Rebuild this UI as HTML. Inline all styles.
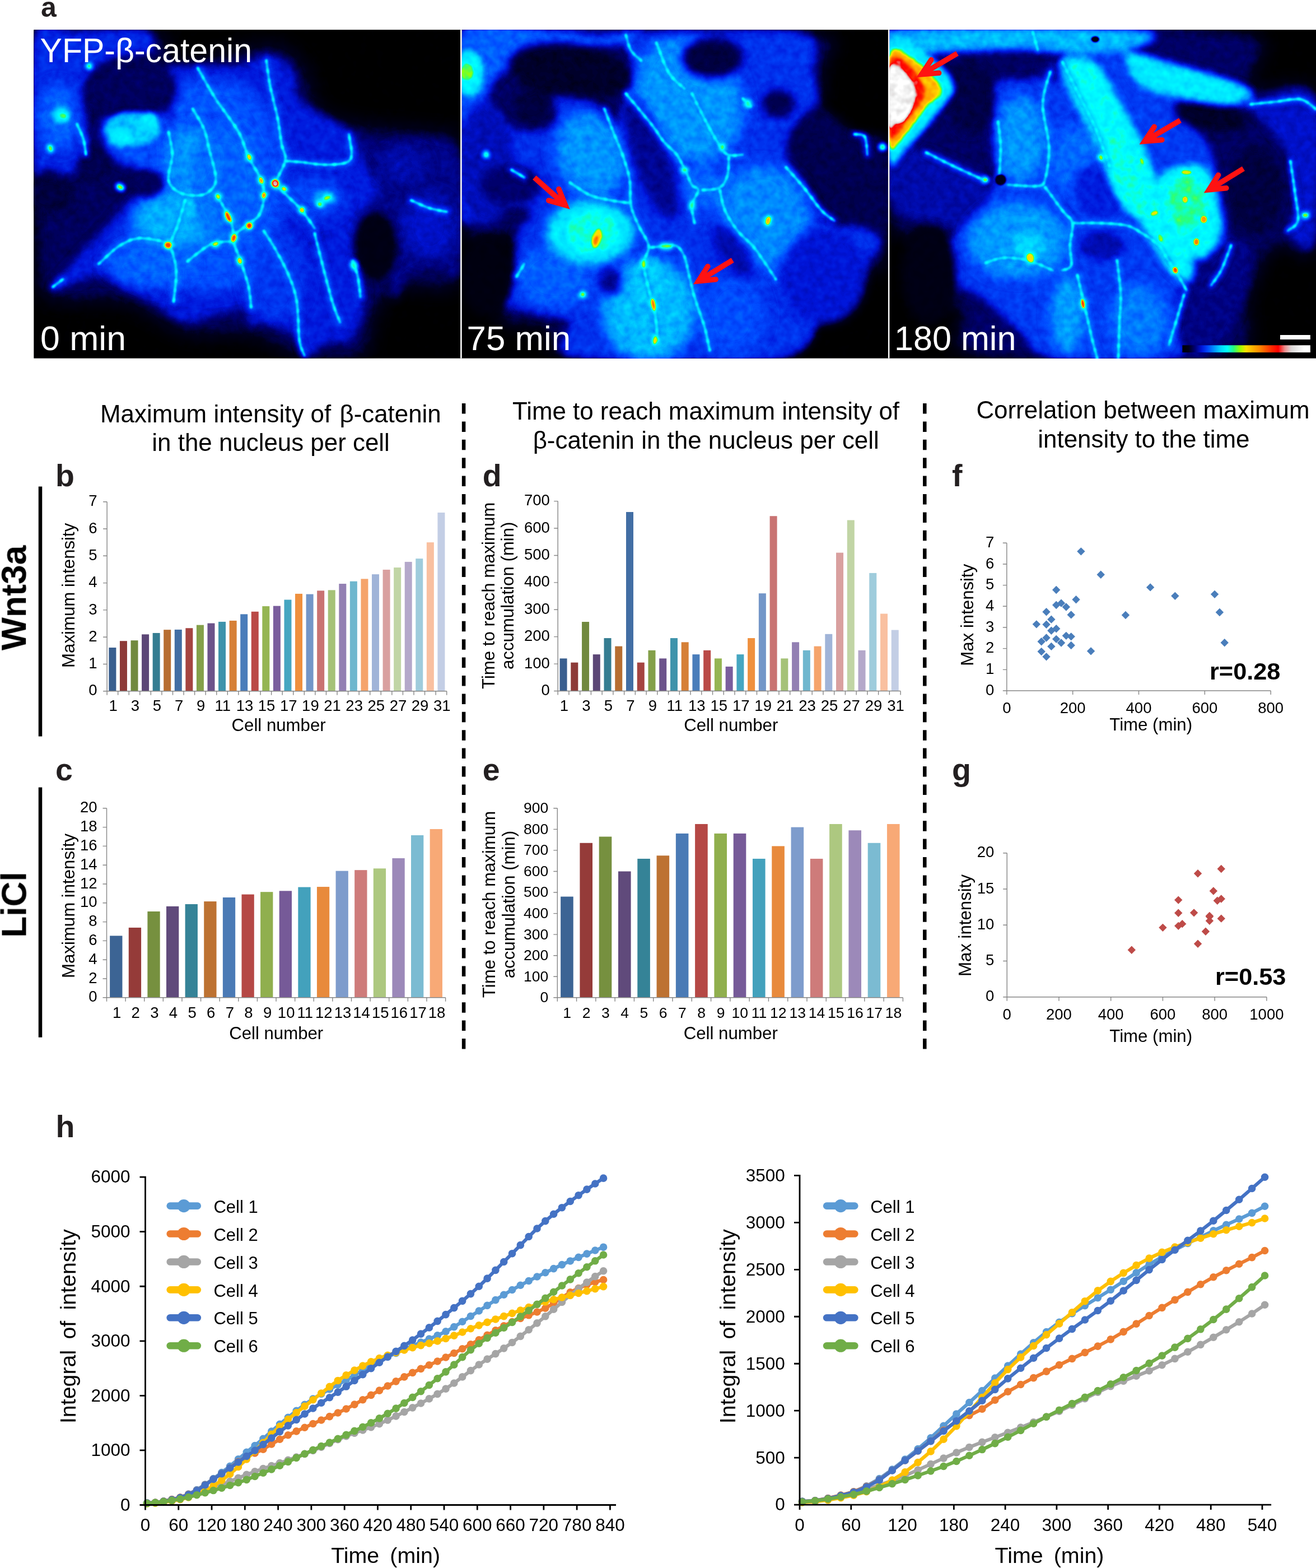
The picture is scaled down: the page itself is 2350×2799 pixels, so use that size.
<!DOCTYPE html>
<html lang="en"><head><meta charset="utf-8"><title>Figure</title>
<style>html,body{margin:0;padding:0;background:#fff}svg{display:block}</style></head><body>
<svg width="2350" height="2799" viewBox="0 0 2350 2799">
<rect width="2350" height="2799" fill="#fff"/>
<defs>
<filter id="lut" color-interpolation-filters="sRGB" filterUnits="userSpaceOnUse" x="60" y="53" width="2290" height="587"><feTurbulence type="fractalNoise" baseFrequency="0.07" numOctaves="2" seed="7" result="n"/><feColorMatrix in="n" type="matrix" values="1 0 0 0 0 1 0 0 0 0 1 0 0 0 0 0 0 0 0 1" result="g"/><feComposite in="SourceGraphic" in2="g" operator="arithmetic" k1="0.2" k2="0.9" k3="0.012" k4="-0.006"/><feComponentTransfer>
<feFuncR type="table" tableValues="0 0 0 0 0 0 0 0 0.15 0.6 1 1 1 1 1 1 0.92 0.86 0.92 1 1"/>
<feFuncG type="table" tableValues="0 0 0 0.08 0.3 0.58 0.85 1 1 1 0.87 0.7 0.55 0.35 0.15 0 0.55 0.84 0.92 1 1"/>
<feFuncB type="table" tableValues="0 0.1 0.47 0.85 1 1 1 1 0.5 0 0 0 0 0 0 0 0.55 0.84 0.92 1 1"/>
</feComponentTransfer></filter>
<filter id="b3" color-interpolation-filters="sRGB" filterUnits="userSpaceOnUse" x="-100" y="-80" width="1970" height="1530"><feGaussianBlur stdDeviation="3"/></filter>
<filter id="b4" color-interpolation-filters="sRGB" filterUnits="userSpaceOnUse" x="-100" y="-80" width="1970" height="1530"><feGaussianBlur stdDeviation="4"/></filter>
<filter id="b5" color-interpolation-filters="sRGB" filterUnits="userSpaceOnUse" x="-100" y="-80" width="1970" height="1530"><feGaussianBlur stdDeviation="5"/></filter>
<filter id="b7" color-interpolation-filters="sRGB" filterUnits="userSpaceOnUse" x="-100" y="-80" width="1970" height="1530"><feGaussianBlur stdDeviation="7"/></filter>
<filter id="b9" color-interpolation-filters="sRGB" filterUnits="userSpaceOnUse" x="-100" y="-80" width="1970" height="1530"><feGaussianBlur stdDeviation="9"/></filter>
<filter id="b11" color-interpolation-filters="sRGB" filterUnits="userSpaceOnUse" x="-100" y="-80" width="1970" height="1530"><feGaussianBlur stdDeviation="11"/></filter>
<filter id="b12" color-interpolation-filters="sRGB" filterUnits="userSpaceOnUse" x="-100" y="-80" width="1970" height="1530"><feGaussianBlur stdDeviation="12"/></filter>
<filter id="b14" color-interpolation-filters="sRGB" filterUnits="userSpaceOnUse" x="-100" y="-80" width="1970" height="1530"><feGaussianBlur stdDeviation="14"/></filter>
<filter id="b15" color-interpolation-filters="sRGB" filterUnits="userSpaceOnUse" x="-100" y="-80" width="1970" height="1530"><feGaussianBlur stdDeviation="15"/></filter>
<filter id="b16" color-interpolation-filters="sRGB" filterUnits="userSpaceOnUse" x="-100" y="-80" width="1970" height="1530"><feGaussianBlur stdDeviation="16"/></filter>
<filter id="b17" color-interpolation-filters="sRGB" filterUnits="userSpaceOnUse" x="-100" y="-80" width="1970" height="1530"><feGaussianBlur stdDeviation="17"/></filter>
<filter id="b20" color-interpolation-filters="sRGB" filterUnits="userSpaceOnUse" x="-100" y="-80" width="1970" height="1530"><feGaussianBlur stdDeviation="20"/></filter>
<filter id="b24" color-interpolation-filters="sRGB" filterUnits="userSpaceOnUse" x="-100" y="-80" width="1970" height="1530"><feGaussianBlur stdDeviation="24"/></filter>
<filter id="b26" color-interpolation-filters="sRGB" filterUnits="userSpaceOnUse" x="-100" y="-80" width="1970" height="1530"><feGaussianBlur stdDeviation="26"/></filter>
<filter id="b30" color-interpolation-filters="sRGB" filterUnits="userSpaceOnUse" x="-100" y="-80" width="1970" height="1530"><feGaussianBlur stdDeviation="30"/></filter>
<filter id="b32" color-interpolation-filters="sRGB" filterUnits="userSpaceOnUse" x="-100" y="-80" width="1970" height="1530"><feGaussianBlur stdDeviation="32"/></filter>
<filter id="b34" color-interpolation-filters="sRGB" filterUnits="userSpaceOnUse" x="-100" y="-80" width="1970" height="1530"><feGaussianBlur stdDeviation="34"/></filter>
<clipPath id="cp0"><rect x="60.4" y="53.2" width="761.7" height="586.4"/></clipPath>
<clipPath id="cp1"><rect x="824.7" y="53.2" width="761.2" height="586.4"/></clipPath>
<clipPath id="cp2"><rect x="1588.4" y="53.2" width="761.6" height="586.4"/></clipPath>
</defs>
<g filter="url(#lut)">
<rect x="60.4" y="53.2" width="2289.6" height="586.4" fill="#000"/>
<g clip-path="url(#cp0)"><g transform="translate(40,40) scale(0.45377)">
<g filter="url(#b34)">
<path d="M45 30C124.2 -115 424.2 10 520 30C615.8 50 543.3 141.7 620 150C696.7 158.3 896.7 75 980 80C1063.3 85 1088.3 138.3 1120 180C1151.7 221.7 1136.7 295 1170 330C1203.3 365 1248.3 375 1320 390C1391.7 405 1532.5 405 1600 420C1667.5 435 1704.2 381.7 1725 480C1745.8 578.3 1762.5 915 1725 1010C1687.5 1105 1554.2 1028.3 1500 1050C1445.8 1071.7 1426.7 1095 1400 1140C1373.3 1185 1391.7 1290 1340 1320C1288.3 1350 1163.3 1333.3 1090 1320C1016.7 1306.7 975 1255 900 1240C825 1225 723.3 1251.7 640 1230C556.7 1208.3 490 1133.3 400 1110C310 1086.7 159.2 1125 100 1090C40.8 1055 54.2 1076.7 45 900C35.8 723.3 -34.2 175 45 30Z" fill="#161616"/>
</g>
<g filter="url(#b16)">
<path d="M45 50C70.8 -38.3 152.5 43.3 200 40C247.5 36.7 281.7 31.7 330 30C378.3 28.3 460 16.7 490 30C520 43.3 535 90 510 110C485 130 380.8 130 340 150C299.2 170 281.7 200 265 230C248.3 260 240.8 293.3 240 330C239.2 366.7 260 415 260 450C260 485 253.3 515 240 540C226.7 565 203.3 595 180 600C156.7 605 122.5 575 100 570C77.5 565 54.2 656.7 45 570C35.8 483.3 19.2 138.3 45 50Z" fill="#2b2b2b"/>
<path d="M560 190C576.7 162.5 651.7 168.3 700 165C748.3 161.7 806.7 176.7 850 170C893.3 163.3 925 123.3 960 125C995 126.7 1038.3 150.8 1060 180C1081.7 209.2 1070 270 1090 300C1110 330 1146.7 338.3 1180 360C1213.3 381.7 1265 403.3 1290 430C1315 456.7 1311.7 485 1330 520C1348.3 555 1381.7 611.7 1400 640C1418.3 668.3 1451.7 670 1440 690C1428.3 710 1353.3 725 1330 760C1306.7 795 1298.3 860 1300 900C1301.7 940 1332.5 961.7 1340 1000C1347.5 1038.3 1353.3 1088.3 1345 1130C1336.7 1171.7 1314.2 1228.3 1290 1250C1265.8 1271.7 1228.3 1248.3 1200 1260C1171.7 1271.7 1140 1323.3 1120 1320C1100 1316.7 1106.7 1263.3 1080 1240C1053.3 1216.7 991.7 1188.3 960 1180C928.3 1171.7 905 1198.3 890 1190C875 1181.7 891.7 1136.7 870 1130C848.3 1123.3 798.3 1141.7 760 1150C721.7 1158.3 680 1186.7 640 1180C600 1173.3 556.7 1130 520 1110C483.3 1090 456.7 1078.3 420 1060C383.3 1041.7 350 1001.7 300 1000C250 998.3 133.3 1063.3 120 1050C106.7 1036.7 185 961.7 220 920C255 878.3 296.7 836.7 330 800C363.3 763.3 388.3 726.7 420 700C451.7 673.3 496.7 663.3 520 640C543.3 616.7 553.3 595 560 560C566.7 525 553.3 468.3 560 430C566.7 391.7 600 370 600 330C600 290 543.3 217.5 560 190Z" fill="#282828"/>
<path d="M1290 430C1290 401.7 1355 466.7 1400 470C1445 473.3 1505.8 440 1560 450C1614.2 460 1697.5 441.7 1725 530C1752.5 618.3 1742.5 908.3 1725 980C1707.5 1051.7 1654.2 956.7 1620 960C1585.8 963.3 1545 976.7 1520 1000C1495 1023.3 1483.3 1100 1470 1100C1456.7 1100 1438.3 1033.3 1440 1000C1441.7 966.7 1478.3 933.3 1480 900C1481.7 866.7 1475 823.3 1450 800C1425 776.7 1338.3 786.7 1330 760C1321.7 733.3 1406.7 695 1400 640C1393.3 585 1290 458.3 1290 430Z" fill="#1c1c1c"/>
<path d="M330 370C365 343.3 497.5 326.7 540 340C582.5 353.3 579.2 406.7 585 450C590.8 493.3 602.5 580.8 575 600C547.5 619.2 460.8 581.7 420 565C379.2 548.3 345 532.5 330 500C315 467.5 295 396.7 330 370Z" fill="#333333"/>
</g>
<g filter="url(#b30)">
<path d="M600 260C645 200 800 226.7 860 240C920 253.3 933.3 301.7 960 340C986.7 378.3 1006.7 416.7 1020 470C1033.3 523.3 1043.3 596.7 1040 660C1036.7 723.3 1013.3 793.3 1000 850C986.7 906.7 983.3 968.3 960 1000C936.7 1031.7 903.3 1030 860 1040C816.7 1050 763.3 1063.3 700 1060C636.7 1056.7 540 1043.3 480 1020C420 996.7 341.7 966.7 340 920C338.3 873.3 428.3 793.3 470 740C511.7 686.7 568.3 680 590 600C611.7 520 555 320 600 260Z" fill="#343434"/>
</g>
<g filter="url(#b26)">
<ellipse cx="140" cy="370" rx="80" ry="130" fill="#373737"/>
<ellipse cx="655" cy="540" rx="100" ry="130" fill="#404040"/>
<ellipse cx="620" cy="770" rx="190" ry="110" fill="#454545"/>
<ellipse cx="800" cy="640" rx="140" ry="230" fill="#383838" opacity="0.85"/>
<ellipse cx="1150" cy="690" rx="120" ry="80" fill="#323232"/>
<ellipse cx="500" cy="960" rx="170" ry="80" fill="#373737"/>
<ellipse cx="1000" cy="1000" rx="120" ry="180" fill="#2f2f2f" opacity="0.8"/>
<ellipse cx="1600" cy="800" rx="110" ry="130" fill="#242424"/>
<ellipse cx="1500" cy="560" rx="90" ry="70" fill="#212121"/>
</g>
<g filter="url(#b15)">
<ellipse cx="425" cy="262" rx="180" ry="115" fill="#161616"/>
<ellipse cx="282" cy="555" rx="58" ry="58" fill="#141414"/>
<ellipse cx="488" cy="635" rx="68" ry="52" fill="#161616"/>
<ellipse cx="110" cy="680" rx="90" ry="70" fill="#121212"/>
<ellipse cx="1160" cy="850" rx="26" ry="26" fill="#1f1f1f"/>
<ellipse cx="1390" cy="880" rx="75" ry="130" fill="#0a0a0a"/>
</g>
<g filter="url(#b11)">
<ellipse cx="433" cy="420" rx="110" ry="68" fill="#494949"/>
<ellipse cx="495" cy="388" rx="36" ry="34" fill="#545454"/>
<ellipse cx="385" cy="452" rx="48" ry="36" fill="#545454"/>
<ellipse cx="152" cy="365" rx="36" ry="36" fill="#4f4f4f"/>
<ellipse cx="650" cy="720" rx="28" ry="60" fill="#4a4a4a"/>
<ellipse cx="1190" cy="690" rx="50" ry="30" fill="#454545"/>
</g>
<g filter="url(#b9)">
<path d="M690 180C701.7 200 733.3 258.3 760 300C786.7 341.7 828.3 391.7 850 430C871.7 468.3 875 498.3 890 530C905 561.7 930 593.3 940 620C950 646.7 951.7 666.7 950 690C948.3 713.3 941.7 741.7 930 760C918.3 778.3 896.7 785 880 800C863.3 815 833.3 826.7 830 850C826.7 873.3 850 908.3 860 940C870 971.7 883.3 1010 890 1040C896.7 1070 898.3 1106.7 900 1120" fill="none" stroke="#404040" stroke-width="26" stroke-linecap="round" opacity="0.6"/>
<path d="M960 150C962.5 166.7 967.5 211.7 975 250C982.5 288.3 997.5 341.7 1005 380C1012.5 418.3 1015 453.3 1020 480C1025 506.7 1038.3 516.7 1035 540C1031.7 563.3 1005.8 606.7 1000 620" fill="none" stroke="#404040" stroke-width="26" stroke-linecap="round" opacity="0.6"/>
<path d="M670 340C677.5 353.3 704.2 393.3 715 420C725.8 446.7 727.5 470 735 500C742.5 530 757.5 575 760 600C762.5 625 760 636.7 750 650C740 663.3 721.7 676.7 700 680C678.3 683.3 640.8 680 620 670C599.2 660 580 645 575 620C570 595 590 551.7 590 520C590 488.3 577.5 445 575 430" fill="none" stroke="#404040" stroke-width="26" stroke-linecap="round" opacity="0.6"/>
<path d="M765 680C770.8 690 790.8 723.3 800 740C809.2 756.7 814.2 761.7 820 780C825.8 798.3 832.5 838.3 835 850" fill="none" stroke="#404040" stroke-width="26" stroke-linecap="round" opacity="0.6"/>
<path d="M300 950C313.3 938.3 355 896.7 380 880C405 863.3 426.7 854.2 450 850C473.3 845.8 499.2 850.8 520 855C540.8 859.2 561.7 860.8 575 875C588.3 889.2 595 919.2 600 940C605 960.8 605.8 973.3 605 1000C604.2 1026.7 596.7 1083.3 595 1100" fill="none" stroke="#404040" stroke-width="26" stroke-linecap="round" opacity="0.6"/>
<path d="M1035 545C1045.8 545.8 1072.5 547.5 1100 550C1127.5 552.5 1168.3 561.7 1200 560C1231.7 558.3 1275.8 560 1290 540C1304.2 520 1285.8 456.7 1285 440" fill="none" stroke="#404040" stroke-width="26" stroke-linecap="round" opacity="0.6"/>
<path d="M1000 640C1006.7 646.7 1023.3 663.3 1040 680C1056.7 696.7 1081.7 718.3 1100 740C1118.3 761.7 1141.7 798.3 1150 810" fill="none" stroke="#404040" stroke-width="26" stroke-linecap="round" opacity="0.6"/>
<path d="M950 820C958.3 833.3 983.3 870 1000 900C1016.7 930 1036.7 966.7 1050 1000C1063.3 1033.3 1073.3 1058.3 1080 1100C1086.7 1141.7 1085 1215 1090 1250C1095 1285 1106.7 1300 1110 1310" fill="none" stroke="#404040" stroke-width="26" stroke-linecap="round" opacity="0.6"/>
<path d="M650 940C658.3 933.3 683.3 911.7 700 900C716.7 888.3 728.3 876.7 750 870C771.7 863.3 816.7 861.7 830 860" fill="none" stroke="#404040" stroke-width="26" stroke-linecap="round" opacity="0.6"/>
<path d="M1300 940C1303.3 950 1315 976.7 1320 1000C1325 1023.3 1328.3 1066.7 1330 1080" fill="none" stroke="#404040" stroke-width="26" stroke-linecap="round" opacity="0.6"/>
<path d="M1530 700C1541.7 705 1576.7 722.5 1600 730C1623.3 737.5 1658.3 742.5 1670 745" fill="none" stroke="#404040" stroke-width="26" stroke-linecap="round" opacity="0.6"/>
<path d="M1150 830C1155 850 1168.3 905 1180 950C1191.7 995 1208.3 1061.7 1220 1100C1231.7 1138.3 1245 1166.7 1250 1180" fill="none" stroke="#404040" stroke-width="26" stroke-linecap="round" opacity="0.6"/>
<path d="M640 700C635 716.7 620 771.7 610 800C600 828.3 585 858.3 580 870" fill="none" stroke="#404040" stroke-width="26" stroke-linecap="round" opacity="0.6"/>
<path d="M120 1040L160 1010" fill="none" stroke="#404040" stroke-width="26" stroke-linecap="round" opacity="0.6"/>
<path d="M215 400C219.2 410 234.2 440 240 460C245.8 480 248.3 510 250 520" fill="none" stroke="#404040" stroke-width="26" stroke-linecap="round" opacity="0.6"/>
</g>
<g filter="url(#b4)">
<path d="M690 180C701.7 200 733.3 258.3 760 300C786.7 341.7 828.3 391.7 850 430C871.7 468.3 875 498.3 890 530C905 561.7 930 593.3 940 620C950 646.7 951.7 666.7 950 690C948.3 713.3 941.7 741.7 930 760C918.3 778.3 896.7 785 880 800C863.3 815 833.3 826.7 830 850C826.7 873.3 850 908.3 860 940C870 971.7 883.3 1010 890 1040C896.7 1070 898.3 1106.7 900 1120" fill="none" stroke="#535353" stroke-width="7.5" stroke-linecap="round"/>
<path d="M690 180C701.7 200 733.3 258.3 760 300C786.7 341.7 828.3 391.7 850 430C871.7 468.3 875 498.3 890 530C905 561.7 930 593.3 940 620C950 646.7 951.7 666.7 950 690C948.3 713.3 941.7 741.7 930 760C918.3 778.3 896.7 785 880 800C863.3 815 833.3 826.7 830 850C826.7 873.3 850 908.3 860 940C870 971.7 883.3 1010 890 1040C896.7 1070 898.3 1106.7 900 1120" fill="none" stroke="#5d5d5d" stroke-width="9.5" stroke-linecap="round" stroke-dasharray="8 30"/>
<path d="M960 150C962.5 166.7 967.5 211.7 975 250C982.5 288.3 997.5 341.7 1005 380C1012.5 418.3 1015 453.3 1020 480C1025 506.7 1038.3 516.7 1035 540C1031.7 563.3 1005.8 606.7 1000 620" fill="none" stroke="#535353" stroke-width="7.5" stroke-linecap="round"/>
<path d="M960 150C962.5 166.7 967.5 211.7 975 250C982.5 288.3 997.5 341.7 1005 380C1012.5 418.3 1015 453.3 1020 480C1025 506.7 1038.3 516.7 1035 540C1031.7 563.3 1005.8 606.7 1000 620" fill="none" stroke="#5d5d5d" stroke-width="9.5" stroke-linecap="round" stroke-dasharray="8 30"/>
<path d="M670 340C677.5 353.3 704.2 393.3 715 420C725.8 446.7 727.5 470 735 500C742.5 530 757.5 575 760 600C762.5 625 760 636.7 750 650C740 663.3 721.7 676.7 700 680C678.3 683.3 640.8 680 620 670C599.2 660 580 645 575 620C570 595 590 551.7 590 520C590 488.3 577.5 445 575 430" fill="none" stroke="#535353" stroke-width="7.5" stroke-linecap="round"/>
<path d="M670 340C677.5 353.3 704.2 393.3 715 420C725.8 446.7 727.5 470 735 500C742.5 530 757.5 575 760 600C762.5 625 760 636.7 750 650C740 663.3 721.7 676.7 700 680C678.3 683.3 640.8 680 620 670C599.2 660 580 645 575 620C570 595 590 551.7 590 520C590 488.3 577.5 445 575 430" fill="none" stroke="#5d5d5d" stroke-width="9.5" stroke-linecap="round" stroke-dasharray="8 30"/>
<path d="M765 680C770.8 690 790.8 723.3 800 740C809.2 756.7 814.2 761.7 820 780C825.8 798.3 832.5 838.3 835 850" fill="none" stroke="#535353" stroke-width="7.5" stroke-linecap="round"/>
<path d="M765 680C770.8 690 790.8 723.3 800 740C809.2 756.7 814.2 761.7 820 780C825.8 798.3 832.5 838.3 835 850" fill="none" stroke="#5d5d5d" stroke-width="9.5" stroke-linecap="round" stroke-dasharray="8 30"/>
<path d="M300 950C313.3 938.3 355 896.7 380 880C405 863.3 426.7 854.2 450 850C473.3 845.8 499.2 850.8 520 855C540.8 859.2 561.7 860.8 575 875C588.3 889.2 595 919.2 600 940C605 960.8 605.8 973.3 605 1000C604.2 1026.7 596.7 1083.3 595 1100" fill="none" stroke="#535353" stroke-width="7.5" stroke-linecap="round"/>
<path d="M300 950C313.3 938.3 355 896.7 380 880C405 863.3 426.7 854.2 450 850C473.3 845.8 499.2 850.8 520 855C540.8 859.2 561.7 860.8 575 875C588.3 889.2 595 919.2 600 940C605 960.8 605.8 973.3 605 1000C604.2 1026.7 596.7 1083.3 595 1100" fill="none" stroke="#5d5d5d" stroke-width="9.5" stroke-linecap="round" stroke-dasharray="8 30"/>
<path d="M1035 545C1045.8 545.8 1072.5 547.5 1100 550C1127.5 552.5 1168.3 561.7 1200 560C1231.7 558.3 1275.8 560 1290 540C1304.2 520 1285.8 456.7 1285 440" fill="none" stroke="#535353" stroke-width="7.5" stroke-linecap="round"/>
<path d="M1035 545C1045.8 545.8 1072.5 547.5 1100 550C1127.5 552.5 1168.3 561.7 1200 560C1231.7 558.3 1275.8 560 1290 540C1304.2 520 1285.8 456.7 1285 440" fill="none" stroke="#5d5d5d" stroke-width="9.5" stroke-linecap="round" stroke-dasharray="8 30"/>
<path d="M1000 640C1006.7 646.7 1023.3 663.3 1040 680C1056.7 696.7 1081.7 718.3 1100 740C1118.3 761.7 1141.7 798.3 1150 810" fill="none" stroke="#535353" stroke-width="7.5" stroke-linecap="round"/>
<path d="M1000 640C1006.7 646.7 1023.3 663.3 1040 680C1056.7 696.7 1081.7 718.3 1100 740C1118.3 761.7 1141.7 798.3 1150 810" fill="none" stroke="#5d5d5d" stroke-width="9.5" stroke-linecap="round" stroke-dasharray="8 30"/>
<path d="M950 820C958.3 833.3 983.3 870 1000 900C1016.7 930 1036.7 966.7 1050 1000C1063.3 1033.3 1073.3 1058.3 1080 1100C1086.7 1141.7 1085 1215 1090 1250C1095 1285 1106.7 1300 1110 1310" fill="none" stroke="#535353" stroke-width="7.5" stroke-linecap="round"/>
<path d="M950 820C958.3 833.3 983.3 870 1000 900C1016.7 930 1036.7 966.7 1050 1000C1063.3 1033.3 1073.3 1058.3 1080 1100C1086.7 1141.7 1085 1215 1090 1250C1095 1285 1106.7 1300 1110 1310" fill="none" stroke="#5d5d5d" stroke-width="9.5" stroke-linecap="round" stroke-dasharray="8 30"/>
<path d="M650 940C658.3 933.3 683.3 911.7 700 900C716.7 888.3 728.3 876.7 750 870C771.7 863.3 816.7 861.7 830 860" fill="none" stroke="#535353" stroke-width="7.5" stroke-linecap="round"/>
<path d="M650 940C658.3 933.3 683.3 911.7 700 900C716.7 888.3 728.3 876.7 750 870C771.7 863.3 816.7 861.7 830 860" fill="none" stroke="#5d5d5d" stroke-width="9.5" stroke-linecap="round" stroke-dasharray="8 30"/>
<path d="M1300 940C1303.3 950 1315 976.7 1320 1000C1325 1023.3 1328.3 1066.7 1330 1080" fill="none" stroke="#535353" stroke-width="7.5" stroke-linecap="round"/>
<path d="M1300 940C1303.3 950 1315 976.7 1320 1000C1325 1023.3 1328.3 1066.7 1330 1080" fill="none" stroke="#5d5d5d" stroke-width="9.5" stroke-linecap="round" stroke-dasharray="8 30"/>
<path d="M1530 700C1541.7 705 1576.7 722.5 1600 730C1623.3 737.5 1658.3 742.5 1670 745" fill="none" stroke="#535353" stroke-width="7.5" stroke-linecap="round"/>
<path d="M1530 700C1541.7 705 1576.7 722.5 1600 730C1623.3 737.5 1658.3 742.5 1670 745" fill="none" stroke="#5d5d5d" stroke-width="9.5" stroke-linecap="round" stroke-dasharray="8 30"/>
<path d="M1150 830C1155 850 1168.3 905 1180 950C1191.7 995 1208.3 1061.7 1220 1100C1231.7 1138.3 1245 1166.7 1250 1180" fill="none" stroke="#535353" stroke-width="7.5" stroke-linecap="round"/>
<path d="M1150 830C1155 850 1168.3 905 1180 950C1191.7 995 1208.3 1061.7 1220 1100C1231.7 1138.3 1245 1166.7 1250 1180" fill="none" stroke="#5d5d5d" stroke-width="9.5" stroke-linecap="round" stroke-dasharray="8 30"/>
<path d="M640 700C635 716.7 620 771.7 610 800C600 828.3 585 858.3 580 870" fill="none" stroke="#535353" stroke-width="7.5" stroke-linecap="round"/>
<path d="M640 700C635 716.7 620 771.7 610 800C600 828.3 585 858.3 580 870" fill="none" stroke="#5d5d5d" stroke-width="9.5" stroke-linecap="round" stroke-dasharray="8 30"/>
<path d="M120 1040L160 1010" fill="none" stroke="#535353" stroke-width="7.5" stroke-linecap="round"/>
<path d="M120 1040L160 1010" fill="none" stroke="#5d5d5d" stroke-width="9.5" stroke-linecap="round" stroke-dasharray="8 30"/>
<path d="M215 400C219.2 410 234.2 440 240 460C245.8 480 248.3 510 250 520" fill="none" stroke="#535353" stroke-width="7.5" stroke-linecap="round"/>
<path d="M215 400C219.2 410 234.2 440 240 460C245.8 480 248.3 510 250 520" fill="none" stroke="#5d5d5d" stroke-width="9.5" stroke-linecap="round" stroke-dasharray="8 30"/>
</g>
<g filter="url(#b7)">
<ellipse cx="995" cy="633" rx="22" ry="23" fill="#5c5c5c" opacity="0.8"/>
<ellipse cx="940" cy="622" rx="16" ry="21" fill="#5c5c5c" transform="rotate(-20 940 622)" opacity="0.8"/>
<ellipse cx="1030" cy="655" rx="18" ry="15" fill="#5c5c5c" transform="rotate(30 1030 655)" opacity="0.8"/>
<ellipse cx="893" cy="530" rx="16" ry="20" fill="#5c5c5c" transform="rotate(-20 893 530)" opacity="0.8"/>
<ellipse cx="950" cy="680" rx="16" ry="20" fill="#5c5c5c" transform="rotate(10 950 680)" opacity="0.8"/>
<ellipse cx="810" cy="765" rx="17" ry="29" fill="#5c5c5c" transform="rotate(-25 810 765)" opacity="0.8"/>
<ellipse cx="893" cy="800" rx="20" ry="20" fill="#5c5c5c" opacity="0.8"/>
<ellipse cx="832" cy="848" rx="18" ry="23" fill="#5c5c5c" transform="rotate(20 832 848)" opacity="0.8"/>
<ellipse cx="573" cy="876" rx="22" ry="21" fill="#5c5c5c" opacity="0.8"/>
<ellipse cx="760" cy="872" rx="20" ry="15" fill="#5c5c5c" transform="rotate(-20 760 872)" opacity="0.8"/>
<ellipse cx="855" cy="938" rx="16" ry="20" fill="#5c5c5c" transform="rotate(-15 855 938)" opacity="0.8"/>
<ellipse cx="1100" cy="738" rx="17" ry="18" fill="#5c5c5c" opacity="0.8"/>
<ellipse cx="1200" cy="690" rx="23" ry="16" fill="#5c5c5c" transform="rotate(-20 1200 690)" opacity="0.8"/>
<ellipse cx="385" cy="648" rx="21" ry="16" fill="#5c5c5c" transform="rotate(30 385 648)" opacity="0.8"/>
<ellipse cx="110" cy="495" rx="16" ry="19" fill="#5c5c5c" transform="rotate(-20 110 495)" opacity="0.8"/>
<ellipse cx="160" cy="368" rx="21" ry="18" fill="#5c5c5c" opacity="0.8"/>
<ellipse cx="770" cy="685" rx="16" ry="18" fill="#5c5c5c" transform="rotate(-30 770 685)" opacity="0.8"/>
<ellipse cx="1305" cy="955" rx="16" ry="21" fill="#5c5c5c" transform="rotate(-15 1305 955)" opacity="0.8"/>
<ellipse cx="1170" cy="715" rx="17" ry="17" fill="#5c5c5c" opacity="0.8"/>
<ellipse cx="262" cy="172" rx="15" ry="15" fill="#5c5c5c" opacity="0.8"/>
</g>
<g filter="url(#b3)">
<ellipse cx="995" cy="633" rx="13" ry="14" fill="#d9d9d9"/>
<ellipse cx="940" cy="622" rx="7" ry="12" fill="#999999" transform="rotate(-20 940 622)"/>
<ellipse cx="1030" cy="655" rx="9" ry="6" fill="#8c8c8c" transform="rotate(30 1030 655)"/>
<ellipse cx="893" cy="530" rx="7" ry="11" fill="#8c8c8c" transform="rotate(-20 893 530)"/>
<ellipse cx="950" cy="680" rx="7" ry="11" fill="#999999" transform="rotate(10 950 680)"/>
<ellipse cx="810" cy="765" rx="8" ry="20" fill="#adadad" transform="rotate(-25 810 765)"/>
<ellipse cx="893" cy="800" rx="11" ry="11" fill="#b2b2b2"/>
<ellipse cx="832" cy="848" rx="9" ry="14" fill="#a8a8a8" transform="rotate(20 832 848)"/>
<ellipse cx="573" cy="876" rx="13" ry="12" fill="#a8a8a8"/>
<ellipse cx="760" cy="872" rx="11" ry="6" fill="#808080" transform="rotate(-20 760 872)"/>
<ellipse cx="855" cy="938" rx="7" ry="11" fill="#8c8c8c" transform="rotate(-15 855 938)"/>
<ellipse cx="1100" cy="738" rx="8" ry="9" fill="#8c8c8c"/>
<ellipse cx="1200" cy="690" rx="14" ry="7" fill="#737373" transform="rotate(-20 1200 690)"/>
<ellipse cx="385" cy="648" rx="12" ry="7" fill="#737373" transform="rotate(30 385 648)"/>
<ellipse cx="110" cy="495" rx="7" ry="10" fill="#737373" transform="rotate(-20 110 495)"/>
<ellipse cx="160" cy="368" rx="12" ry="9" fill="#6b6b6b"/>
<ellipse cx="770" cy="685" rx="7" ry="9" fill="#808080" transform="rotate(-30 770 685)"/>
<ellipse cx="1305" cy="955" rx="7" ry="12" fill="#616161" transform="rotate(-15 1305 955)"/>
<ellipse cx="1170" cy="715" rx="8" ry="8" fill="#6b6b6b"/>
<ellipse cx="262" cy="172" rx="6" ry="6" fill="#666666"/>
</g>
</g></g>
<g clip-path="url(#cp1)"><g transform="translate(800,40) scale(0.45377)">
<g filter="url(#b32)">
<path d="M52 30C276.7 -100 1162 1.7 1400 30C1638 58.3 1468.3 133.3 1480 200C1491.7 266.7 1450 386.7 1470 430C1490 473.3 1556.7 448.3 1600 460C1643.3 471.7 1708.3 423.3 1730 500C1751.7 576.7 1751.7 835 1730 920C1708.3 1005 1655 978.3 1600 1010C1545 1041.7 1448.3 1058.3 1400 1110C1351.7 1161.7 1463.3 1285 1310 1320C1156.7 1355 633.3 1338.3 480 1320C326.7 1301.7 438.3 1236.7 390 1210C341.7 1183.3 213.3 1220 190 1160C166.7 1100 273 908.3 250 850C227 791.7 85 946.7 52 810C19 673.3 -172.7 160 52 30Z" fill="#171717"/>
</g>
<g filter="url(#b16)">
<path d="M52 30C113.3 -36.7 328.7 26.7 420 30C511.3 33.3 543.3 50 600 50C656.7 50 740 25 760 30C780 35 753.3 68.3 720 80C686.7 91.7 630 88.3 560 100C490 111.7 365 125 300 150C235 175 198.3 205 170 250C141.7 295 149.7 390 130 420C110.3 450 65 495 52 430C39 365 -9.3 96.7 52 30Z" fill="#363636"/>
<path d="M52 430C65 350 95.3 301.7 130 300C164.7 298.3 211.7 403.3 260 420C308.3 436.7 393.3 426.7 420 400C446.7 373.3 396.7 276.7 420 260C443.3 243.3 521.7 273.3 560 300C598.3 326.7 623.3 436.7 650 420C676.7 403.3 708.3 260 720 200C731.7 140 690 86.7 720 60C750 33.3 786.7 43.3 900 40C1013.3 36.7 1310 13.3 1400 40C1490 66.7 1431.7 151.7 1440 200C1448.3 248.3 1468.3 283.3 1450 330C1431.7 376.7 1338.3 426.7 1330 480C1321.7 533.3 1377.2 607.2 1400 650C1422.8 692.8 1440.5 715.3 1467 737C1493.5 758.7 1520 761.5 1559 780C1598 798.5 1685.8 819.7 1701 848C1716.2 876.3 1683.8 906.8 1650 950C1616.2 993.2 1554.2 1045 1498 1107C1441.8 1169 1479.3 1286.5 1313 1322C1146.7 1357.5 638.8 1343.7 500 1320C361.2 1296.3 508.3 1210 480 1180C451.7 1150 376.7 1153.3 330 1140C283.3 1126.7 210 1126.7 200 1100C190 1073.3 258.3 1023.3 270 980C281.7 936.7 260 880 270 840C280 800 341.7 760 330 740C318.3 720 246.3 713.3 200 720C153.7 726.7 76.7 828.3 52 780C27.3 731.7 39 510 52 430Z" fill="#2d2d2d"/>
<path d="M1450 330C1495 320 1553.3 395 1600 420C1646.7 445 1708.3 416.7 1730 480C1751.7 543.3 1751.7 746.7 1730 800C1708.3 853.3 1638.3 801.7 1600 800C1561.7 798.3 1533.3 815 1500 790C1466.7 765 1428.3 701.7 1400 650C1371.7 598.3 1321.7 533.3 1330 480C1338.3 426.7 1405 340 1450 330Z" fill="#141414"/>
</g>
<g filter="url(#b26)">
<ellipse cx="560" cy="520" rx="135" ry="175" fill="#404040" transform="rotate(-20 560 520)"/>
<ellipse cx="950" cy="300" rx="205" ry="255" fill="#404040" transform="rotate(-25 950 300)"/>
<ellipse cx="1250" cy="760" rx="175" ry="205" fill="#3e3e3e" transform="rotate(-20 1250 760)"/>
<ellipse cx="790" cy="1130" rx="185" ry="205" fill="#474747"/>
<ellipse cx="420" cy="1000" rx="160" ry="130" fill="#363636"/>
<ellipse cx="1120" cy="1150" rx="130" ry="160" fill="#333333"/>
<ellipse cx="1000" cy="650" rx="90" ry="90" fill="#383838"/>
</g>
<g filter="url(#b17)">
<ellipse cx="480" cy="190" rx="240" ry="105" fill="#0f0f0f" transform="rotate(8 480 190)"/>
<ellipse cx="330" cy="330" rx="70" ry="70" fill="#121212"/>
<ellipse cx="1040" cy="140" rx="120" ry="80" fill="#121212"/>
<ellipse cx="1300" cy="320" rx="65" ry="55" fill="#141414"/>
<ellipse cx="800" cy="540" rx="72" ry="250" fill="#1d1d1d" transform="rotate(-20 800 540)"/>
<ellipse cx="150" cy="560" rx="110" ry="240" fill="#222222"/>
<ellipse cx="1120" cy="900" rx="55" ry="120" fill="#212121" transform="rotate(-35 1120 900)"/>
<ellipse cx="640" cy="1020" rx="45" ry="55" fill="#1c1c1c"/>
<ellipse cx="250" cy="640" rx="120" ry="80" fill="#181818"/>
<ellipse cx="1480" cy="1000" rx="170" ry="190" fill="#262626"/>
<ellipse cx="150" cy="1000" rx="100" ry="160" fill="#080808"/>
</g>
<g filter="url(#b20)">
<ellipse cx="560" cy="825" rx="175" ry="125" fill="#525252"/>
</g>
<g filter="url(#b11)">
<ellipse cx="570" cy="825" rx="105" ry="85" fill="#5c5c5c"/>
<ellipse cx="85" cy="200" rx="55" ry="90" fill="#545454"/>
<ellipse cx="790" cy="1020" rx="60" ry="100" fill="#4a4a4a"/>
<ellipse cx="800" cy="1240" rx="90" ry="60" fill="#474747"/>
</g>
<g filter="url(#b9)">
<path d="M700 280C716.7 300 775 368.3 800 400C825 431.7 833.3 450 850 470C866.7 490 885.8 500.8 900 520C914.2 539.2 925 565 935 585C945 605 951.7 627.5 960 640C968.3 652.5 985 646.7 985 660C985 673.3 962.5 698.3 960 720C957.5 741.7 968.3 778.3 970 790" fill="none" stroke="#404040" stroke-width="26" stroke-linecap="round" opacity="0.6"/>
<path d="M615 340C620.8 355 637.5 398.3 650 430C662.5 461.7 679.2 498.3 690 530C700.8 561.7 710 588.3 715 620C720 651.7 714.2 690 720 720C725.8 750 738.3 773.3 750 800C761.7 826.7 786.7 855 790 880C793.3 905 770 921.7 770 950C770 978.3 782.5 1016.7 790 1050C797.5 1083.3 809.2 1116.7 815 1150C820.8 1183.3 823.3 1233.3 825 1250" fill="none" stroke="#404040" stroke-width="26" stroke-linecap="round" opacity="0.6"/>
<path d="M960 280C968.3 296.7 993.3 348.3 1010 380C1026.7 411.7 1045 446.7 1060 470C1075 493.3 1083.3 511.7 1100 520C1116.7 528.3 1150 520 1160 520" fill="none" stroke="#404040" stroke-width="26" stroke-linecap="round" opacity="0.6"/>
<path d="M1105 530C1104.2 541.7 1105.8 580 1100 600C1094.2 620 1086.7 640 1070 650C1053.3 660 1011.7 658.3 1000 660" fill="none" stroke="#404040" stroke-width="26" stroke-linecap="round" opacity="0.6"/>
<path d="M1070 660C1073.3 673.3 1078.3 713.3 1090 740C1101.7 766.7 1121.7 796.7 1140 820C1158.3 843.3 1181.7 858.3 1200 880C1218.3 901.7 1235 928.3 1250 950C1265 971.7 1283.3 1000 1290 1010" fill="none" stroke="#404040" stroke-width="26" stroke-linecap="round" opacity="0.6"/>
<path d="M800 885C810 884.2 843.3 880.8 860 880C876.7 879.2 888.3 873.3 900 880C911.7 886.7 921.7 900 930 920C938.3 940 943.3 973.3 950 1000C956.7 1026.7 960 1046.7 970 1080C980 1113.3 1000 1165 1010 1200C1020 1235 1026.7 1275 1030 1290" fill="none" stroke="#404040" stroke-width="26" stroke-linecap="round" opacity="0.6"/>
<path d="M480 630C493.3 638.3 533.3 668.3 560 680C586.7 691.7 615 695 640 700C665 705 698.3 708.3 710 710" fill="none" stroke="#404040" stroke-width="26" stroke-linecap="round" opacity="0.6"/>
<path d="M1330 570C1341.7 583.3 1376.7 621.7 1400 650C1423.3 678.3 1450 718.3 1470 740C1490 761.7 1511.7 773.3 1520 780" fill="none" stroke="#404040" stroke-width="26" stroke-linecap="round" opacity="0.6"/>
<path d="M250 580L300 610" fill="none" stroke="#404040" stroke-width="26" stroke-linecap="round" opacity="0.6"/>
<path d="M700 50C703.3 60 710 93.3 720 110C730 126.7 753.3 143.3 760 150" fill="none" stroke="#404040" stroke-width="26" stroke-linecap="round" opacity="0.6"/>
<path d="M820 80C828.3 100 851.7 170 870 200C888.3 230 920 250 930 260" fill="none" stroke="#404040" stroke-width="26" stroke-linecap="round" opacity="0.6"/>
<path d="M1160 300L1190 330" fill="none" stroke="#404040" stroke-width="26" stroke-linecap="round" opacity="0.6"/>
<path d="M270 1000L300 950" fill="none" stroke="#404040" stroke-width="26" stroke-linecap="round" opacity="0.6"/>
<path d="M1600 440C1606.7 441.7 1631.7 436.7 1640 450C1648.3 463.3 1648.3 508.3 1650 520" fill="none" stroke="#404040" stroke-width="26" stroke-linecap="round" opacity="0.6"/>
</g>
<g filter="url(#b4)">
<path d="M700 280C716.7 300 775 368.3 800 400C825 431.7 833.3 450 850 470C866.7 490 885.8 500.8 900 520C914.2 539.2 925 565 935 585C945 605 951.7 627.5 960 640C968.3 652.5 985 646.7 985 660C985 673.3 962.5 698.3 960 720C957.5 741.7 968.3 778.3 970 790" fill="none" stroke="#535353" stroke-width="7.5" stroke-linecap="round"/>
<path d="M700 280C716.7 300 775 368.3 800 400C825 431.7 833.3 450 850 470C866.7 490 885.8 500.8 900 520C914.2 539.2 925 565 935 585C945 605 951.7 627.5 960 640C968.3 652.5 985 646.7 985 660C985 673.3 962.5 698.3 960 720C957.5 741.7 968.3 778.3 970 790" fill="none" stroke="#5d5d5d" stroke-width="9.5" stroke-linecap="round" stroke-dasharray="8 30"/>
<path d="M615 340C620.8 355 637.5 398.3 650 430C662.5 461.7 679.2 498.3 690 530C700.8 561.7 710 588.3 715 620C720 651.7 714.2 690 720 720C725.8 750 738.3 773.3 750 800C761.7 826.7 786.7 855 790 880C793.3 905 770 921.7 770 950C770 978.3 782.5 1016.7 790 1050C797.5 1083.3 809.2 1116.7 815 1150C820.8 1183.3 823.3 1233.3 825 1250" fill="none" stroke="#535353" stroke-width="7.5" stroke-linecap="round"/>
<path d="M615 340C620.8 355 637.5 398.3 650 430C662.5 461.7 679.2 498.3 690 530C700.8 561.7 710 588.3 715 620C720 651.7 714.2 690 720 720C725.8 750 738.3 773.3 750 800C761.7 826.7 786.7 855 790 880C793.3 905 770 921.7 770 950C770 978.3 782.5 1016.7 790 1050C797.5 1083.3 809.2 1116.7 815 1150C820.8 1183.3 823.3 1233.3 825 1250" fill="none" stroke="#5d5d5d" stroke-width="9.5" stroke-linecap="round" stroke-dasharray="8 30"/>
<path d="M960 280C968.3 296.7 993.3 348.3 1010 380C1026.7 411.7 1045 446.7 1060 470C1075 493.3 1083.3 511.7 1100 520C1116.7 528.3 1150 520 1160 520" fill="none" stroke="#535353" stroke-width="7.5" stroke-linecap="round"/>
<path d="M960 280C968.3 296.7 993.3 348.3 1010 380C1026.7 411.7 1045 446.7 1060 470C1075 493.3 1083.3 511.7 1100 520C1116.7 528.3 1150 520 1160 520" fill="none" stroke="#5d5d5d" stroke-width="9.5" stroke-linecap="round" stroke-dasharray="8 30"/>
<path d="M1105 530C1104.2 541.7 1105.8 580 1100 600C1094.2 620 1086.7 640 1070 650C1053.3 660 1011.7 658.3 1000 660" fill="none" stroke="#535353" stroke-width="7.5" stroke-linecap="round"/>
<path d="M1105 530C1104.2 541.7 1105.8 580 1100 600C1094.2 620 1086.7 640 1070 650C1053.3 660 1011.7 658.3 1000 660" fill="none" stroke="#5d5d5d" stroke-width="9.5" stroke-linecap="round" stroke-dasharray="8 30"/>
<path d="M1070 660C1073.3 673.3 1078.3 713.3 1090 740C1101.7 766.7 1121.7 796.7 1140 820C1158.3 843.3 1181.7 858.3 1200 880C1218.3 901.7 1235 928.3 1250 950C1265 971.7 1283.3 1000 1290 1010" fill="none" stroke="#535353" stroke-width="7.5" stroke-linecap="round"/>
<path d="M1070 660C1073.3 673.3 1078.3 713.3 1090 740C1101.7 766.7 1121.7 796.7 1140 820C1158.3 843.3 1181.7 858.3 1200 880C1218.3 901.7 1235 928.3 1250 950C1265 971.7 1283.3 1000 1290 1010" fill="none" stroke="#5d5d5d" stroke-width="9.5" stroke-linecap="round" stroke-dasharray="8 30"/>
<path d="M800 885C810 884.2 843.3 880.8 860 880C876.7 879.2 888.3 873.3 900 880C911.7 886.7 921.7 900 930 920C938.3 940 943.3 973.3 950 1000C956.7 1026.7 960 1046.7 970 1080C980 1113.3 1000 1165 1010 1200C1020 1235 1026.7 1275 1030 1290" fill="none" stroke="#535353" stroke-width="7.5" stroke-linecap="round"/>
<path d="M800 885C810 884.2 843.3 880.8 860 880C876.7 879.2 888.3 873.3 900 880C911.7 886.7 921.7 900 930 920C938.3 940 943.3 973.3 950 1000C956.7 1026.7 960 1046.7 970 1080C980 1113.3 1000 1165 1010 1200C1020 1235 1026.7 1275 1030 1290" fill="none" stroke="#5d5d5d" stroke-width="9.5" stroke-linecap="round" stroke-dasharray="8 30"/>
<path d="M480 630C493.3 638.3 533.3 668.3 560 680C586.7 691.7 615 695 640 700C665 705 698.3 708.3 710 710" fill="none" stroke="#535353" stroke-width="7.5" stroke-linecap="round"/>
<path d="M480 630C493.3 638.3 533.3 668.3 560 680C586.7 691.7 615 695 640 700C665 705 698.3 708.3 710 710" fill="none" stroke="#5d5d5d" stroke-width="9.5" stroke-linecap="round" stroke-dasharray="8 30"/>
<path d="M1330 570C1341.7 583.3 1376.7 621.7 1400 650C1423.3 678.3 1450 718.3 1470 740C1490 761.7 1511.7 773.3 1520 780" fill="none" stroke="#535353" stroke-width="7.5" stroke-linecap="round"/>
<path d="M1330 570C1341.7 583.3 1376.7 621.7 1400 650C1423.3 678.3 1450 718.3 1470 740C1490 761.7 1511.7 773.3 1520 780" fill="none" stroke="#5d5d5d" stroke-width="9.5" stroke-linecap="round" stroke-dasharray="8 30"/>
<path d="M250 580L300 610" fill="none" stroke="#535353" stroke-width="7.5" stroke-linecap="round"/>
<path d="M250 580L300 610" fill="none" stroke="#5d5d5d" stroke-width="9.5" stroke-linecap="round" stroke-dasharray="8 30"/>
<path d="M700 50C703.3 60 710 93.3 720 110C730 126.7 753.3 143.3 760 150" fill="none" stroke="#535353" stroke-width="7.5" stroke-linecap="round"/>
<path d="M700 50C703.3 60 710 93.3 720 110C730 126.7 753.3 143.3 760 150" fill="none" stroke="#5d5d5d" stroke-width="9.5" stroke-linecap="round" stroke-dasharray="8 30"/>
<path d="M820 80C828.3 100 851.7 170 870 200C888.3 230 920 250 930 260" fill="none" stroke="#535353" stroke-width="7.5" stroke-linecap="round"/>
<path d="M820 80C828.3 100 851.7 170 870 200C888.3 230 920 250 930 260" fill="none" stroke="#5d5d5d" stroke-width="9.5" stroke-linecap="round" stroke-dasharray="8 30"/>
<path d="M1160 300L1190 330" fill="none" stroke="#535353" stroke-width="7.5" stroke-linecap="round"/>
<path d="M1160 300L1190 330" fill="none" stroke="#5d5d5d" stroke-width="9.5" stroke-linecap="round" stroke-dasharray="8 30"/>
<path d="M270 1000L300 950" fill="none" stroke="#535353" stroke-width="7.5" stroke-linecap="round"/>
<path d="M270 1000L300 950" fill="none" stroke="#5d5d5d" stroke-width="9.5" stroke-linecap="round" stroke-dasharray="8 30"/>
<path d="M1600 440C1606.7 441.7 1631.7 436.7 1640 450C1648.3 463.3 1648.3 508.3 1650 520" fill="none" stroke="#535353" stroke-width="7.5" stroke-linecap="round"/>
<path d="M1600 440C1606.7 441.7 1631.7 436.7 1640 450C1648.3 463.3 1648.3 508.3 1650 520" fill="none" stroke="#5d5d5d" stroke-width="9.5" stroke-linecap="round" stroke-dasharray="8 30"/>
</g>
<g filter="url(#b7)">
<ellipse cx="585" cy="850" rx="27" ry="47" fill="#5c5c5c" transform="rotate(15 585 850)" opacity="0.8"/>
<ellipse cx="582" cy="858" rx="17" ry="27" fill="#5c5c5c" transform="rotate(15 582 858)" opacity="0.8"/>
<ellipse cx="75" cy="195" rx="33" ry="41" fill="#5c5c5c" opacity="0.8"/>
<ellipse cx="808" cy="1110" rx="16" ry="33" fill="#5c5c5c" transform="rotate(-10 808 1110)" opacity="0.8"/>
<ellipse cx="815" cy="1250" rx="16" ry="25" fill="#5c5c5c" transform="rotate(10 815 1250)" opacity="0.8"/>
<ellipse cx="1260" cy="780" rx="18" ry="25" fill="#5c5c5c" transform="rotate(15 1260 780)" opacity="0.8"/>
<ellipse cx="530" cy="1070" rx="17" ry="17" fill="#5c5c5c" opacity="0.8"/>
<ellipse cx="770" cy="950" rx="15" ry="23" fill="#5c5c5c" opacity="0.8"/>
<ellipse cx="860" cy="880" rx="29" ry="15" fill="#5c5c5c" opacity="0.8"/>
<ellipse cx="1080" cy="490" rx="15" ry="17" fill="#5c5c5c" opacity="0.8"/>
<ellipse cx="930" cy="580" rx="17" ry="15" fill="#5c5c5c" opacity="0.8"/>
<ellipse cx="1710" cy="490" rx="17" ry="17" fill="#5c5c5c" opacity="0.8"/>
<ellipse cx="960" cy="720" rx="15" ry="19" fill="#5c5c5c" opacity="0.8"/>
<ellipse cx="150" cy="520" rx="16" ry="16" fill="#5c5c5c" opacity="0.8"/>
<ellipse cx="1180" cy="320" rx="17" ry="19" fill="#5c5c5c" opacity="0.8"/>
</g>
<g filter="url(#b3)">
<ellipse cx="585" cy="850" rx="18" ry="38" fill="#808080" transform="rotate(15 585 850)"/>
<ellipse cx="582" cy="858" rx="8" ry="18" fill="#a8a8a8" transform="rotate(15 582 858)"/>
<ellipse cx="75" cy="195" rx="24" ry="32" fill="#707070"/>
<ellipse cx="808" cy="1110" rx="7" ry="24" fill="#999999" transform="rotate(-10 808 1110)"/>
<ellipse cx="815" cy="1250" rx="7" ry="16" fill="#808080" transform="rotate(10 815 1250)"/>
<ellipse cx="1260" cy="780" rx="9" ry="16" fill="#8c8c8c" transform="rotate(15 1260 780)"/>
<ellipse cx="530" cy="1070" rx="8" ry="8" fill="#737373"/>
<ellipse cx="770" cy="950" rx="6" ry="14" fill="#737373"/>
<ellipse cx="860" cy="880" rx="20" ry="6" fill="#737373"/>
<ellipse cx="1080" cy="490" rx="6" ry="8" fill="#6b6b6b"/>
<ellipse cx="930" cy="580" rx="8" ry="6" fill="#6b6b6b"/>
<ellipse cx="1710" cy="490" rx="8" ry="8" fill="#666666"/>
<ellipse cx="960" cy="720" rx="6" ry="10" fill="#666666"/>
<ellipse cx="150" cy="520" rx="7" ry="7" fill="#616161"/>
<ellipse cx="1180" cy="320" rx="8" ry="10" fill="#616161"/>
</g>
</g></g>
<g clip-path="url(#cp2)"><g transform="translate(1570,40) scale(0.44243)">
<g filter="url(#b32)">
<path d="M40 30C275 -100 1205 -6.7 1450 30C1695 66.7 1457.8 206.7 1510 250C1562.2 293.3 1720.8 180 1763 290C1805.2 400 1790.2 806.7 1763 910C1735.8 1013.3 1643.8 876.7 1600 910C1556.2 943.3 1533.3 1035.8 1500 1110C1466.7 1184.2 1585 1314.2 1400 1355C1215 1395.8 570 1387.5 390 1355C210 1322.5 361.7 1200.8 320 1160C278.3 1119.2 153.3 1161.7 140 1110C126.7 1058.3 256.7 900 240 850C223.3 800 73.3 946.7 40 810C6.7 673.3 -195 160 40 30Z" fill="#171717"/>
</g>
<g filter="url(#b16)">
<path d="M40 30C206.7 13.3 876.7 16.7 1040 30C1203.3 43.3 1060 93.3 1020 110C980 126.7 870 130 800 130C730 130 683.3 111.7 600 110C516.7 108.3 393.3 116.7 300 120C206.7 123.3 83.3 145 40 130C-3.3 115 -126.7 46.7 40 30Z" fill="#474747"/>
<path d="M460 260C480 211.7 560 240 600 230C640 220 673.3 215 700 200C726.7 185 710 153.3 760 140C810 126.7 926.7 110 1000 120C1073.3 130 1120 176.7 1200 200C1280 223.3 1430 236.7 1480 260C1530 283.3 1525 328.3 1500 340C1475 351.7 1380 331.7 1330 330C1280 328.3 1200 301.7 1200 330C1200 358.3 1300 438.3 1330 500C1360 561.7 1368.3 636.7 1380 700C1391.7 763.3 1413.3 821.7 1400 880C1386.7 938.3 1325 996.7 1300 1050C1275 1103.3 1266.7 1149.2 1250 1200C1233.3 1250.8 1291.7 1329.2 1200 1355C1108.3 1380.8 806.7 1374.2 700 1355C593.3 1335.8 610 1282.5 560 1240C510 1197.5 446.7 1131.7 400 1100C353.3 1068.3 305 1075 280 1050C255 1025 241.7 988.3 250 950C258.3 911.7 296.7 865 330 820C363.3 775 425 730 450 680C475 630 478.3 590 480 520C481.7 450 440 308.3 460 260Z" fill="#2f2f2f"/>
<path d="M40 520C66.7 490 131.7 498.3 200 520C268.3 541.7 428.3 600 450 650C471.7 700 388.3 798.3 330 820C271.7 841.7 148.3 800 100 780C51.7 760 50 743.3 40 700C30 656.7 13.3 550 40 520Z" fill="#202020"/>
<path d="M1500 330C1535.5 313.3 1719.2 208.3 1763 300C1806.8 391.7 1781.8 788.3 1763 880C1744.2 971.7 1662.2 880 1650 850C1637.8 820 1690 751.7 1690 700C1690 648.3 1673.3 590 1650 540C1626.7 490 1575 435 1550 400C1525 365 1464.5 346.7 1500 330Z" fill="#242424"/>
<path d="M1250 1000C1286.7 946.7 1378.3 896.7 1420 880C1461.7 863.3 1490 863.3 1500 900C1510 936.7 1500 1033.3 1480 1100C1460 1166.7 1418.3 1257.5 1380 1300C1341.7 1342.5 1280 1371.7 1250 1355C1220 1338.3 1200 1259.2 1200 1200C1200 1140.8 1213.3 1053.3 1250 1000Z" fill="#1b1b1b"/>
</g>
<g filter="url(#b24)">
<ellipse cx="570" cy="470" rx="105" ry="175" fill="#404040"/>
<ellipse cx="560" cy="880" rx="205" ry="155" fill="#414141"/>
<ellipse cx="800" cy="560" rx="110" ry="150" fill="#383838"/>
<ellipse cx="1050" cy="1200" rx="120" ry="150" fill="#3b3b3b"/>
<ellipse cx="760" cy="1180" rx="70" ry="160" fill="#424242"/>
</g>
<g filter="url(#b17)">
<ellipse cx="370" cy="300" rx="90" ry="150" fill="#131313"/>
<ellipse cx="1340" cy="380" rx="150" ry="55" fill="#0f0f0f" transform="rotate(10 1340 380)"/>
<ellipse cx="1520" cy="680" rx="110" ry="180" fill="#121212"/>
<ellipse cx="880" cy="680" rx="90" ry="110" fill="#282828" transform="rotate(-30 880 680)"/>
<ellipse cx="700" cy="200" rx="40" ry="50" fill="#1f1f1f"/>
<ellipse cx="900" cy="900" rx="90" ry="60" fill="#212121"/>
<ellipse cx="200" cy="1020" rx="110" ry="200" fill="#0a0a0a"/>
</g>
<g filter="url(#b16)">
<path d="M740 150C759.2 135.8 830.8 135 870 165C909.2 195 940.8 270.8 975 330C1009.2 389.2 1046.7 458.3 1075 520C1103.3 581.7 1117.5 636.7 1145 700C1172.5 763.3 1220 844.2 1240 900C1260 955.8 1275.8 1017.5 1265 1035C1254.2 1052.5 1210.8 1044.2 1175 1005C1139.2 965.8 1089.2 867.5 1050 800C1010.8 732.5 976.7 666.7 940 600C903.3 533.3 860.8 458.3 830 400C799.2 341.7 770 291.7 755 250C740 208.3 720.8 164.2 740 150Z" fill="#585858"/>
<path d="M1145 610C1174.2 580 1269.2 565 1305 580C1340.8 595 1348.3 654.2 1360 700C1371.7 745.8 1384.2 813.3 1375 855C1365.8 896.7 1335 941.7 1305 950C1275 958.3 1224.2 936.7 1195 905C1165.8 873.3 1138.3 809.2 1130 760C1121.7 710.8 1115.8 640 1145 610Z" fill="#575757"/>
<path d="M1000 125C1025 111.7 1133.3 152.5 1200 170C1266.7 187.5 1350 210 1400 230C1450 250 1500 273.3 1500 290C1500 306.7 1450 328.3 1400 330C1350 331.7 1258.3 313.3 1200 300C1141.7 286.7 1083.3 279.2 1050 250C1016.7 220.8 975 138.3 1000 125Z" fill="#535353"/>
<ellipse cx="600" cy="900" rx="70" ry="60" fill="#4c4c4c"/>
</g>
<g filter="url(#b14)">
<ellipse cx="950" cy="540" rx="45" ry="65" fill="#666666"/>
<ellipse cx="1240" cy="730" rx="75" ry="110" fill="#636363"/>
<ellipse cx="1000" cy="640" rx="65" ry="160" fill="#5b5b5b" transform="rotate(-25 1000 640)"/>
</g>
<g filter="url(#b12)">
<path d="M40 105C61.7 32 126.7 87.8 170 112C213.3 136.2 289.2 207.8 300 250C310.8 292.2 267.5 320.8 235 365C202.5 409.2 137.5 484.2 105 515C72.5 545.8 50.8 618.3 40 550C29.2 481.7 18.3 178 40 105Z" fill="#545454"/>
</g>
<g filter="url(#b7)">
<path d="M40 138C55 80.5 95 121.3 130 143C165 164.7 239.2 236.3 250 268C260.8 299.7 221.7 299.7 195 333C168.3 366.3 115.8 442.2 90 468C64.2 493.8 48.3 543 40 488C31.7 433 25 195.5 40 138Z" fill="#8c8c8c"/>
<path d="M40 160C53 113.3 93.8 150 118 170C142.2 190 179.7 250.8 185 280C190.3 309.2 167.5 318.3 150 345C132.5 371.7 98.3 422.5 80 440C61.7 457.5 46.7 496.7 40 450C33.3 403.3 27 206.7 40 160Z" fill="#bdbdbd"/>
</g>
<g filter="url(#b5)">
<path d="M40 185C50 150 82.5 182.5 100 200C117.5 217.5 144.2 258.3 145 290C145.8 321.7 119.2 370 105 390C90.8 410 70.8 406.7 60 410C49.2 413.3 43.3 447.5 40 410C36.7 372.5 30 220 40 185Z" fill="#ededed"/>
</g>
<g filter="url(#b9)">
<path d="M690 200C685 221.7 660.8 280 660 330C659.2 380 683.3 450 685 500C686.7 550 677.5 603.3 670 630C662.5 656.7 665 655.8 640 660C615 664.2 540 655.8 520 655" fill="none" stroke="#404040" stroke-width="26" stroke-linecap="round" opacity="0.6"/>
<path d="M670 665C681.7 680.8 721.7 735.8 740 760C758.3 784.2 775 786.7 780 810C785 833.3 770.8 871.7 770 900C769.2 928.3 780 963.3 775 980C770 996.7 745.8 996.7 740 1000" fill="none" stroke="#404040" stroke-width="26" stroke-linecap="round" opacity="0.6"/>
<path d="M780 810C800 810 863.3 808.3 900 810C936.7 811.7 973.3 813.3 1000 820C1026.7 826.7 1038.3 836.7 1060 850C1081.7 863.3 1113.3 883.3 1130 900C1146.7 916.7 1148.3 931.7 1160 950C1171.7 968.3 1186.7 988.3 1200 1010C1213.3 1031.7 1233.3 1068.3 1240 1080" fill="none" stroke="#404040" stroke-width="26" stroke-linecap="round" opacity="0.6"/>
<path d="M190 525C208.3 534.2 261.7 561.7 300 580C338.3 598.3 400 625.8 420 635" fill="none" stroke="#404040" stroke-width="26" stroke-linecap="round" opacity="0.6"/>
<path d="M480 400C481.7 416.7 489.2 463.3 490 500C490.8 536.7 485.8 600 485 620" fill="none" stroke="#404040" stroke-width="26" stroke-linecap="round" opacity="0.6"/>
<path d="M1420 900C1413.3 916.7 1393.3 973.3 1380 1000C1366.7 1026.7 1346.7 1050 1340 1060" fill="none" stroke="#404040" stroke-width="26" stroke-linecap="round" opacity="0.6"/>
<path d="M800 1020C805 1041.7 820 1106.7 830 1150C840 1193.3 851.7 1245.8 860 1280C868.3 1314.2 876.7 1342.5 880 1355" fill="none" stroke="#404040" stroke-width="26" stroke-linecap="round" opacity="0.6"/>
<path d="M960 960C962.5 983.3 973.3 1060 975 1100C976.7 1140 971.7 1157.5 970 1200C968.3 1242.5 965.8 1329.2 965 1355" fill="none" stroke="#404040" stroke-width="26" stroke-linecap="round" opacity="0.6"/>
<path d="M1660 560C1663.3 583.3 1675 660 1680 700C1685 740 1695 776.7 1690 800C1685 823.3 1656.7 833.3 1650 840" fill="none" stroke="#404040" stroke-width="26" stroke-linecap="round" opacity="0.6"/>
<path d="M1230 1100C1225 1116.7 1210 1166.7 1200 1200C1190 1233.3 1175 1283.3 1170 1300" fill="none" stroke="#404040" stroke-width="26" stroke-linecap="round" opacity="0.6"/>
<path d="M430 970C441.7 966.7 471.7 951.7 500 950C528.3 948.3 566.7 951.7 600 960C633.3 968.3 683.3 993.3 700 1000" fill="none" stroke="#404040" stroke-width="26" stroke-linecap="round" opacity="0.6"/>
<path d="M1500 330C1516.7 328.3 1566.7 323.3 1600 320C1633.3 316.7 1672.8 305 1700 310C1727.2 315 1752.5 343.3 1763 350" fill="none" stroke="#404040" stroke-width="26" stroke-linecap="round" opacity="0.6"/>
<path d="M620 40L640 110" fill="none" stroke="#404040" stroke-width="26" stroke-linecap="round" opacity="0.6"/>
<path d="M740 160C750 180 778.3 236.7 800 280C821.7 323.3 848.3 370 870 420C891.7 470 920 553.3 930 580" fill="none" stroke="#404040" stroke-width="26" stroke-linecap="round" opacity="0.6"/>
</g>
<g filter="url(#b4)">
<path d="M690 200C685 221.7 660.8 280 660 330C659.2 380 683.3 450 685 500C686.7 550 677.5 603.3 670 630C662.5 656.7 665 655.8 640 660C615 664.2 540 655.8 520 655" fill="none" stroke="#535353" stroke-width="7.5" stroke-linecap="round"/>
<path d="M690 200C685 221.7 660.8 280 660 330C659.2 380 683.3 450 685 500C686.7 550 677.5 603.3 670 630C662.5 656.7 665 655.8 640 660C615 664.2 540 655.8 520 655" fill="none" stroke="#5d5d5d" stroke-width="9.5" stroke-linecap="round" stroke-dasharray="8 30"/>
<path d="M670 665C681.7 680.8 721.7 735.8 740 760C758.3 784.2 775 786.7 780 810C785 833.3 770.8 871.7 770 900C769.2 928.3 780 963.3 775 980C770 996.7 745.8 996.7 740 1000" fill="none" stroke="#535353" stroke-width="7.5" stroke-linecap="round"/>
<path d="M670 665C681.7 680.8 721.7 735.8 740 760C758.3 784.2 775 786.7 780 810C785 833.3 770.8 871.7 770 900C769.2 928.3 780 963.3 775 980C770 996.7 745.8 996.7 740 1000" fill="none" stroke="#5d5d5d" stroke-width="9.5" stroke-linecap="round" stroke-dasharray="8 30"/>
<path d="M780 810C800 810 863.3 808.3 900 810C936.7 811.7 973.3 813.3 1000 820C1026.7 826.7 1038.3 836.7 1060 850C1081.7 863.3 1113.3 883.3 1130 900C1146.7 916.7 1148.3 931.7 1160 950C1171.7 968.3 1186.7 988.3 1200 1010C1213.3 1031.7 1233.3 1068.3 1240 1080" fill="none" stroke="#535353" stroke-width="7.5" stroke-linecap="round"/>
<path d="M780 810C800 810 863.3 808.3 900 810C936.7 811.7 973.3 813.3 1000 820C1026.7 826.7 1038.3 836.7 1060 850C1081.7 863.3 1113.3 883.3 1130 900C1146.7 916.7 1148.3 931.7 1160 950C1171.7 968.3 1186.7 988.3 1200 1010C1213.3 1031.7 1233.3 1068.3 1240 1080" fill="none" stroke="#5d5d5d" stroke-width="9.5" stroke-linecap="round" stroke-dasharray="8 30"/>
<path d="M190 525C208.3 534.2 261.7 561.7 300 580C338.3 598.3 400 625.8 420 635" fill="none" stroke="#535353" stroke-width="7.5" stroke-linecap="round"/>
<path d="M190 525C208.3 534.2 261.7 561.7 300 580C338.3 598.3 400 625.8 420 635" fill="none" stroke="#5d5d5d" stroke-width="9.5" stroke-linecap="round" stroke-dasharray="8 30"/>
<path d="M480 400C481.7 416.7 489.2 463.3 490 500C490.8 536.7 485.8 600 485 620" fill="none" stroke="#535353" stroke-width="7.5" stroke-linecap="round"/>
<path d="M480 400C481.7 416.7 489.2 463.3 490 500C490.8 536.7 485.8 600 485 620" fill="none" stroke="#5d5d5d" stroke-width="9.5" stroke-linecap="round" stroke-dasharray="8 30"/>
<path d="M1420 900C1413.3 916.7 1393.3 973.3 1380 1000C1366.7 1026.7 1346.7 1050 1340 1060" fill="none" stroke="#535353" stroke-width="7.5" stroke-linecap="round"/>
<path d="M1420 900C1413.3 916.7 1393.3 973.3 1380 1000C1366.7 1026.7 1346.7 1050 1340 1060" fill="none" stroke="#5d5d5d" stroke-width="9.5" stroke-linecap="round" stroke-dasharray="8 30"/>
<path d="M800 1020C805 1041.7 820 1106.7 830 1150C840 1193.3 851.7 1245.8 860 1280C868.3 1314.2 876.7 1342.5 880 1355" fill="none" stroke="#535353" stroke-width="7.5" stroke-linecap="round"/>
<path d="M800 1020C805 1041.7 820 1106.7 830 1150C840 1193.3 851.7 1245.8 860 1280C868.3 1314.2 876.7 1342.5 880 1355" fill="none" stroke="#5d5d5d" stroke-width="9.5" stroke-linecap="round" stroke-dasharray="8 30"/>
<path d="M960 960C962.5 983.3 973.3 1060 975 1100C976.7 1140 971.7 1157.5 970 1200C968.3 1242.5 965.8 1329.2 965 1355" fill="none" stroke="#535353" stroke-width="7.5" stroke-linecap="round"/>
<path d="M960 960C962.5 983.3 973.3 1060 975 1100C976.7 1140 971.7 1157.5 970 1200C968.3 1242.5 965.8 1329.2 965 1355" fill="none" stroke="#5d5d5d" stroke-width="9.5" stroke-linecap="round" stroke-dasharray="8 30"/>
<path d="M1660 560C1663.3 583.3 1675 660 1680 700C1685 740 1695 776.7 1690 800C1685 823.3 1656.7 833.3 1650 840" fill="none" stroke="#535353" stroke-width="7.5" stroke-linecap="round"/>
<path d="M1660 560C1663.3 583.3 1675 660 1680 700C1685 740 1695 776.7 1690 800C1685 823.3 1656.7 833.3 1650 840" fill="none" stroke="#5d5d5d" stroke-width="9.5" stroke-linecap="round" stroke-dasharray="8 30"/>
<path d="M1230 1100C1225 1116.7 1210 1166.7 1200 1200C1190 1233.3 1175 1283.3 1170 1300" fill="none" stroke="#535353" stroke-width="7.5" stroke-linecap="round"/>
<path d="M1230 1100C1225 1116.7 1210 1166.7 1200 1200C1190 1233.3 1175 1283.3 1170 1300" fill="none" stroke="#5d5d5d" stroke-width="9.5" stroke-linecap="round" stroke-dasharray="8 30"/>
<path d="M430 970C441.7 966.7 471.7 951.7 500 950C528.3 948.3 566.7 951.7 600 960C633.3 968.3 683.3 993.3 700 1000" fill="none" stroke="#535353" stroke-width="7.5" stroke-linecap="round"/>
<path d="M430 970C441.7 966.7 471.7 951.7 500 950C528.3 948.3 566.7 951.7 600 960C633.3 968.3 683.3 993.3 700 1000" fill="none" stroke="#5d5d5d" stroke-width="9.5" stroke-linecap="round" stroke-dasharray="8 30"/>
<path d="M1500 330C1516.7 328.3 1566.7 323.3 1600 320C1633.3 316.7 1672.8 305 1700 310C1727.2 315 1752.5 343.3 1763 350" fill="none" stroke="#535353" stroke-width="7.5" stroke-linecap="round"/>
<path d="M1500 330C1516.7 328.3 1566.7 323.3 1600 320C1633.3 316.7 1672.8 305 1700 310C1727.2 315 1752.5 343.3 1763 350" fill="none" stroke="#5d5d5d" stroke-width="9.5" stroke-linecap="round" stroke-dasharray="8 30"/>
<path d="M620 40L640 110" fill="none" stroke="#535353" stroke-width="7.5" stroke-linecap="round"/>
<path d="M620 40L640 110" fill="none" stroke="#5d5d5d" stroke-width="9.5" stroke-linecap="round" stroke-dasharray="8 30"/>
<path d="M740 160C750 180 778.3 236.7 800 280C821.7 323.3 848.3 370 870 420C891.7 470 920 553.3 930 580" fill="none" stroke="#535353" stroke-width="7.5" stroke-linecap="round"/>
<path d="M740 160C750 180 778.3 236.7 800 280C821.7 323.3 848.3 370 870 420C891.7 470 920 553.3 930 580" fill="none" stroke="#5d5d5d" stroke-width="9.5" stroke-linecap="round" stroke-dasharray="8 30"/>
</g>
<g filter="url(#b7)">
<ellipse cx="1310" cy="795" rx="21" ry="22" fill="#5c5c5c" opacity="0.8"/>
<ellipse cx="1280" cy="885" rx="19" ry="22" fill="#5c5c5c" opacity="0.8"/>
<ellipse cx="1235" cy="715" rx="19" ry="21" fill="#5c5c5c" opacity="0.8"/>
<ellipse cx="1110" cy="770" rx="23" ry="17" fill="#5c5c5c" transform="rotate(-20 1110 770)" opacity="0.8"/>
<ellipse cx="1195" cy="1000" rx="18" ry="21" fill="#5c5c5c" transform="rotate(-20 1195 1000)" opacity="0.8"/>
<ellipse cx="610" cy="950" rx="23" ry="27" fill="#5c5c5c" transform="rotate(-20 610 950)" opacity="0.8"/>
<ellipse cx="822" cy="1135" rx="15" ry="27" fill="#5c5c5c" transform="rotate(-10 822 1135)" opacity="0.8"/>
<ellipse cx="1240" cy="605" rx="29" ry="17" fill="#5c5c5c" opacity="0.8"/>
<ellipse cx="1720" cy="778" rx="19" ry="17" fill="#5c5c5c" opacity="0.8"/>
<ellipse cx="428" cy="635" rx="17" ry="16" fill="#5c5c5c" opacity="0.8"/>
<ellipse cx="1060" cy="560" rx="15" ry="21" fill="#5c5c5c" transform="rotate(-20 1060 560)" opacity="0.8"/>
<ellipse cx="895" cy="545" rx="15" ry="19" fill="#5c5c5c" transform="rotate(-20 895 545)" opacity="0.8"/>
<ellipse cx="1135" cy="870" rx="17" ry="23" fill="#5c5c5c" transform="rotate(-20 1135 870)" opacity="0.8"/>
</g>
<g filter="url(#b3)">
<ellipse cx="1310" cy="795" rx="12" ry="13" fill="#999999"/>
<ellipse cx="1280" cy="885" rx="10" ry="13" fill="#999999"/>
<ellipse cx="1235" cy="715" rx="10" ry="12" fill="#858585"/>
<ellipse cx="1110" cy="770" rx="14" ry="8" fill="#808080" transform="rotate(-20 1110 770)"/>
<ellipse cx="1195" cy="1000" rx="9" ry="12" fill="#a6a6a6" transform="rotate(-20 1195 1000)"/>
<ellipse cx="610" cy="950" rx="14" ry="18" fill="#808080" transform="rotate(-20 610 950)"/>
<ellipse cx="822" cy="1135" rx="6" ry="18" fill="#b2b2b2" transform="rotate(-10 822 1135)"/>
<ellipse cx="1240" cy="605" rx="20" ry="8" fill="#808080"/>
<ellipse cx="1720" cy="778" rx="10" ry="8" fill="#737373"/>
<ellipse cx="428" cy="635" rx="8" ry="7" fill="#737373"/>
<ellipse cx="1060" cy="560" rx="6" ry="12" fill="#737373" transform="rotate(-20 1060 560)"/>
<ellipse cx="895" cy="545" rx="6" ry="10" fill="#737373" transform="rotate(-20 895 545)"/>
<ellipse cx="872" cy="68" rx="16" ry="12" fill="#080808"/>
<ellipse cx="490" cy="635" rx="22" ry="22" fill="#0d0d0d"/>
<ellipse cx="1135" cy="870" rx="8" ry="14" fill="#737373" transform="rotate(-20 1135 870)"/>
</g>
</g></g>
</g>
<rect x="822.1" y="53.2" width="2.6" height="586.4" fill="#fff"/>
<rect x="1585.9" y="53.2" width="2.5" height="586.4" fill="#fff"/>
<defs><linearGradient id="cb" x1="0" x2="1" y1="0" y2="0">
<stop offset="0" stop-color="rgb(0,0,0)"/>
<stop offset="0.05" stop-color="rgb(0,0,26)"/>
<stop offset="0.1" stop-color="rgb(0,0,120)"/>
<stop offset="0.15" stop-color="rgb(0,20,217)"/>
<stop offset="0.2" stop-color="rgb(0,76,255)"/>
<stop offset="0.25" stop-color="rgb(0,148,255)"/>
<stop offset="0.3" stop-color="rgb(0,217,255)"/>
<stop offset="0.35" stop-color="rgb(0,255,255)"/>
<stop offset="0.4" stop-color="rgb(38,255,128)"/>
<stop offset="0.45" stop-color="rgb(153,255,0)"/>
<stop offset="0.5" stop-color="rgb(255,222,0)"/>
<stop offset="0.55" stop-color="rgb(255,178,0)"/>
<stop offset="0.6" stop-color="rgb(255,140,0)"/>
<stop offset="0.65" stop-color="rgb(255,89,0)"/>
<stop offset="0.7" stop-color="rgb(255,38,0)"/>
<stop offset="0.75" stop-color="rgb(255,0,0)"/>
<stop offset="0.8" stop-color="rgb(235,140,140)"/>
<stop offset="0.85" stop-color="rgb(219,214,214)"/>
<stop offset="0.9" stop-color="rgb(235,235,235)"/>
<stop offset="0.95" stop-color="rgb(255,255,255)"/>
<stop offset="1" stop-color="rgb(255,255,255)"/>
</linearGradient></defs>
<rect x="2111.4" y="616.3" width="228.5" height="12.8" fill="url(#cb)"/>
<rect x="2286" y="598" width="53.9" height="8" fill="#fff"/>
<g stroke="#FF1212" stroke-width="9.6" fill="none"><path d="M954.3 316.8L1007.4 364.2"/><path d="M979.8 357.8L1009.6 366.2L997.9 337.5" stroke-linecap="round" stroke-linejoin="miter" stroke-miterlimit="10"/></g>
<g stroke="#FF1212" stroke-width="9.6" fill="none"><path d="M1308.2 464.3L1249.8 500.1"/><path d="M1263.9 475.5L1247.2 501.7L1278.1 498.7" stroke-linecap="round" stroke-linejoin="miter" stroke-miterlimit="10"/></g>
<g stroke="#FF1212" stroke-width="9.6" fill="none"><path d="M1709.4 95.3L1648.4 131.1"/><path d="M1662.9 106.8L1645.8 132.7L1676.7 130.3" stroke-linecap="round" stroke-linejoin="miter" stroke-miterlimit="10"/></g>
<g stroke="#FF1212" stroke-width="9.6" fill="none"><path d="M2107.5 214.8L2046.6 250.6"/><path d="M2061.1 226.3L2044 252.1L2074.9 249.7" stroke-linecap="round" stroke-linejoin="miter" stroke-miterlimit="10"/></g>
<g stroke="#FF1212" stroke-width="9.6" fill="none"><path d="M2220.4 301L2161.5 337.1"/><path d="M2175.6 312.5L2158.9 338.7L2189.8 335.7" stroke-linecap="round" stroke-linejoin="miter" stroke-miterlimit="10"/></g>
<g font-family="'Liberation Sans', sans-serif" fill="#fff" font-size="61">
<text x="71.5" y="110.6" textLength="378.5" lengthAdjust="spacingAndGlyphs">YFP-β-catenin</text>
<text x="72" y="624.7" textLength="153" lengthAdjust="spacingAndGlyphs">0 min</text>
<text x="833.6" y="624.7" textLength="185.6" lengthAdjust="spacingAndGlyphs">75 min</text>
<text x="1596.9" y="624.7" textLength="217.5" lengthAdjust="spacingAndGlyphs">180 min</text>
</g>
<g font-family="'Liberation Sans', sans-serif">
<text x="73" y="29.8" font-size="50" font-weight="bold" fill="#231F20">a</text>
<text x="99" y="867.6" font-size="55.5" font-weight="bold" fill="#231F20">b</text>
<text x="99" y="1392.7" font-size="55.5" font-weight="bold" fill="#231F20">c</text>
<text x="861.8" y="867.6" font-size="55.5" font-weight="bold" fill="#231F20">d</text>
<text x="861.8" y="1392.7" font-size="55.5" font-weight="bold" fill="#231F20">e</text>
<text x="1700" y="867.6" font-size="55.5" font-weight="bold" fill="#231F20">f</text>
<text x="1700" y="1392.8" font-size="55.5" font-weight="bold" fill="#231F20">g</text>
<text x="99.5" y="2030" font-size="55.5" font-weight="bold" fill="#231F20">h</text>
<text x="483.4" y="753.8" font-size="43.9" text-anchor="middle">Maximum intensity of <tspan dx="3">β-catenin</tspan></text>
<text x="483.6" y="805.4" font-size="43.9" text-anchor="middle">in the nucleus per cell</text>
<text x="1260.5" y="749.3" font-size="43.9" text-anchor="middle">Time to reach maximum intensity of</text>
<text x="1260.7" y="800.5" font-size="43.9" text-anchor="middle">β-catenin in the nucleus per cell</text>
<text x="2041" y="747.2" font-size="43.9" text-anchor="middle">Correlation between maximum</text>
<text x="2042.4" y="799.1" font-size="43.9" text-anchor="middle">intensity to the time</text>
<path d="M828.1 720V1875M1651.3 720V1875" stroke="#000" stroke-width="6.5" stroke-dasharray="18.5 13.9" fill="none"/>
<path d="M72 868.6V1314.4M72 1405.4V1851.7" stroke="#000" stroke-width="6.5" fill="none"/>
<text x="46.5" y="1067.3" font-size="63.5" text-anchor="middle" font-weight="bold" transform="rotate(-90 46.5 1067.3)" textLength="187.5" lengthAdjust="spacingAndGlyphs">Wnt3a</text>
<text x="46.5" y="1615" font-size="62.8" text-anchor="middle" font-weight="bold" transform="rotate(-90 46.5 1615)" textLength="117.5" lengthAdjust="spacingAndGlyphs">LiCl</text>
<rect x="194.38" y="1156.04" width="13" height="77.76" fill="#3A5F8F"/>
<rect x="213.95" y="1144.2" width="13" height="89.6" fill="#8D3A38"/>
<rect x="233.52" y="1143.19" width="13" height="90.61" fill="#71893F"/>
<rect x="253.09" y="1132.37" width="13" height="101.43" fill="#5C4776"/>
<rect x="272.65" y="1129.95" width="13" height="103.84" fill="#357D91"/>
<rect x="292.22" y="1124.16" width="13" height="109.64" fill="#B76E31"/>
<rect x="311.79" y="1123.92" width="13" height="109.88" fill="#426EA4"/>
<rect x="331.36" y="1121.26" width="13" height="112.54" fill="#A54441"/>
<rect x="350.93" y="1115.66" width="13" height="118.14" fill="#84A04A"/>
<rect x="370.49" y="1112.57" width="13" height="121.23" fill="#6C538B"/>
<rect x="390.06" y="1109.91" width="13" height="123.89" fill="#3E93AB"/>
<rect x="409.63" y="1107.93" width="13" height="125.87" fill="#D68037"/>
<rect x="429.2" y="1096.39" width="13" height="137.41" fill="#4A7DBA"/>
<rect x="448.76" y="1091.8" width="13" height="142" fill="#BA4A47"/>
<rect x="468.33" y="1082.14" width="13" height="151.66" fill="#95B553"/>
<rect x="487.9" y="1081.65" width="13" height="152.14" fill="#7A5E9D"/>
<rect x="507.47" y="1070.55" width="13" height="163.25" fill="#46A6C1"/>
<rect x="527.04" y="1059.92" width="13" height="173.88" fill="#EF903E"/>
<rect x="546.6" y="1060.64" width="13" height="173.16" fill="#7396C8"/>
<rect x="566.17" y="1054.37" width="13" height="179.43" fill="#C97372"/>
<rect x="585.74" y="1053.4" width="13" height="180.4" fill="#A5C278"/>
<rect x="605.31" y="1042.05" width="13" height="191.75" fill="#9380B3"/>
<rect x="624.87" y="1037.7" width="13" height="196.1" fill="#6FB7CE"/>
<rect x="644.44" y="1033.36" width="13" height="200.44" fill="#F5A46B"/>
<rect x="664.01" y="1025.14" width="13" height="208.66" fill="#A0B4D8"/>
<rect x="683.58" y="1016.93" width="13" height="216.87" fill="#D9A09F"/>
<rect x="703.15" y="1013.07" width="13" height="220.73" fill="#C1D5A5"/>
<rect x="722.71" y="1002.93" width="13" height="230.87" fill="#B4A8CA"/>
<rect x="742.28" y="997.13" width="13" height="236.67" fill="#9FCCDC"/>
<rect x="761.85" y="968.15" width="13" height="265.65" fill="#F9C0A0"/>
<rect x="781.42" y="915.02" width="13" height="318.78" fill="#C3CEE5"/>
<text x="173.6" y="1241.44" font-size="27.5" text-anchor="end">0</text>
<text x="173.6" y="1193.14" font-size="27.5" text-anchor="end">1</text>
<text x="173.6" y="1144.85" font-size="27.5" text-anchor="end">2</text>
<text x="173.6" y="1096.55" font-size="27.5" text-anchor="end">3</text>
<text x="173.6" y="1048.24" font-size="27.5" text-anchor="end">4</text>
<text x="173.6" y="999.94" font-size="27.5" text-anchor="end">5</text>
<text x="173.6" y="951.64" font-size="27.5" text-anchor="end">6</text>
<text x="173.6" y="903.35" font-size="27.5" text-anchor="end">7</text>
<path d="M191.1 895.7V1233.8M184.1 1233.8H797.7M184.1 1185.5H191.1M184.1 1137.2H191.1M184.1 1088.9H191.1M184.1 1040.6H191.1M184.1 992.3H191.1M184.1 944H191.1M184.1 895.7H191.1M191.1 1233.8V1240.8M210.67 1233.8V1240.8M230.24 1233.8V1240.8M249.8 1233.8V1240.8M269.37 1233.8V1240.8M288.94 1233.8V1240.8M308.51 1233.8V1240.8M328.07 1233.8V1240.8M347.64 1233.8V1240.8M367.21 1233.8V1240.8M386.78 1233.8V1240.8M406.35 1233.8V1240.8M425.91 1233.8V1240.8M445.48 1233.8V1240.8M465.05 1233.8V1240.8M484.62 1233.8V1240.8M504.18 1233.8V1240.8M523.75 1233.8V1240.8M543.32 1233.8V1240.8M562.89 1233.8V1240.8M582.45 1233.8V1240.8M602.02 1233.8V1240.8M621.59 1233.8V1240.8M641.16 1233.8V1240.8M660.73 1233.8V1240.8M680.29 1233.8V1240.8M699.86 1233.8V1240.8M719.43 1233.8V1240.8M739 1233.8V1240.8M758.56 1233.8V1240.8M778.13 1233.8V1240.8M797.7 1233.8V1240.8" stroke="#868686" stroke-width="1.4" fill="none"/>
<text x="202.18" y="1268.8" font-size="27.5" text-anchor="middle">1</text>
<text x="241.32" y="1268.8" font-size="27.5" text-anchor="middle">3</text>
<text x="280.45" y="1268.8" font-size="27.5" text-anchor="middle">5</text>
<text x="319.59" y="1268.8" font-size="27.5" text-anchor="middle">7</text>
<text x="358.73" y="1268.8" font-size="27.5" text-anchor="middle">9</text>
<text x="397.86" y="1268.8" font-size="27.5" text-anchor="middle">11</text>
<text x="437" y="1268.8" font-size="27.5" text-anchor="middle">13</text>
<text x="476.13" y="1268.8" font-size="27.5" text-anchor="middle">15</text>
<text x="515.27" y="1268.8" font-size="27.5" text-anchor="middle">17</text>
<text x="554.4" y="1268.8" font-size="27.5" text-anchor="middle">19</text>
<text x="593.54" y="1268.8" font-size="27.5" text-anchor="middle">21</text>
<text x="632.67" y="1268.8" font-size="27.5" text-anchor="middle">23</text>
<text x="671.81" y="1268.8" font-size="27.5" text-anchor="middle">25</text>
<text x="710.95" y="1268.8" font-size="27.5" text-anchor="middle">27</text>
<text x="750.08" y="1268.8" font-size="27.5" text-anchor="middle">29</text>
<text x="789.22" y="1268.8" font-size="27.5" text-anchor="middle">31</text>
<text x="497.6" y="1304.7" font-size="31.2" text-anchor="middle">Cell number</text>
<text x="133.5" y="1062.8" font-size="31.2" text-anchor="middle" transform="rotate(-90 133.5 1062.8)">Maximum intensity</text>
<rect x="999.57" y="1175.4" width="13" height="58.1" fill="#3A5F8F"/>
<rect x="1019.31" y="1182.66" width="13" height="50.83" fill="#8D3A38"/>
<rect x="1039.05" y="1110.04" width="13" height="123.46" fill="#71893F"/>
<rect x="1058.79" y="1168.14" width="13" height="65.36" fill="#5C4776"/>
<rect x="1078.52" y="1139.09" width="13" height="94.41" fill="#357D91"/>
<rect x="1098.26" y="1153.62" width="13" height="79.88" fill="#B76E31"/>
<rect x="1118" y="913.97" width="13" height="319.53" fill="#426EA4"/>
<rect x="1137.74" y="1182.66" width="13" height="50.83" fill="#A54441"/>
<rect x="1157.48" y="1160.88" width="13" height="72.62" fill="#84A04A"/>
<rect x="1177.22" y="1175.4" width="13" height="58.1" fill="#6C538B"/>
<rect x="1196.96" y="1139.09" width="13" height="94.41" fill="#3E93AB"/>
<rect x="1216.7" y="1146.35" width="13" height="87.15" fill="#D68037"/>
<rect x="1236.43" y="1168.14" width="13" height="65.36" fill="#4A7DBA"/>
<rect x="1256.17" y="1160.88" width="13" height="72.62" fill="#BA4A47"/>
<rect x="1275.91" y="1175.4" width="13" height="58.1" fill="#95B553"/>
<rect x="1295.65" y="1189.93" width="13" height="43.57" fill="#7A5E9D"/>
<rect x="1315.39" y="1168.14" width="13" height="65.36" fill="#46A6C1"/>
<rect x="1335.13" y="1139.09" width="13" height="94.41" fill="#EF903E"/>
<rect x="1354.87" y="1059.21" width="13" height="174.29" fill="#7396C8"/>
<rect x="1374.6" y="921.23" width="13" height="312.27" fill="#C97372"/>
<rect x="1394.34" y="1175.4" width="13" height="58.1" fill="#A5C278"/>
<rect x="1414.08" y="1146.35" width="13" height="87.15" fill="#9380B3"/>
<rect x="1433.82" y="1160.88" width="13" height="72.62" fill="#6FB7CE"/>
<rect x="1453.56" y="1153.62" width="13" height="79.88" fill="#F5A46B"/>
<rect x="1473.3" y="1131.83" width="13" height="101.67" fill="#A0B4D8"/>
<rect x="1493.04" y="986.59" width="13" height="246.91" fill="#D9A09F"/>
<rect x="1512.78" y="928.49" width="13" height="305.01" fill="#C1D5A5"/>
<rect x="1532.51" y="1160.88" width="13" height="72.62" fill="#B4A8CA"/>
<rect x="1552.25" y="1022.9" width="13" height="210.6" fill="#9FCCDC"/>
<rect x="1571.99" y="1095.52" width="13" height="137.98" fill="#F9C0A0"/>
<rect x="1591.73" y="1124.57" width="13" height="108.93" fill="#C3CEE5"/>
<text x="981.8" y="1241.14" font-size="27.5" text-anchor="end">0</text>
<text x="981.8" y="1192.73" font-size="27.5" text-anchor="end">100</text>
<text x="981.8" y="1144.32" font-size="27.5" text-anchor="end">200</text>
<text x="981.8" y="1095.9" font-size="27.5" text-anchor="end">300</text>
<text x="981.8" y="1047.49" font-size="27.5" text-anchor="end">400</text>
<text x="981.8" y="999.07" font-size="27.5" text-anchor="end">500</text>
<text x="981.8" y="950.66" font-size="27.5" text-anchor="end">600</text>
<text x="981.8" y="902.25" font-size="27.5" text-anchor="end">700</text>
<path d="M996.2 894.6V1233.5M989.2 1233.5H1608.1M989.2 1185.09H996.2M989.2 1136.67H996.2M989.2 1088.26H996.2M989.2 1039.84H996.2M989.2 991.43H996.2M989.2 943.01H996.2M989.2 894.6H996.2M996.2 1233.5V1240.5M1015.94 1233.5V1240.5M1035.68 1233.5V1240.5M1055.42 1233.5V1240.5M1075.15 1233.5V1240.5M1094.89 1233.5V1240.5M1114.63 1233.5V1240.5M1134.37 1233.5V1240.5M1154.11 1233.5V1240.5M1173.85 1233.5V1240.5M1193.59 1233.5V1240.5M1213.33 1233.5V1240.5M1233.06 1233.5V1240.5M1252.8 1233.5V1240.5M1272.54 1233.5V1240.5M1292.28 1233.5V1240.5M1312.02 1233.5V1240.5M1331.76 1233.5V1240.5M1351.5 1233.5V1240.5M1371.24 1233.5V1240.5M1390.97 1233.5V1240.5M1410.71 1233.5V1240.5M1430.45 1233.5V1240.5M1450.19 1233.5V1240.5M1469.93 1233.5V1240.5M1489.67 1233.5V1240.5M1509.41 1233.5V1240.5M1529.15 1233.5V1240.5M1548.88 1233.5V1240.5M1568.62 1233.5V1240.5M1588.36 1233.5V1240.5M1608.1 1233.5V1240.5" stroke="#868686" stroke-width="1.4" fill="none"/>
<text x="1007.37" y="1269.2" font-size="27.5" text-anchor="middle">1</text>
<text x="1046.85" y="1269.2" font-size="27.5" text-anchor="middle">3</text>
<text x="1086.32" y="1269.2" font-size="27.5" text-anchor="middle">5</text>
<text x="1125.8" y="1269.2" font-size="27.5" text-anchor="middle">7</text>
<text x="1165.28" y="1269.2" font-size="27.5" text-anchor="middle">9</text>
<text x="1204.76" y="1269.2" font-size="27.5" text-anchor="middle">11</text>
<text x="1244.23" y="1269.2" font-size="27.5" text-anchor="middle">13</text>
<text x="1283.71" y="1269.2" font-size="27.5" text-anchor="middle">15</text>
<text x="1323.19" y="1269.2" font-size="27.5" text-anchor="middle">17</text>
<text x="1362.67" y="1269.2" font-size="27.5" text-anchor="middle">19</text>
<text x="1402.14" y="1269.2" font-size="27.5" text-anchor="middle">21</text>
<text x="1441.62" y="1269.2" font-size="27.5" text-anchor="middle">23</text>
<text x="1481.1" y="1269.2" font-size="27.5" text-anchor="middle">25</text>
<text x="1520.58" y="1269.2" font-size="27.5" text-anchor="middle">27</text>
<text x="1560.05" y="1269.2" font-size="27.5" text-anchor="middle">29</text>
<text x="1599.53" y="1269.2" font-size="27.5" text-anchor="middle">31</text>
<text x="1305.3" y="1305.4" font-size="31.2" text-anchor="middle">Cell number</text>
<text x="883.4" y="1063.3" font-size="31.2" text-anchor="middle" transform="rotate(-90 883.4 1063.3)">Time to reach maximum</text>
<text x="917.4" y="1063.3" font-size="31.2" text-anchor="middle" transform="rotate(-90 917.4 1063.3)">accumulation (min)</text>
<rect x="196.16" y="1670.44" width="22.3" height="110.36" fill="#3C6494"/>
<rect x="229.78" y="1655.91" width="22.3" height="124.89" fill="#953B39"/>
<rect x="263.39" y="1627.01" width="22.3" height="153.79" fill="#76903F"/>
<rect x="297.01" y="1617.88" width="22.3" height="162.92" fill="#604A7B"/>
<rect x="330.62" y="1614" width="22.3" height="166.8" fill="#358397"/>
<rect x="364.24" y="1609.1" width="22.3" height="171.7" fill="#BD7232"/>
<rect x="397.86" y="1602" width="22.3" height="178.8" fill="#4A7AB5"/>
<rect x="431.48" y="1596.59" width="22.3" height="184.21" fill="#B54845"/>
<rect x="465.09" y="1592.2" width="22.3" height="188.6" fill="#90AF4E"/>
<rect x="498.71" y="1590.34" width="22.3" height="190.46" fill="#765A98"/>
<rect x="532.33" y="1583.58" width="22.3" height="197.22" fill="#43A1BC"/>
<rect x="565.94" y="1583.07" width="22.3" height="197.73" fill="#E88A3C"/>
<rect x="599.56" y="1554.68" width="22.3" height="226.12" fill="#7E9CCC"/>
<rect x="633.18" y="1553.16" width="22.3" height="227.64" fill="#CE7B7A"/>
<rect x="666.79" y="1550.28" width="22.3" height="230.52" fill="#ADC880"/>
<rect x="700.41" y="1532.03" width="22.3" height="248.77" fill="#9C89B9"/>
<rect x="734.02" y="1490.96" width="22.3" height="289.83" fill="#7BBBD2"/>
<rect x="767.64" y="1479.98" width="22.3" height="300.82" fill="#F8A976"/>
<text x="173.6" y="1788.44" font-size="27.5" text-anchor="end">0</text>
<text x="173.6" y="1754.64" font-size="27.5" text-anchor="end">2</text>
<text x="173.6" y="1720.85" font-size="27.5" text-anchor="end">4</text>
<text x="173.6" y="1687.04" font-size="27.5" text-anchor="end">6</text>
<text x="173.6" y="1653.24" font-size="27.5" text-anchor="end">8</text>
<text x="173.6" y="1619.44" font-size="27.5" text-anchor="end">10</text>
<text x="173.6" y="1585.64" font-size="27.5" text-anchor="end">12</text>
<text x="173.6" y="1551.85" font-size="27.5" text-anchor="end">14</text>
<text x="173.6" y="1518.05" font-size="27.5" text-anchor="end">16</text>
<text x="173.6" y="1484.24" font-size="27.5" text-anchor="end">18</text>
<text x="173.6" y="1450.44" font-size="27.5" text-anchor="end">20</text>
<path d="M190.5 1442.8V1780.8M183.5 1780.8H795.6M183.5 1747H190.5M183.5 1713.2H190.5M183.5 1679.4H190.5M183.5 1645.6H190.5M183.5 1611.8H190.5M183.5 1578H190.5M183.5 1544.2H190.5M183.5 1510.4H190.5M183.5 1476.6H190.5M183.5 1442.8H190.5M190.5 1780.8V1787.8M224.12 1780.8V1787.8M257.73 1780.8V1787.8M291.35 1780.8V1787.8M324.97 1780.8V1787.8M358.58 1780.8V1787.8M392.2 1780.8V1787.8M425.82 1780.8V1787.8M459.43 1780.8V1787.8M493.05 1780.8V1787.8M526.67 1780.8V1787.8M560.28 1780.8V1787.8M593.9 1780.8V1787.8M627.52 1780.8V1787.8M661.13 1780.8V1787.8M694.75 1780.8V1787.8M728.37 1780.8V1787.8M761.98 1780.8V1787.8M795.6 1780.8V1787.8" stroke="#868686" stroke-width="1.4" fill="none"/>
<text x="208.61" y="1817" font-size="27.5" text-anchor="middle">1</text>
<text x="242.23" y="1817" font-size="27.5" text-anchor="middle">2</text>
<text x="275.84" y="1817" font-size="27.5" text-anchor="middle">3</text>
<text x="309.46" y="1817" font-size="27.5" text-anchor="middle">4</text>
<text x="343.07" y="1817" font-size="27.5" text-anchor="middle">5</text>
<text x="376.69" y="1817" font-size="27.5" text-anchor="middle">6</text>
<text x="410.31" y="1817" font-size="27.5" text-anchor="middle">7</text>
<text x="443.93" y="1817" font-size="27.5" text-anchor="middle">8</text>
<text x="477.54" y="1817" font-size="27.5" text-anchor="middle">9</text>
<text x="511.16" y="1817" font-size="27.5" text-anchor="middle">10</text>
<text x="544.77" y="1817" font-size="27.5" text-anchor="middle">11</text>
<text x="578.39" y="1817" font-size="27.5" text-anchor="middle">12</text>
<text x="612.01" y="1817" font-size="27.5" text-anchor="middle">13</text>
<text x="645.62" y="1817" font-size="27.5" text-anchor="middle">14</text>
<text x="679.24" y="1817" font-size="27.5" text-anchor="middle">15</text>
<text x="712.86" y="1817" font-size="27.5" text-anchor="middle">16</text>
<text x="746.47" y="1817" font-size="27.5" text-anchor="middle">17</text>
<text x="780.09" y="1817" font-size="27.5" text-anchor="middle">18</text>
<text x="493.2" y="1854.6" font-size="31.2" text-anchor="middle">Cell number</text>
<text x="133.5" y="1616.9" font-size="31.2" text-anchor="middle" transform="rotate(-90 133.5 1616.9)">Maximum intensity</text>
<rect x="1001.14" y="1600.53" width="22.6" height="180.27" fill="#3C6494"/>
<rect x="1035.42" y="1504.77" width="22.6" height="276.03" fill="#953B39"/>
<rect x="1069.71" y="1493.5" width="22.6" height="287.3" fill="#76903F"/>
<rect x="1103.99" y="1555.47" width="22.6" height="225.33" fill="#604A7B"/>
<rect x="1138.28" y="1532.93" width="22.6" height="247.87" fill="#358397"/>
<rect x="1172.56" y="1527.3" width="22.6" height="253.5" fill="#BD7232"/>
<rect x="1206.84" y="1487.87" width="22.6" height="292.93" fill="#4A7AB5"/>
<rect x="1241.12" y="1470.97" width="22.6" height="309.83" fill="#B54845"/>
<rect x="1275.41" y="1487.87" width="22.6" height="292.93" fill="#90AF4E"/>
<rect x="1309.69" y="1487.87" width="22.6" height="292.93" fill="#765A98"/>
<rect x="1343.98" y="1532.93" width="22.6" height="247.87" fill="#43A1BC"/>
<rect x="1378.26" y="1510.4" width="22.6" height="270.4" fill="#E88A3C"/>
<rect x="1412.54" y="1476.6" width="22.6" height="304.2" fill="#7E9CCC"/>
<rect x="1446.83" y="1532.93" width="22.6" height="247.87" fill="#CE7B7A"/>
<rect x="1481.11" y="1470.97" width="22.6" height="309.83" fill="#ADC880"/>
<rect x="1515.39" y="1482.23" width="22.6" height="298.57" fill="#9C89B9"/>
<rect x="1549.67" y="1504.77" width="22.6" height="276.03" fill="#7BBBD2"/>
<rect x="1583.96" y="1470.97" width="22.6" height="309.83" fill="#F8A976"/>
<text x="979.3" y="1789.19" font-size="26.5" text-anchor="end">0</text>
<text x="979.3" y="1751.63" font-size="26.5" text-anchor="end">100</text>
<text x="979.3" y="1714.08" font-size="26.5" text-anchor="end">200</text>
<text x="979.3" y="1676.52" font-size="26.5" text-anchor="end">300</text>
<text x="979.3" y="1638.96" font-size="26.5" text-anchor="end">400</text>
<text x="979.3" y="1601.41" font-size="26.5" text-anchor="end">500</text>
<text x="979.3" y="1563.85" font-size="26.5" text-anchor="end">600</text>
<text x="979.3" y="1526.3" font-size="26.5" text-anchor="end">700</text>
<text x="979.3" y="1488.74" font-size="26.5" text-anchor="end">800</text>
<text x="979.3" y="1451.19" font-size="26.5" text-anchor="end">900</text>
<path d="M995.3 1442.8V1780.8M988.3 1780.8H1612.4M988.3 1743.24H995.3M988.3 1705.69H995.3M988.3 1668.13H995.3M988.3 1630.58H995.3M988.3 1593.02H995.3M988.3 1555.47H995.3M988.3 1517.91H995.3M988.3 1480.36H995.3M988.3 1442.8H995.3M995.3 1780.8V1787.8M1029.58 1780.8V1787.8M1063.87 1780.8V1787.8M1098.15 1780.8V1787.8M1132.43 1780.8V1787.8M1166.72 1780.8V1787.8M1201 1780.8V1787.8M1235.28 1780.8V1787.8M1269.57 1780.8V1787.8M1303.85 1780.8V1787.8M1338.13 1780.8V1787.8M1372.42 1780.8V1787.8M1406.7 1780.8V1787.8M1440.98 1780.8V1787.8M1475.27 1780.8V1787.8M1509.55 1780.8V1787.8M1543.83 1780.8V1787.8M1578.12 1780.8V1787.8M1612.4 1780.8V1787.8" stroke="#868686" stroke-width="1.4" fill="none"/>
<text x="1012.74" y="1817" font-size="26.5" text-anchor="middle">1</text>
<text x="1047.02" y="1817" font-size="26.5" text-anchor="middle">2</text>
<text x="1081.31" y="1817" font-size="26.5" text-anchor="middle">3</text>
<text x="1115.59" y="1817" font-size="26.5" text-anchor="middle">4</text>
<text x="1149.88" y="1817" font-size="26.5" text-anchor="middle">5</text>
<text x="1184.16" y="1817" font-size="26.5" text-anchor="middle">6</text>
<text x="1218.44" y="1817" font-size="26.5" text-anchor="middle">7</text>
<text x="1252.72" y="1817" font-size="26.5" text-anchor="middle">8</text>
<text x="1287.01" y="1817" font-size="26.5" text-anchor="middle">9</text>
<text x="1321.29" y="1817" font-size="26.5" text-anchor="middle">10</text>
<text x="1355.58" y="1817" font-size="26.5" text-anchor="middle">11</text>
<text x="1389.86" y="1817" font-size="26.5" text-anchor="middle">12</text>
<text x="1424.14" y="1817" font-size="26.5" text-anchor="middle">13</text>
<text x="1458.42" y="1817" font-size="26.5" text-anchor="middle">14</text>
<text x="1492.71" y="1817" font-size="26.5" text-anchor="middle">15</text>
<text x="1526.99" y="1817" font-size="26.5" text-anchor="middle">16</text>
<text x="1561.27" y="1817" font-size="26.5" text-anchor="middle">17</text>
<text x="1595.56" y="1817" font-size="26.5" text-anchor="middle">18</text>
<text x="1304.8" y="1854.6" font-size="31.2" text-anchor="middle">Cell number</text>
<text x="884" y="1614.5" font-size="31.2" text-anchor="middle" transform="rotate(-90 884 1614.5)">Time to reach maximum</text>
<text x="918.6" y="1614.5" font-size="31.2" text-anchor="middle" transform="rotate(-90 918.6 1614.5)">accumulation (min)</text>
<text x="1775.3" y="1240.64" font-size="27.5" text-anchor="end">0</text>
<text x="1775.3" y="1202.97" font-size="27.5" text-anchor="end">1</text>
<text x="1775.3" y="1165.3" font-size="27.5" text-anchor="end">2</text>
<text x="1775.3" y="1127.63" font-size="27.5" text-anchor="end">3</text>
<text x="1775.3" y="1089.96" font-size="27.5" text-anchor="end">4</text>
<text x="1775.3" y="1052.29" font-size="27.5" text-anchor="end">5</text>
<text x="1775.3" y="1014.62" font-size="27.5" text-anchor="end">6</text>
<text x="1775.3" y="976.94" font-size="27.5" text-anchor="end">7</text>
<text x="1797.8" y="1273.2" font-size="27.5" text-anchor="middle">0</text>
<text x="1915.65" y="1273.2" font-size="27.5" text-anchor="middle">200</text>
<text x="2033.5" y="1273.2" font-size="27.5" text-anchor="middle">400</text>
<text x="2151.35" y="1273.2" font-size="27.5" text-anchor="middle">600</text>
<text x="2269.2" y="1273.2" font-size="27.5" text-anchor="middle">800</text>
<path d="M1797.8 969.3V1233M1790.8 1233H2269.2M1790.8 1195.33H1797.8M1790.8 1157.66H1797.8M1790.8 1119.99H1797.8M1790.8 1082.31H1797.8M1790.8 1044.64H1797.8M1790.8 1006.97H1797.8M1790.8 969.3H1797.8M1797.8 1233V1240M1915.65 1233V1240M2033.5 1233V1240M2151.35 1233V1240M2269.2 1233V1240" stroke="#868686" stroke-width="1.4" fill="none"/>
<path d="M1861.31 1172.35l7.2 -7.2l7.2 7.2l-7.2 7.2zM1852.47 1163.12l7.2 -7.2l7.2 7.2l-7.2 7.2zM1940.86 1162.33l7.2 -7.2l7.2 7.2l-7.2 7.2zM1870.15 1153.89l7.2 -7.2l7.2 7.2l-7.2 7.2zM1905.5 1152.01l7.2 -7.2l7.2 7.2l-7.2 7.2zM1887.83 1147.49l7.2 -7.2l7.2 7.2l-7.2 7.2zM2179.51 1147.3l7.2 -7.2l7.2 7.2l-7.2 7.2zM1852.47 1145.23l7.2 -7.2l7.2 7.2l-7.2 7.2zM1878.99 1140.86l7.2 -7.2l7.2 7.2l-7.2 7.2zM1861.31 1138.44l7.2 -7.2l7.2 7.2l-7.2 7.2zM1905.5 1136.37l7.2 -7.2l7.2 7.2l-7.2 7.2zM1896.66 1134.83l7.2 -7.2l7.2 7.2l-7.2 7.2zM1870.15 1125.82l7.2 -7.2l7.2 7.2l-7.2 7.2zM1878.99 1122.25l7.2 -7.2l7.2 7.2l-7.2 7.2zM1861.31 1114.71l7.2 -7.2l7.2 7.2l-7.2 7.2zM1843.63 1114.34l7.2 -7.2l7.2 7.2l-7.2 7.2zM1870.15 1105.67l7.2 -7.2l7.2 7.2l-7.2 7.2zM1905.5 1097.38l7.2 -7.2l7.2 7.2l-7.2 7.2zM2002.73 1097.95l7.2 -7.2l7.2 7.2l-7.2 7.2zM2170.67 1093.05l7.2 -7.2l7.2 7.2l-7.2 7.2zM1861.31 1092.3l7.2 -7.2l7.2 7.2l-7.2 7.2zM1896.66 1083.44l7.2 -7.2l7.2 7.2l-7.2 7.2zM1878.99 1080.05l7.2 -7.2l7.2 7.2l-7.2 7.2zM1887.83 1076.66l7.2 -7.2l7.2 7.2l-7.2 7.2zM1914.34 1070.26l7.2 -7.2l7.2 7.2l-7.2 7.2zM2091.12 1063.86l7.2 -7.2l7.2 7.2l-7.2 7.2zM2161.83 1060.84l7.2 -7.2l7.2 7.2l-7.2 7.2zM1878.99 1052.93l7.2 -7.2l7.2 7.2l-7.2 7.2zM2046.92 1048.41l7.2 -7.2l7.2 7.2l-7.2 7.2zM1958.54 1025.81l7.2 -7.2l7.2 7.2l-7.2 7.2zM1923.18 984.37l7.2 -7.2l7.2 7.2l-7.2 7.2z" fill="#4A7EBB"/>
<text x="2055.2" y="1303.7" font-size="31.2" text-anchor="middle">Time (min)</text>
<text x="1738" y="1097.7" font-size="31.2" text-anchor="middle" transform="rotate(-90 1738 1097.7)">Max intensity</text>
<text x="2160" y="1212.5" font-size="43.3" font-weight="bold">r=0.28</text>
<text x="1775.3" y="1787.35" font-size="27.5" text-anchor="end">0</text>
<text x="1775.3" y="1723.1" font-size="27.5" text-anchor="end">5</text>
<text x="1775.3" y="1658.85" font-size="27.5" text-anchor="end">10</text>
<text x="1775.3" y="1594.6" font-size="27.5" text-anchor="end">15</text>
<text x="1775.3" y="1530.35" font-size="27.5" text-anchor="end">20</text>
<text x="1798.2" y="1819.6" font-size="27.5" text-anchor="middle">0</text>
<text x="1890.94" y="1819.6" font-size="27.5" text-anchor="middle">200</text>
<text x="1983.68" y="1819.6" font-size="27.5" text-anchor="middle">400</text>
<text x="2076.42" y="1819.6" font-size="27.5" text-anchor="middle">600</text>
<text x="2169.16" y="1819.6" font-size="27.5" text-anchor="middle">800</text>
<text x="2261.9" y="1819.6" font-size="27.5" text-anchor="middle">1000</text>
<path d="M1798.2 1522.7V1779.7M1791.2 1779.7H2261.9M1791.2 1715.45H1798.2M1791.2 1651.2H1798.2M1791.2 1586.95H1798.2M1791.2 1522.7H1798.2M1798.2 1779.7V1786.7M1890.94 1779.7V1786.7M1983.68 1779.7V1786.7M2076.42 1779.7V1786.7M2169.16 1779.7V1786.7M2261.9 1779.7V1786.7" stroke="#868686" stroke-width="1.4" fill="none"/>
<path d="M2013.58 1695.79l7.2 -7.2l7.2 7.2l-7.2 7.2zM2131.82 1684.74l7.2 -7.2l7.2 7.2l-7.2 7.2zM2145.73 1662.77l7.2 -7.2l7.2 7.2l-7.2 7.2zM2069.22 1655.83l7.2 -7.2l7.2 7.2l-7.2 7.2zM2097.04 1652.87l7.2 -7.2l7.2 7.2l-7.2 7.2zM2104 1649.14l7.2 -7.2l7.2 7.2l-7.2 7.2zM2152.69 1643.75l7.2 -7.2l7.2 7.2l-7.2 7.2zM2173.55 1639.63l7.2 -7.2l7.2 7.2l-7.2 7.2zM2152.69 1636.29l7.2 -7.2l7.2 7.2l-7.2 7.2zM2152.69 1634.88l7.2 -7.2l7.2 7.2l-7.2 7.2zM2097.04 1629.74l7.2 -7.2l7.2 7.2l-7.2 7.2zM2124.86 1629.36l7.2 -7.2l7.2 7.2l-7.2 7.2zM2166.6 1607.77l7.2 -7.2l7.2 7.2l-7.2 7.2zM2097.04 1606.61l7.2 -7.2l7.2 7.2l-7.2 7.2zM2173.55 1604.43l7.2 -7.2l7.2 7.2l-7.2 7.2zM2159.64 1590.55l7.2 -7.2l7.2 7.2l-7.2 7.2zM2131.82 1559.32l7.2 -7.2l7.2 7.2l-7.2 7.2zM2173.55 1550.97l7.2 -7.2l7.2 7.2l-7.2 7.2z" fill="#BE4B48"/>
<text x="2055.2" y="1860.1" font-size="31.2" text-anchor="middle">Time (min)</text>
<text x="1734" y="1652" font-size="31.2" text-anchor="middle" transform="rotate(-90 1734 1652)">Max intensity</text>
<text x="2170" y="1758" font-size="43.3" font-weight="bold">r=0.53</text>
<g fill="#5B9BD5" stroke="#5B9BD5">
<polyline fill="none" stroke-width="6.2" stroke-linejoin="round" stroke-linecap="round" points="262.46,2683.09 277.28,2682.21 292.1,2679.93 306.92,2676.72 321.74,2673 336.56,2667.11 351.38,2659.52 366.2,2649.93 381.02,2639.44 395.84,2628.67 410.66,2617.2 425.48,2604.72 440.3,2592.27 455.12,2580.44 469.94,2568.26 484.76,2555.11 499.58,2542.38 514.4,2530.2 529.22,2518.38 544.04,2507.25 558.86,2497.15 573.68,2488.19 588.5,2479.92 603.32,2471.86 618.14,2463.5 632.96,2454.71 647.78,2445.82 662.6,2437.25 677.42,2429.37 692.24,2422.16 707.06,2415.37 721.88,2408.79 736.7,2402.26 751.52,2396.09 766.34,2390.14 781.16,2383.91 795.98,2376.92 810.8,2368.64 825.62,2359.29 840.44,2349.55 855.26,2340.02 870.08,2330.4 884.9,2320.67 899.72,2311.22 914.54,2302.45 929.36,2294.29 944.18,2286.54 959,2279.06 973.82,2271.76 988.64,2264.61 1003.46,2257.66 1018.28,2250.93 1033.1,2244.41 1047.92,2238.11 1062.74,2232.04 1077.56,2226.18"/>
<path stroke="none" d="M255.66 2683.09a6.8 6.8 0 1 0 13.6 0a6.8 6.8 0 1 0 -13.6 0zM270.48 2682.21a6.8 6.8 0 1 0 13.6 0a6.8 6.8 0 1 0 -13.6 0zM285.3 2679.93a6.8 6.8 0 1 0 13.6 0a6.8 6.8 0 1 0 -13.6 0zM300.12 2676.72a6.8 6.8 0 1 0 13.6 0a6.8 6.8 0 1 0 -13.6 0zM314.94 2673a6.8 6.8 0 1 0 13.6 0a6.8 6.8 0 1 0 -13.6 0zM329.76 2667.11a6.8 6.8 0 1 0 13.6 0a6.8 6.8 0 1 0 -13.6 0zM344.58 2659.52a6.8 6.8 0 1 0 13.6 0a6.8 6.8 0 1 0 -13.6 0zM359.4 2649.93a6.8 6.8 0 1 0 13.6 0a6.8 6.8 0 1 0 -13.6 0zM374.22 2639.44a6.8 6.8 0 1 0 13.6 0a6.8 6.8 0 1 0 -13.6 0zM389.04 2628.67a6.8 6.8 0 1 0 13.6 0a6.8 6.8 0 1 0 -13.6 0zM403.86 2617.2a6.8 6.8 0 1 0 13.6 0a6.8 6.8 0 1 0 -13.6 0zM418.68 2604.72a6.8 6.8 0 1 0 13.6 0a6.8 6.8 0 1 0 -13.6 0zM433.5 2592.27a6.8 6.8 0 1 0 13.6 0a6.8 6.8 0 1 0 -13.6 0zM448.32 2580.44a6.8 6.8 0 1 0 13.6 0a6.8 6.8 0 1 0 -13.6 0zM463.14 2568.26a6.8 6.8 0 1 0 13.6 0a6.8 6.8 0 1 0 -13.6 0zM477.96 2555.11a6.8 6.8 0 1 0 13.6 0a6.8 6.8 0 1 0 -13.6 0zM492.78 2542.38a6.8 6.8 0 1 0 13.6 0a6.8 6.8 0 1 0 -13.6 0zM507.6 2530.2a6.8 6.8 0 1 0 13.6 0a6.8 6.8 0 1 0 -13.6 0zM522.42 2518.38a6.8 6.8 0 1 0 13.6 0a6.8 6.8 0 1 0 -13.6 0zM537.24 2507.25a6.8 6.8 0 1 0 13.6 0a6.8 6.8 0 1 0 -13.6 0zM552.06 2497.15a6.8 6.8 0 1 0 13.6 0a6.8 6.8 0 1 0 -13.6 0zM566.88 2488.19a6.8 6.8 0 1 0 13.6 0a6.8 6.8 0 1 0 -13.6 0zM581.7 2479.92a6.8 6.8 0 1 0 13.6 0a6.8 6.8 0 1 0 -13.6 0zM596.52 2471.86a6.8 6.8 0 1 0 13.6 0a6.8 6.8 0 1 0 -13.6 0zM611.34 2463.5a6.8 6.8 0 1 0 13.6 0a6.8 6.8 0 1 0 -13.6 0zM626.16 2454.71a6.8 6.8 0 1 0 13.6 0a6.8 6.8 0 1 0 -13.6 0zM640.98 2445.82a6.8 6.8 0 1 0 13.6 0a6.8 6.8 0 1 0 -13.6 0zM655.8 2437.25a6.8 6.8 0 1 0 13.6 0a6.8 6.8 0 1 0 -13.6 0zM670.62 2429.37a6.8 6.8 0 1 0 13.6 0a6.8 6.8 0 1 0 -13.6 0zM685.44 2422.16a6.8 6.8 0 1 0 13.6 0a6.8 6.8 0 1 0 -13.6 0zM700.26 2415.37a6.8 6.8 0 1 0 13.6 0a6.8 6.8 0 1 0 -13.6 0zM715.08 2408.79a6.8 6.8 0 1 0 13.6 0a6.8 6.8 0 1 0 -13.6 0zM729.9 2402.26a6.8 6.8 0 1 0 13.6 0a6.8 6.8 0 1 0 -13.6 0zM744.72 2396.09a6.8 6.8 0 1 0 13.6 0a6.8 6.8 0 1 0 -13.6 0zM759.54 2390.14a6.8 6.8 0 1 0 13.6 0a6.8 6.8 0 1 0 -13.6 0zM774.36 2383.91a6.8 6.8 0 1 0 13.6 0a6.8 6.8 0 1 0 -13.6 0zM789.18 2376.92a6.8 6.8 0 1 0 13.6 0a6.8 6.8 0 1 0 -13.6 0zM804 2368.64a6.8 6.8 0 1 0 13.6 0a6.8 6.8 0 1 0 -13.6 0zM818.82 2359.29a6.8 6.8 0 1 0 13.6 0a6.8 6.8 0 1 0 -13.6 0zM833.64 2349.55a6.8 6.8 0 1 0 13.6 0a6.8 6.8 0 1 0 -13.6 0zM848.46 2340.02a6.8 6.8 0 1 0 13.6 0a6.8 6.8 0 1 0 -13.6 0zM863.28 2330.4a6.8 6.8 0 1 0 13.6 0a6.8 6.8 0 1 0 -13.6 0zM878.1 2320.67a6.8 6.8 0 1 0 13.6 0a6.8 6.8 0 1 0 -13.6 0zM892.92 2311.22a6.8 6.8 0 1 0 13.6 0a6.8 6.8 0 1 0 -13.6 0zM907.74 2302.45a6.8 6.8 0 1 0 13.6 0a6.8 6.8 0 1 0 -13.6 0zM922.56 2294.29a6.8 6.8 0 1 0 13.6 0a6.8 6.8 0 1 0 -13.6 0zM937.38 2286.54a6.8 6.8 0 1 0 13.6 0a6.8 6.8 0 1 0 -13.6 0zM952.2 2279.06a6.8 6.8 0 1 0 13.6 0a6.8 6.8 0 1 0 -13.6 0zM967.02 2271.76a6.8 6.8 0 1 0 13.6 0a6.8 6.8 0 1 0 -13.6 0zM981.84 2264.61a6.8 6.8 0 1 0 13.6 0a6.8 6.8 0 1 0 -13.6 0zM996.66 2257.66a6.8 6.8 0 1 0 13.6 0a6.8 6.8 0 1 0 -13.6 0zM1011.48 2250.93a6.8 6.8 0 1 0 13.6 0a6.8 6.8 0 1 0 -13.6 0zM1026.3 2244.41a6.8 6.8 0 1 0 13.6 0a6.8 6.8 0 1 0 -13.6 0zM1041.12 2238.11a6.8 6.8 0 1 0 13.6 0a6.8 6.8 0 1 0 -13.6 0zM1055.94 2232.04a6.8 6.8 0 1 0 13.6 0a6.8 6.8 0 1 0 -13.6 0zM1070.76 2226.18a6.8 6.8 0 1 0 13.6 0a6.8 6.8 0 1 0 -13.6 0z"/>
</g>
<g fill="#ED7D31" stroke="#ED7D31">
<polyline fill="none" stroke-width="6.2" stroke-linejoin="round" stroke-linecap="round" points="262.46,2683.09 277.28,2682.09 292.1,2679.79 306.92,2676.64 321.74,2673.04 336.56,2667.65 351.38,2660.55 366.2,2650.84 381.02,2640.52 395.84,2630.64 410.66,2620.5 425.48,2609.34 440.3,2600.1 455.12,2593.9 469.94,2587.16 484.76,2577.96 499.58,2569.21 514.4,2561.79 529.22,2554.9 544.04,2548.24 558.86,2541.53 573.68,2535.02 588.5,2528.64 603.32,2522.06 618.14,2514.96 632.96,2507.12 647.78,2498.8 662.6,2490.35 677.42,2482.14 692.24,2473.98 707.06,2465.85 721.88,2457.92 736.7,2450.39 751.52,2443.39 766.34,2436.71 781.16,2430.01 795.98,2422.97 810.8,2415.48 825.62,2407.71 840.44,2399.78 855.26,2391.8 870.08,2383.44 884.9,2374.91 899.72,2366.74 914.54,2359.47 929.36,2353.36 944.18,2347.82 959,2342.04 973.82,2335.22 988.64,2326.32 1003.46,2316.31 1018.28,2306.82 1033.1,2299.45 1047.92,2293.52 1062.74,2288.47 1077.56,2284.53"/>
<path stroke="none" d="M255.66 2683.09a6.8 6.8 0 1 0 13.6 0a6.8 6.8 0 1 0 -13.6 0zM270.48 2682.09a6.8 6.8 0 1 0 13.6 0a6.8 6.8 0 1 0 -13.6 0zM285.3 2679.79a6.8 6.8 0 1 0 13.6 0a6.8 6.8 0 1 0 -13.6 0zM300.12 2676.64a6.8 6.8 0 1 0 13.6 0a6.8 6.8 0 1 0 -13.6 0zM314.94 2673.04a6.8 6.8 0 1 0 13.6 0a6.8 6.8 0 1 0 -13.6 0zM329.76 2667.65a6.8 6.8 0 1 0 13.6 0a6.8 6.8 0 1 0 -13.6 0zM344.58 2660.55a6.8 6.8 0 1 0 13.6 0a6.8 6.8 0 1 0 -13.6 0zM359.4 2650.84a6.8 6.8 0 1 0 13.6 0a6.8 6.8 0 1 0 -13.6 0zM374.22 2640.52a6.8 6.8 0 1 0 13.6 0a6.8 6.8 0 1 0 -13.6 0zM389.04 2630.64a6.8 6.8 0 1 0 13.6 0a6.8 6.8 0 1 0 -13.6 0zM403.86 2620.5a6.8 6.8 0 1 0 13.6 0a6.8 6.8 0 1 0 -13.6 0zM418.68 2609.34a6.8 6.8 0 1 0 13.6 0a6.8 6.8 0 1 0 -13.6 0zM433.5 2600.1a6.8 6.8 0 1 0 13.6 0a6.8 6.8 0 1 0 -13.6 0zM448.32 2593.9a6.8 6.8 0 1 0 13.6 0a6.8 6.8 0 1 0 -13.6 0zM463.14 2587.16a6.8 6.8 0 1 0 13.6 0a6.8 6.8 0 1 0 -13.6 0zM477.96 2577.96a6.8 6.8 0 1 0 13.6 0a6.8 6.8 0 1 0 -13.6 0zM492.78 2569.21a6.8 6.8 0 1 0 13.6 0a6.8 6.8 0 1 0 -13.6 0zM507.6 2561.79a6.8 6.8 0 1 0 13.6 0a6.8 6.8 0 1 0 -13.6 0zM522.42 2554.9a6.8 6.8 0 1 0 13.6 0a6.8 6.8 0 1 0 -13.6 0zM537.24 2548.24a6.8 6.8 0 1 0 13.6 0a6.8 6.8 0 1 0 -13.6 0zM552.06 2541.53a6.8 6.8 0 1 0 13.6 0a6.8 6.8 0 1 0 -13.6 0zM566.88 2535.02a6.8 6.8 0 1 0 13.6 0a6.8 6.8 0 1 0 -13.6 0zM581.7 2528.64a6.8 6.8 0 1 0 13.6 0a6.8 6.8 0 1 0 -13.6 0zM596.52 2522.06a6.8 6.8 0 1 0 13.6 0a6.8 6.8 0 1 0 -13.6 0zM611.34 2514.96a6.8 6.8 0 1 0 13.6 0a6.8 6.8 0 1 0 -13.6 0zM626.16 2507.12a6.8 6.8 0 1 0 13.6 0a6.8 6.8 0 1 0 -13.6 0zM640.98 2498.8a6.8 6.8 0 1 0 13.6 0a6.8 6.8 0 1 0 -13.6 0zM655.8 2490.35a6.8 6.8 0 1 0 13.6 0a6.8 6.8 0 1 0 -13.6 0zM670.62 2482.14a6.8 6.8 0 1 0 13.6 0a6.8 6.8 0 1 0 -13.6 0zM685.44 2473.98a6.8 6.8 0 1 0 13.6 0a6.8 6.8 0 1 0 -13.6 0zM700.26 2465.85a6.8 6.8 0 1 0 13.6 0a6.8 6.8 0 1 0 -13.6 0zM715.08 2457.92a6.8 6.8 0 1 0 13.6 0a6.8 6.8 0 1 0 -13.6 0zM729.9 2450.39a6.8 6.8 0 1 0 13.6 0a6.8 6.8 0 1 0 -13.6 0zM744.72 2443.39a6.8 6.8 0 1 0 13.6 0a6.8 6.8 0 1 0 -13.6 0zM759.54 2436.71a6.8 6.8 0 1 0 13.6 0a6.8 6.8 0 1 0 -13.6 0zM774.36 2430.01a6.8 6.8 0 1 0 13.6 0a6.8 6.8 0 1 0 -13.6 0zM789.18 2422.97a6.8 6.8 0 1 0 13.6 0a6.8 6.8 0 1 0 -13.6 0zM804 2415.48a6.8 6.8 0 1 0 13.6 0a6.8 6.8 0 1 0 -13.6 0zM818.82 2407.71a6.8 6.8 0 1 0 13.6 0a6.8 6.8 0 1 0 -13.6 0zM833.64 2399.78a6.8 6.8 0 1 0 13.6 0a6.8 6.8 0 1 0 -13.6 0zM848.46 2391.8a6.8 6.8 0 1 0 13.6 0a6.8 6.8 0 1 0 -13.6 0zM863.28 2383.44a6.8 6.8 0 1 0 13.6 0a6.8 6.8 0 1 0 -13.6 0zM878.1 2374.91a6.8 6.8 0 1 0 13.6 0a6.8 6.8 0 1 0 -13.6 0zM892.92 2366.74a6.8 6.8 0 1 0 13.6 0a6.8 6.8 0 1 0 -13.6 0zM907.74 2359.47a6.8 6.8 0 1 0 13.6 0a6.8 6.8 0 1 0 -13.6 0zM922.56 2353.36a6.8 6.8 0 1 0 13.6 0a6.8 6.8 0 1 0 -13.6 0zM937.38 2347.82a6.8 6.8 0 1 0 13.6 0a6.8 6.8 0 1 0 -13.6 0zM952.2 2342.04a6.8 6.8 0 1 0 13.6 0a6.8 6.8 0 1 0 -13.6 0zM967.02 2335.22a6.8 6.8 0 1 0 13.6 0a6.8 6.8 0 1 0 -13.6 0zM981.84 2326.32a6.8 6.8 0 1 0 13.6 0a6.8 6.8 0 1 0 -13.6 0zM996.66 2316.31a6.8 6.8 0 1 0 13.6 0a6.8 6.8 0 1 0 -13.6 0zM1011.48 2306.82a6.8 6.8 0 1 0 13.6 0a6.8 6.8 0 1 0 -13.6 0zM1026.3 2299.45a6.8 6.8 0 1 0 13.6 0a6.8 6.8 0 1 0 -13.6 0zM1041.12 2293.52a6.8 6.8 0 1 0 13.6 0a6.8 6.8 0 1 0 -13.6 0zM1055.94 2288.47a6.8 6.8 0 1 0 13.6 0a6.8 6.8 0 1 0 -13.6 0zM1070.76 2284.53a6.8 6.8 0 1 0 13.6 0a6.8 6.8 0 1 0 -13.6 0z"/>
</g>
<g fill="#A5A5A5" stroke="#A5A5A5">
<polyline fill="none" stroke-width="6.2" stroke-linejoin="round" stroke-linecap="round" points="262.46,2683.09 277.28,2682.2 292.1,2680.39 306.92,2677.95 321.74,2675.15 336.56,2670.86 351.38,2666.07 366.2,2661.44 381.02,2656.34 395.84,2650.41 410.66,2644.32 425.48,2638.25 440.3,2632.38 455.12,2626.84 469.94,2621.56 484.76,2616.64 499.58,2611.6 514.4,2606.34 529.22,2600.94 544.04,2595.35 558.86,2589.49 573.68,2583.11 588.5,2576.42 603.32,2569.8 618.14,2563.66 632.96,2558.16 647.78,2552.95 662.6,2547.58 677.42,2541.63 692.24,2535.02 707.06,2527.94 721.88,2520.5 736.7,2512.85 751.52,2505.01 766.34,2496.88 781.16,2488.31 795.98,2479.17 810.8,2469 825.62,2457.92 840.44,2446.68 855.26,2436.05 870.08,2426.18 884.9,2416.59 899.72,2406.83 914.54,2396.43 929.36,2385.33 944.18,2373.73 959,2361.84 973.82,2349.82 988.64,2337.27 1003.46,2324.42 1018.28,2311.85 1033.1,2300.12 1047.92,2289.11 1062.74,2278.65 1077.56,2268.72"/>
<path stroke="none" d="M255.66 2683.09a6.8 6.8 0 1 0 13.6 0a6.8 6.8 0 1 0 -13.6 0zM270.48 2682.2a6.8 6.8 0 1 0 13.6 0a6.8 6.8 0 1 0 -13.6 0zM285.3 2680.39a6.8 6.8 0 1 0 13.6 0a6.8 6.8 0 1 0 -13.6 0zM300.12 2677.95a6.8 6.8 0 1 0 13.6 0a6.8 6.8 0 1 0 -13.6 0zM314.94 2675.15a6.8 6.8 0 1 0 13.6 0a6.8 6.8 0 1 0 -13.6 0zM329.76 2670.86a6.8 6.8 0 1 0 13.6 0a6.8 6.8 0 1 0 -13.6 0zM344.58 2666.07a6.8 6.8 0 1 0 13.6 0a6.8 6.8 0 1 0 -13.6 0zM359.4 2661.44a6.8 6.8 0 1 0 13.6 0a6.8 6.8 0 1 0 -13.6 0zM374.22 2656.34a6.8 6.8 0 1 0 13.6 0a6.8 6.8 0 1 0 -13.6 0zM389.04 2650.41a6.8 6.8 0 1 0 13.6 0a6.8 6.8 0 1 0 -13.6 0zM403.86 2644.32a6.8 6.8 0 1 0 13.6 0a6.8 6.8 0 1 0 -13.6 0zM418.68 2638.25a6.8 6.8 0 1 0 13.6 0a6.8 6.8 0 1 0 -13.6 0zM433.5 2632.38a6.8 6.8 0 1 0 13.6 0a6.8 6.8 0 1 0 -13.6 0zM448.32 2626.84a6.8 6.8 0 1 0 13.6 0a6.8 6.8 0 1 0 -13.6 0zM463.14 2621.56a6.8 6.8 0 1 0 13.6 0a6.8 6.8 0 1 0 -13.6 0zM477.96 2616.64a6.8 6.8 0 1 0 13.6 0a6.8 6.8 0 1 0 -13.6 0zM492.78 2611.6a6.8 6.8 0 1 0 13.6 0a6.8 6.8 0 1 0 -13.6 0zM507.6 2606.34a6.8 6.8 0 1 0 13.6 0a6.8 6.8 0 1 0 -13.6 0zM522.42 2600.94a6.8 6.8 0 1 0 13.6 0a6.8 6.8 0 1 0 -13.6 0zM537.24 2595.35a6.8 6.8 0 1 0 13.6 0a6.8 6.8 0 1 0 -13.6 0zM552.06 2589.49a6.8 6.8 0 1 0 13.6 0a6.8 6.8 0 1 0 -13.6 0zM566.88 2583.11a6.8 6.8 0 1 0 13.6 0a6.8 6.8 0 1 0 -13.6 0zM581.7 2576.42a6.8 6.8 0 1 0 13.6 0a6.8 6.8 0 1 0 -13.6 0zM596.52 2569.8a6.8 6.8 0 1 0 13.6 0a6.8 6.8 0 1 0 -13.6 0zM611.34 2563.66a6.8 6.8 0 1 0 13.6 0a6.8 6.8 0 1 0 -13.6 0zM626.16 2558.16a6.8 6.8 0 1 0 13.6 0a6.8 6.8 0 1 0 -13.6 0zM640.98 2552.95a6.8 6.8 0 1 0 13.6 0a6.8 6.8 0 1 0 -13.6 0zM655.8 2547.58a6.8 6.8 0 1 0 13.6 0a6.8 6.8 0 1 0 -13.6 0zM670.62 2541.63a6.8 6.8 0 1 0 13.6 0a6.8 6.8 0 1 0 -13.6 0zM685.44 2535.02a6.8 6.8 0 1 0 13.6 0a6.8 6.8 0 1 0 -13.6 0zM700.26 2527.94a6.8 6.8 0 1 0 13.6 0a6.8 6.8 0 1 0 -13.6 0zM715.08 2520.5a6.8 6.8 0 1 0 13.6 0a6.8 6.8 0 1 0 -13.6 0zM729.9 2512.85a6.8 6.8 0 1 0 13.6 0a6.8 6.8 0 1 0 -13.6 0zM744.72 2505.01a6.8 6.8 0 1 0 13.6 0a6.8 6.8 0 1 0 -13.6 0zM759.54 2496.88a6.8 6.8 0 1 0 13.6 0a6.8 6.8 0 1 0 -13.6 0zM774.36 2488.31a6.8 6.8 0 1 0 13.6 0a6.8 6.8 0 1 0 -13.6 0zM789.18 2479.17a6.8 6.8 0 1 0 13.6 0a6.8 6.8 0 1 0 -13.6 0zM804 2469a6.8 6.8 0 1 0 13.6 0a6.8 6.8 0 1 0 -13.6 0zM818.82 2457.92a6.8 6.8 0 1 0 13.6 0a6.8 6.8 0 1 0 -13.6 0zM833.64 2446.68a6.8 6.8 0 1 0 13.6 0a6.8 6.8 0 1 0 -13.6 0zM848.46 2436.05a6.8 6.8 0 1 0 13.6 0a6.8 6.8 0 1 0 -13.6 0zM863.28 2426.18a6.8 6.8 0 1 0 13.6 0a6.8 6.8 0 1 0 -13.6 0zM878.1 2416.59a6.8 6.8 0 1 0 13.6 0a6.8 6.8 0 1 0 -13.6 0zM892.92 2406.83a6.8 6.8 0 1 0 13.6 0a6.8 6.8 0 1 0 -13.6 0zM907.74 2396.43a6.8 6.8 0 1 0 13.6 0a6.8 6.8 0 1 0 -13.6 0zM922.56 2385.33a6.8 6.8 0 1 0 13.6 0a6.8 6.8 0 1 0 -13.6 0zM937.38 2373.73a6.8 6.8 0 1 0 13.6 0a6.8 6.8 0 1 0 -13.6 0zM952.2 2361.84a6.8 6.8 0 1 0 13.6 0a6.8 6.8 0 1 0 -13.6 0zM967.02 2349.82a6.8 6.8 0 1 0 13.6 0a6.8 6.8 0 1 0 -13.6 0zM981.84 2337.27a6.8 6.8 0 1 0 13.6 0a6.8 6.8 0 1 0 -13.6 0zM996.66 2324.42a6.8 6.8 0 1 0 13.6 0a6.8 6.8 0 1 0 -13.6 0zM1011.48 2311.85a6.8 6.8 0 1 0 13.6 0a6.8 6.8 0 1 0 -13.6 0zM1026.3 2300.12a6.8 6.8 0 1 0 13.6 0a6.8 6.8 0 1 0 -13.6 0zM1041.12 2289.11a6.8 6.8 0 1 0 13.6 0a6.8 6.8 0 1 0 -13.6 0zM1055.94 2278.65a6.8 6.8 0 1 0 13.6 0a6.8 6.8 0 1 0 -13.6 0zM1070.76 2268.72a6.8 6.8 0 1 0 13.6 0a6.8 6.8 0 1 0 -13.6 0z"/>
</g>
<g fill="#FFC000" stroke="#FFC000">
<polyline fill="none" stroke-width="6.2" stroke-linejoin="round" stroke-linecap="round" points="262.46,2684.06 277.28,2683.26 292.1,2681.56 306.92,2679.28 321.74,2676.67 336.56,2672.88 351.38,2667.83 366.2,2660.97 381.02,2652.64 395.84,2642.55 410.66,2631.17 425.48,2618.52 440.3,2604.87 455.12,2590.16 469.94,2575.24 484.76,2560.19 499.58,2546.19 514.4,2533.57 529.22,2521.68 544.04,2510.18 558.86,2498.71 573.68,2486.96 588.5,2475.34 603.32,2464.43 618.14,2454.82 632.96,2446.12 647.78,2438.09 662.6,2430.88 677.42,2424.63 692.24,2419.25 707.06,2414.45 721.88,2409.99 736.7,2405.62 751.52,2401.6 766.34,2397.84 781.16,2393.94 795.98,2389.51 810.8,2384.12 825.62,2378 840.44,2371.72 855.26,2365.84 870.08,2360.32 884.9,2354.93 899.72,2349.63 914.54,2344.35 929.36,2338.95 944.18,2333.57 959,2328.46 973.82,2323.85 988.64,2319.78 1003.46,2316.02 1018.28,2312.35 1033.1,2308.52 1047.92,2304.59 1062.74,2300.62 1077.56,2296.62"/>
<path stroke="none" d="M255.66 2684.06a6.8 6.8 0 1 0 13.6 0a6.8 6.8 0 1 0 -13.6 0zM270.48 2683.26a6.8 6.8 0 1 0 13.6 0a6.8 6.8 0 1 0 -13.6 0zM285.3 2681.56a6.8 6.8 0 1 0 13.6 0a6.8 6.8 0 1 0 -13.6 0zM300.12 2679.28a6.8 6.8 0 1 0 13.6 0a6.8 6.8 0 1 0 -13.6 0zM314.94 2676.67a6.8 6.8 0 1 0 13.6 0a6.8 6.8 0 1 0 -13.6 0zM329.76 2672.88a6.8 6.8 0 1 0 13.6 0a6.8 6.8 0 1 0 -13.6 0zM344.58 2667.83a6.8 6.8 0 1 0 13.6 0a6.8 6.8 0 1 0 -13.6 0zM359.4 2660.97a6.8 6.8 0 1 0 13.6 0a6.8 6.8 0 1 0 -13.6 0zM374.22 2652.64a6.8 6.8 0 1 0 13.6 0a6.8 6.8 0 1 0 -13.6 0zM389.04 2642.55a6.8 6.8 0 1 0 13.6 0a6.8 6.8 0 1 0 -13.6 0zM403.86 2631.17a6.8 6.8 0 1 0 13.6 0a6.8 6.8 0 1 0 -13.6 0zM418.68 2618.52a6.8 6.8 0 1 0 13.6 0a6.8 6.8 0 1 0 -13.6 0zM433.5 2604.87a6.8 6.8 0 1 0 13.6 0a6.8 6.8 0 1 0 -13.6 0zM448.32 2590.16a6.8 6.8 0 1 0 13.6 0a6.8 6.8 0 1 0 -13.6 0zM463.14 2575.24a6.8 6.8 0 1 0 13.6 0a6.8 6.8 0 1 0 -13.6 0zM477.96 2560.19a6.8 6.8 0 1 0 13.6 0a6.8 6.8 0 1 0 -13.6 0zM492.78 2546.19a6.8 6.8 0 1 0 13.6 0a6.8 6.8 0 1 0 -13.6 0zM507.6 2533.57a6.8 6.8 0 1 0 13.6 0a6.8 6.8 0 1 0 -13.6 0zM522.42 2521.68a6.8 6.8 0 1 0 13.6 0a6.8 6.8 0 1 0 -13.6 0zM537.24 2510.18a6.8 6.8 0 1 0 13.6 0a6.8 6.8 0 1 0 -13.6 0zM552.06 2498.71a6.8 6.8 0 1 0 13.6 0a6.8 6.8 0 1 0 -13.6 0zM566.88 2486.96a6.8 6.8 0 1 0 13.6 0a6.8 6.8 0 1 0 -13.6 0zM581.7 2475.34a6.8 6.8 0 1 0 13.6 0a6.8 6.8 0 1 0 -13.6 0zM596.52 2464.43a6.8 6.8 0 1 0 13.6 0a6.8 6.8 0 1 0 -13.6 0zM611.34 2454.82a6.8 6.8 0 1 0 13.6 0a6.8 6.8 0 1 0 -13.6 0zM626.16 2446.12a6.8 6.8 0 1 0 13.6 0a6.8 6.8 0 1 0 -13.6 0zM640.98 2438.09a6.8 6.8 0 1 0 13.6 0a6.8 6.8 0 1 0 -13.6 0zM655.8 2430.88a6.8 6.8 0 1 0 13.6 0a6.8 6.8 0 1 0 -13.6 0zM670.62 2424.63a6.8 6.8 0 1 0 13.6 0a6.8 6.8 0 1 0 -13.6 0zM685.44 2419.25a6.8 6.8 0 1 0 13.6 0a6.8 6.8 0 1 0 -13.6 0zM700.26 2414.45a6.8 6.8 0 1 0 13.6 0a6.8 6.8 0 1 0 -13.6 0zM715.08 2409.99a6.8 6.8 0 1 0 13.6 0a6.8 6.8 0 1 0 -13.6 0zM729.9 2405.62a6.8 6.8 0 1 0 13.6 0a6.8 6.8 0 1 0 -13.6 0zM744.72 2401.6a6.8 6.8 0 1 0 13.6 0a6.8 6.8 0 1 0 -13.6 0zM759.54 2397.84a6.8 6.8 0 1 0 13.6 0a6.8 6.8 0 1 0 -13.6 0zM774.36 2393.94a6.8 6.8 0 1 0 13.6 0a6.8 6.8 0 1 0 -13.6 0zM789.18 2389.51a6.8 6.8 0 1 0 13.6 0a6.8 6.8 0 1 0 -13.6 0zM804 2384.12a6.8 6.8 0 1 0 13.6 0a6.8 6.8 0 1 0 -13.6 0zM818.82 2378a6.8 6.8 0 1 0 13.6 0a6.8 6.8 0 1 0 -13.6 0zM833.64 2371.72a6.8 6.8 0 1 0 13.6 0a6.8 6.8 0 1 0 -13.6 0zM848.46 2365.84a6.8 6.8 0 1 0 13.6 0a6.8 6.8 0 1 0 -13.6 0zM863.28 2360.32a6.8 6.8 0 1 0 13.6 0a6.8 6.8 0 1 0 -13.6 0zM878.1 2354.93a6.8 6.8 0 1 0 13.6 0a6.8 6.8 0 1 0 -13.6 0zM892.92 2349.63a6.8 6.8 0 1 0 13.6 0a6.8 6.8 0 1 0 -13.6 0zM907.74 2344.35a6.8 6.8 0 1 0 13.6 0a6.8 6.8 0 1 0 -13.6 0zM922.56 2338.95a6.8 6.8 0 1 0 13.6 0a6.8 6.8 0 1 0 -13.6 0zM937.38 2333.57a6.8 6.8 0 1 0 13.6 0a6.8 6.8 0 1 0 -13.6 0zM952.2 2328.46a6.8 6.8 0 1 0 13.6 0a6.8 6.8 0 1 0 -13.6 0zM967.02 2323.85a6.8 6.8 0 1 0 13.6 0a6.8 6.8 0 1 0 -13.6 0zM981.84 2319.78a6.8 6.8 0 1 0 13.6 0a6.8 6.8 0 1 0 -13.6 0zM996.66 2316.02a6.8 6.8 0 1 0 13.6 0a6.8 6.8 0 1 0 -13.6 0zM1011.48 2312.35a6.8 6.8 0 1 0 13.6 0a6.8 6.8 0 1 0 -13.6 0zM1026.3 2308.52a6.8 6.8 0 1 0 13.6 0a6.8 6.8 0 1 0 -13.6 0zM1041.12 2304.59a6.8 6.8 0 1 0 13.6 0a6.8 6.8 0 1 0 -13.6 0zM1055.94 2300.62a6.8 6.8 0 1 0 13.6 0a6.8 6.8 0 1 0 -13.6 0zM1070.76 2296.62a6.8 6.8 0 1 0 13.6 0a6.8 6.8 0 1 0 -13.6 0z"/>
</g>
<g fill="#4472C4" stroke="#4472C4">
<polyline fill="none" stroke-width="6.2" stroke-linejoin="round" stroke-linecap="round" points="262.46,2683.09 277.28,2682.26 292.1,2680.09 306.92,2677.05 321.74,2673.54 336.56,2668.07 351.38,2660.82 366.2,2650.94 381.02,2640.51 395.84,2630.63 410.66,2620.54 425.48,2610.05 440.3,2599.53 455.12,2589.23 469.94,2578.52 484.76,2566.95 499.58,2555.62 514.4,2544.84 529.22,2534.34 544.04,2524.06 558.86,2513.95 573.68,2504.21 588.5,2494.69 603.32,2485.09 618.14,2475.07 632.96,2464.5 647.78,2453.61 662.6,2442.75 677.42,2432.23 692.24,2422.19 707.06,2412.35 721.88,2402.39 736.7,2391.96 751.52,2381.1 766.34,2369.92 781.16,2358.44 795.98,2346.68 810.8,2334.66 825.62,2322.32 840.44,2309.56 855.26,2296.25 870.08,2282.11 884.9,2267.37 899.72,2252.44 914.54,2237.68 929.36,2222.67 944.18,2207.56 959,2193 973.82,2179.61 988.64,2167.3 1003.46,2155.68 1018.28,2144.55 1033.1,2133.68 1047.92,2123.12 1062.74,2112.94 1077.56,2103.15"/>
<path stroke="none" d="M255.66 2683.09a6.8 6.8 0 1 0 13.6 0a6.8 6.8 0 1 0 -13.6 0zM270.48 2682.26a6.8 6.8 0 1 0 13.6 0a6.8 6.8 0 1 0 -13.6 0zM285.3 2680.09a6.8 6.8 0 1 0 13.6 0a6.8 6.8 0 1 0 -13.6 0zM300.12 2677.05a6.8 6.8 0 1 0 13.6 0a6.8 6.8 0 1 0 -13.6 0zM314.94 2673.54a6.8 6.8 0 1 0 13.6 0a6.8 6.8 0 1 0 -13.6 0zM329.76 2668.07a6.8 6.8 0 1 0 13.6 0a6.8 6.8 0 1 0 -13.6 0zM344.58 2660.82a6.8 6.8 0 1 0 13.6 0a6.8 6.8 0 1 0 -13.6 0zM359.4 2650.94a6.8 6.8 0 1 0 13.6 0a6.8 6.8 0 1 0 -13.6 0zM374.22 2640.51a6.8 6.8 0 1 0 13.6 0a6.8 6.8 0 1 0 -13.6 0zM389.04 2630.63a6.8 6.8 0 1 0 13.6 0a6.8 6.8 0 1 0 -13.6 0zM403.86 2620.54a6.8 6.8 0 1 0 13.6 0a6.8 6.8 0 1 0 -13.6 0zM418.68 2610.05a6.8 6.8 0 1 0 13.6 0a6.8 6.8 0 1 0 -13.6 0zM433.5 2599.53a6.8 6.8 0 1 0 13.6 0a6.8 6.8 0 1 0 -13.6 0zM448.32 2589.23a6.8 6.8 0 1 0 13.6 0a6.8 6.8 0 1 0 -13.6 0zM463.14 2578.52a6.8 6.8 0 1 0 13.6 0a6.8 6.8 0 1 0 -13.6 0zM477.96 2566.95a6.8 6.8 0 1 0 13.6 0a6.8 6.8 0 1 0 -13.6 0zM492.78 2555.62a6.8 6.8 0 1 0 13.6 0a6.8 6.8 0 1 0 -13.6 0zM507.6 2544.84a6.8 6.8 0 1 0 13.6 0a6.8 6.8 0 1 0 -13.6 0zM522.42 2534.34a6.8 6.8 0 1 0 13.6 0a6.8 6.8 0 1 0 -13.6 0zM537.24 2524.06a6.8 6.8 0 1 0 13.6 0a6.8 6.8 0 1 0 -13.6 0zM552.06 2513.95a6.8 6.8 0 1 0 13.6 0a6.8 6.8 0 1 0 -13.6 0zM566.88 2504.21a6.8 6.8 0 1 0 13.6 0a6.8 6.8 0 1 0 -13.6 0zM581.7 2494.69a6.8 6.8 0 1 0 13.6 0a6.8 6.8 0 1 0 -13.6 0zM596.52 2485.09a6.8 6.8 0 1 0 13.6 0a6.8 6.8 0 1 0 -13.6 0zM611.34 2475.07a6.8 6.8 0 1 0 13.6 0a6.8 6.8 0 1 0 -13.6 0zM626.16 2464.5a6.8 6.8 0 1 0 13.6 0a6.8 6.8 0 1 0 -13.6 0zM640.98 2453.61a6.8 6.8 0 1 0 13.6 0a6.8 6.8 0 1 0 -13.6 0zM655.8 2442.75a6.8 6.8 0 1 0 13.6 0a6.8 6.8 0 1 0 -13.6 0zM670.62 2432.23a6.8 6.8 0 1 0 13.6 0a6.8 6.8 0 1 0 -13.6 0zM685.44 2422.19a6.8 6.8 0 1 0 13.6 0a6.8 6.8 0 1 0 -13.6 0zM700.26 2412.35a6.8 6.8 0 1 0 13.6 0a6.8 6.8 0 1 0 -13.6 0zM715.08 2402.39a6.8 6.8 0 1 0 13.6 0a6.8 6.8 0 1 0 -13.6 0zM729.9 2391.96a6.8 6.8 0 1 0 13.6 0a6.8 6.8 0 1 0 -13.6 0zM744.72 2381.1a6.8 6.8 0 1 0 13.6 0a6.8 6.8 0 1 0 -13.6 0zM759.54 2369.92a6.8 6.8 0 1 0 13.6 0a6.8 6.8 0 1 0 -13.6 0zM774.36 2358.44a6.8 6.8 0 1 0 13.6 0a6.8 6.8 0 1 0 -13.6 0zM789.18 2346.68a6.8 6.8 0 1 0 13.6 0a6.8 6.8 0 1 0 -13.6 0zM804 2334.66a6.8 6.8 0 1 0 13.6 0a6.8 6.8 0 1 0 -13.6 0zM818.82 2322.32a6.8 6.8 0 1 0 13.6 0a6.8 6.8 0 1 0 -13.6 0zM833.64 2309.56a6.8 6.8 0 1 0 13.6 0a6.8 6.8 0 1 0 -13.6 0zM848.46 2296.25a6.8 6.8 0 1 0 13.6 0a6.8 6.8 0 1 0 -13.6 0zM863.28 2282.11a6.8 6.8 0 1 0 13.6 0a6.8 6.8 0 1 0 -13.6 0zM878.1 2267.37a6.8 6.8 0 1 0 13.6 0a6.8 6.8 0 1 0 -13.6 0zM892.92 2252.44a6.8 6.8 0 1 0 13.6 0a6.8 6.8 0 1 0 -13.6 0zM907.74 2237.68a6.8 6.8 0 1 0 13.6 0a6.8 6.8 0 1 0 -13.6 0zM922.56 2222.67a6.8 6.8 0 1 0 13.6 0a6.8 6.8 0 1 0 -13.6 0zM937.38 2207.56a6.8 6.8 0 1 0 13.6 0a6.8 6.8 0 1 0 -13.6 0zM952.2 2193a6.8 6.8 0 1 0 13.6 0a6.8 6.8 0 1 0 -13.6 0zM967.02 2179.61a6.8 6.8 0 1 0 13.6 0a6.8 6.8 0 1 0 -13.6 0zM981.84 2167.3a6.8 6.8 0 1 0 13.6 0a6.8 6.8 0 1 0 -13.6 0zM996.66 2155.68a6.8 6.8 0 1 0 13.6 0a6.8 6.8 0 1 0 -13.6 0zM1011.48 2144.55a6.8 6.8 0 1 0 13.6 0a6.8 6.8 0 1 0 -13.6 0zM1026.3 2133.68a6.8 6.8 0 1 0 13.6 0a6.8 6.8 0 1 0 -13.6 0zM1041.12 2123.12a6.8 6.8 0 1 0 13.6 0a6.8 6.8 0 1 0 -13.6 0zM1055.94 2112.94a6.8 6.8 0 1 0 13.6 0a6.8 6.8 0 1 0 -13.6 0zM1070.76 2103.15a6.8 6.8 0 1 0 13.6 0a6.8 6.8 0 1 0 -13.6 0z"/>
</g>
<g fill="#70AD47" stroke="#70AD47">
<polyline fill="none" stroke-width="6.2" stroke-linejoin="round" stroke-linecap="round" points="262.46,2683.57 277.28,2682.35 292.1,2680.55 306.92,2678.32 321.74,2675.82 336.56,2672.45 351.38,2668.68 366.2,2664.75 381.02,2660.57 395.84,2656.16 410.66,2651.5 425.48,2646.66 440.3,2641.39 455.12,2635.47 469.94,2629.25 484.76,2622.88 499.58,2616.28 514.4,2609.4 529.22,2602.34 544.04,2595.27 558.86,2588.35 573.68,2581.64 588.5,2575 603.32,2568.3 618.14,2561.39 632.96,2554.4 647.78,2547.29 662.6,2539.85 677.42,2531.87 692.24,2523.27 707.06,2514.11 721.88,2504.47 736.7,2494.39 751.52,2483.71 766.34,2472.45 781.16,2460.77 795.98,2448.83 810.8,2436.1 825.62,2422.69 840.44,2409.7 855.26,2398.2 870.08,2388.33 884.9,2379.27 899.72,2370.26 914.54,2360.56 929.36,2350.13 944.18,2339.33 959,2328.35 973.82,2317.36 988.64,2306.27 1003.46,2295.06 1018.28,2283.85 1033.1,2272.76 1047.92,2261.76 1062.74,2250.82 1077.56,2239.94"/>
<path stroke="none" d="M255.66 2683.57a6.8 6.8 0 1 0 13.6 0a6.8 6.8 0 1 0 -13.6 0zM270.48 2682.35a6.8 6.8 0 1 0 13.6 0a6.8 6.8 0 1 0 -13.6 0zM285.3 2680.55a6.8 6.8 0 1 0 13.6 0a6.8 6.8 0 1 0 -13.6 0zM300.12 2678.32a6.8 6.8 0 1 0 13.6 0a6.8 6.8 0 1 0 -13.6 0zM314.94 2675.82a6.8 6.8 0 1 0 13.6 0a6.8 6.8 0 1 0 -13.6 0zM329.76 2672.45a6.8 6.8 0 1 0 13.6 0a6.8 6.8 0 1 0 -13.6 0zM344.58 2668.68a6.8 6.8 0 1 0 13.6 0a6.8 6.8 0 1 0 -13.6 0zM359.4 2664.75a6.8 6.8 0 1 0 13.6 0a6.8 6.8 0 1 0 -13.6 0zM374.22 2660.57a6.8 6.8 0 1 0 13.6 0a6.8 6.8 0 1 0 -13.6 0zM389.04 2656.16a6.8 6.8 0 1 0 13.6 0a6.8 6.8 0 1 0 -13.6 0zM403.86 2651.5a6.8 6.8 0 1 0 13.6 0a6.8 6.8 0 1 0 -13.6 0zM418.68 2646.66a6.8 6.8 0 1 0 13.6 0a6.8 6.8 0 1 0 -13.6 0zM433.5 2641.39a6.8 6.8 0 1 0 13.6 0a6.8 6.8 0 1 0 -13.6 0zM448.32 2635.47a6.8 6.8 0 1 0 13.6 0a6.8 6.8 0 1 0 -13.6 0zM463.14 2629.25a6.8 6.8 0 1 0 13.6 0a6.8 6.8 0 1 0 -13.6 0zM477.96 2622.88a6.8 6.8 0 1 0 13.6 0a6.8 6.8 0 1 0 -13.6 0zM492.78 2616.28a6.8 6.8 0 1 0 13.6 0a6.8 6.8 0 1 0 -13.6 0zM507.6 2609.4a6.8 6.8 0 1 0 13.6 0a6.8 6.8 0 1 0 -13.6 0zM522.42 2602.34a6.8 6.8 0 1 0 13.6 0a6.8 6.8 0 1 0 -13.6 0zM537.24 2595.27a6.8 6.8 0 1 0 13.6 0a6.8 6.8 0 1 0 -13.6 0zM552.06 2588.35a6.8 6.8 0 1 0 13.6 0a6.8 6.8 0 1 0 -13.6 0zM566.88 2581.64a6.8 6.8 0 1 0 13.6 0a6.8 6.8 0 1 0 -13.6 0zM581.7 2575a6.8 6.8 0 1 0 13.6 0a6.8 6.8 0 1 0 -13.6 0zM596.52 2568.3a6.8 6.8 0 1 0 13.6 0a6.8 6.8 0 1 0 -13.6 0zM611.34 2561.39a6.8 6.8 0 1 0 13.6 0a6.8 6.8 0 1 0 -13.6 0zM626.16 2554.4a6.8 6.8 0 1 0 13.6 0a6.8 6.8 0 1 0 -13.6 0zM640.98 2547.29a6.8 6.8 0 1 0 13.6 0a6.8 6.8 0 1 0 -13.6 0zM655.8 2539.85a6.8 6.8 0 1 0 13.6 0a6.8 6.8 0 1 0 -13.6 0zM670.62 2531.87a6.8 6.8 0 1 0 13.6 0a6.8 6.8 0 1 0 -13.6 0zM685.44 2523.27a6.8 6.8 0 1 0 13.6 0a6.8 6.8 0 1 0 -13.6 0zM700.26 2514.11a6.8 6.8 0 1 0 13.6 0a6.8 6.8 0 1 0 -13.6 0zM715.08 2504.47a6.8 6.8 0 1 0 13.6 0a6.8 6.8 0 1 0 -13.6 0zM729.9 2494.39a6.8 6.8 0 1 0 13.6 0a6.8 6.8 0 1 0 -13.6 0zM744.72 2483.71a6.8 6.8 0 1 0 13.6 0a6.8 6.8 0 1 0 -13.6 0zM759.54 2472.45a6.8 6.8 0 1 0 13.6 0a6.8 6.8 0 1 0 -13.6 0zM774.36 2460.77a6.8 6.8 0 1 0 13.6 0a6.8 6.8 0 1 0 -13.6 0zM789.18 2448.83a6.8 6.8 0 1 0 13.6 0a6.8 6.8 0 1 0 -13.6 0zM804 2436.1a6.8 6.8 0 1 0 13.6 0a6.8 6.8 0 1 0 -13.6 0zM818.82 2422.69a6.8 6.8 0 1 0 13.6 0a6.8 6.8 0 1 0 -13.6 0zM833.64 2409.7a6.8 6.8 0 1 0 13.6 0a6.8 6.8 0 1 0 -13.6 0zM848.46 2398.2a6.8 6.8 0 1 0 13.6 0a6.8 6.8 0 1 0 -13.6 0zM863.28 2388.33a6.8 6.8 0 1 0 13.6 0a6.8 6.8 0 1 0 -13.6 0zM878.1 2379.27a6.8 6.8 0 1 0 13.6 0a6.8 6.8 0 1 0 -13.6 0zM892.92 2370.26a6.8 6.8 0 1 0 13.6 0a6.8 6.8 0 1 0 -13.6 0zM907.74 2360.56a6.8 6.8 0 1 0 13.6 0a6.8 6.8 0 1 0 -13.6 0zM922.56 2350.13a6.8 6.8 0 1 0 13.6 0a6.8 6.8 0 1 0 -13.6 0zM937.38 2339.33a6.8 6.8 0 1 0 13.6 0a6.8 6.8 0 1 0 -13.6 0zM952.2 2328.35a6.8 6.8 0 1 0 13.6 0a6.8 6.8 0 1 0 -13.6 0zM967.02 2317.36a6.8 6.8 0 1 0 13.6 0a6.8 6.8 0 1 0 -13.6 0zM981.84 2306.27a6.8 6.8 0 1 0 13.6 0a6.8 6.8 0 1 0 -13.6 0zM996.66 2295.06a6.8 6.8 0 1 0 13.6 0a6.8 6.8 0 1 0 -13.6 0zM1011.48 2283.85a6.8 6.8 0 1 0 13.6 0a6.8 6.8 0 1 0 -13.6 0zM1026.3 2272.76a6.8 6.8 0 1 0 13.6 0a6.8 6.8 0 1 0 -13.6 0zM1041.12 2261.76a6.8 6.8 0 1 0 13.6 0a6.8 6.8 0 1 0 -13.6 0zM1055.94 2250.82a6.8 6.8 0 1 0 13.6 0a6.8 6.8 0 1 0 -13.6 0zM1070.76 2239.94a6.8 6.8 0 1 0 13.6 0a6.8 6.8 0 1 0 -13.6 0z"/>
</g>
<text x="232.5" y="2696.88" font-size="31.5" text-anchor="end">0</text>
<text x="232.5" y="2599.31" font-size="31.5" text-anchor="end">1000</text>
<text x="232.5" y="2501.74" font-size="31.5" text-anchor="end">2000</text>
<text x="232.5" y="2404.18" font-size="31.5" text-anchor="end">3000</text>
<text x="232.5" y="2306.61" font-size="31.5" text-anchor="end">4000</text>
<text x="232.5" y="2209.04" font-size="31.5" text-anchor="end">5000</text>
<text x="232.5" y="2111.48" font-size="31.5" text-anchor="end">6000</text>
<text x="259.5" y="2732.6" font-size="31.5" text-anchor="middle">0</text>
<text x="318.78" y="2732.6" font-size="31.5" text-anchor="middle">60</text>
<text x="378.06" y="2732.6" font-size="31.5" text-anchor="middle">120</text>
<text x="437.34" y="2732.6" font-size="31.5" text-anchor="middle">180</text>
<text x="496.62" y="2732.6" font-size="31.5" text-anchor="middle">240</text>
<text x="555.9" y="2732.6" font-size="31.5" text-anchor="middle">300</text>
<text x="615.18" y="2732.6" font-size="31.5" text-anchor="middle">360</text>
<text x="674.46" y="2732.6" font-size="31.5" text-anchor="middle">420</text>
<text x="733.74" y="2732.6" font-size="31.5" text-anchor="middle">480</text>
<text x="793.02" y="2732.6" font-size="31.5" text-anchor="middle">540</text>
<text x="852.3" y="2732.6" font-size="31.5" text-anchor="middle">600</text>
<text x="911.58" y="2732.6" font-size="31.5" text-anchor="middle">660</text>
<text x="970.86" y="2732.6" font-size="31.5" text-anchor="middle">720</text>
<text x="1030.14" y="2732.6" font-size="31.5" text-anchor="middle">780</text>
<text x="1089.42" y="2732.6" font-size="31.5" text-anchor="middle">840</text>
<path d="M259.5 2099.7V2687.9M249.5 2686.5H1100M249.5 2588.93H259.5M249.5 2491.37H259.5M249.5 2393.8H259.5M249.5 2296.23H259.5M249.5 2198.67H259.5M249.5 2101.1H259.5M259.5 2686.5V2695.5M318.78 2686.5V2695.5M378.06 2686.5V2695.5M437.34 2686.5V2695.5M496.62 2686.5V2695.5M555.9 2686.5V2695.5M615.18 2686.5V2695.5M674.46 2686.5V2695.5M733.74 2686.5V2695.5M793.02 2686.5V2695.5M852.3 2686.5V2695.5M911.58 2686.5V2695.5M970.86 2686.5V2695.5M1030.14 2686.5V2695.5M1089.42 2686.5V2695.5" stroke="#000" stroke-width="2.8" fill="none"/>
<path d="M303.7 2152.6H352.8" stroke="#5B9BD5" stroke-width="12.6" stroke-linecap="round" fill="none"/>
<circle cx="328.25" cy="2152.6" r="11.6" fill="#5B9BD5"/>
<text x="381.4" y="2164.8" font-size="31">Cell 1</text>
<path d="M303.7 2202.52H352.8" stroke="#ED7D31" stroke-width="12.6" stroke-linecap="round" fill="none"/>
<circle cx="328.25" cy="2202.52" r="11.6" fill="#ED7D31"/>
<text x="381.4" y="2214.72" font-size="31">Cell 2</text>
<path d="M303.7 2252.44H352.8" stroke="#A5A5A5" stroke-width="12.6" stroke-linecap="round" fill="none"/>
<circle cx="328.25" cy="2252.44" r="11.6" fill="#A5A5A5"/>
<text x="381.4" y="2264.64" font-size="31">Cell 3</text>
<path d="M303.7 2302.36H352.8" stroke="#FFC000" stroke-width="12.6" stroke-linecap="round" fill="none"/>
<circle cx="328.25" cy="2302.36" r="11.6" fill="#FFC000"/>
<text x="381.4" y="2314.56" font-size="31">Cell 4</text>
<path d="M303.7 2352.28H352.8" stroke="#4472C4" stroke-width="12.6" stroke-linecap="round" fill="none"/>
<circle cx="328.25" cy="2352.28" r="11.6" fill="#4472C4"/>
<text x="381.4" y="2364.48" font-size="31">Cell 5</text>
<path d="M303.7 2402.2H352.8" stroke="#70AD47" stroke-width="12.6" stroke-linecap="round" fill="none"/>
<circle cx="328.25" cy="2402.2" r="11.6" fill="#70AD47"/>
<text x="381.4" y="2414.4" font-size="31">Cell 6</text>
<text x="688.6" y="2789.8" font-size="39.4" text-anchor="middle">Time <tspan dx="8.2">(min)</tspan></text>
<text x="134.6" y="2367.6" font-size="39.4" text-anchor="middle" transform="rotate(-90 134.6 2367.6)">Integral <tspan dx="8.2">of</tspan> <tspan dx="8.2">intensity</tspan></text>
<g fill="#5B9BD5" stroke="#5B9BD5">
<polyline fill="none" stroke-width="6.2" stroke-linejoin="round" stroke-linecap="round" points="1432.59,2680.22 1455.53,2678.72 1478.48,2674.79 1501.42,2669.26 1524.36,2662.87 1547.31,2652.72 1570.25,2639.67 1593.2,2623.16 1616.14,2605.11 1639.08,2586.57 1662.03,2566.84 1684.97,2545.35 1707.92,2523.93 1730.86,2503.57 1753.8,2482.61 1776.75,2459.97 1799.69,2438.07 1822.64,2417.11 1845.58,2396.75 1868.52,2377.6 1891.47,2360.23 1914.41,2344.8 1937.36,2330.58 1960.3,2316.7 1983.24,2302.32 2006.19,2287.18 2029.13,2271.89 2052.08,2257.14 2075.02,2243.57 2097.96,2231.16 2120.91,2219.47 2143.85,2208.16 2166.8,2196.91 2189.74,2186.31 2212.68,2176.06 2235.63,2165.34 2258.57,2153.31"/>
<path stroke="none" d="M1425.79 2680.22a6.8 6.8 0 1 0 13.6 0a6.8 6.8 0 1 0 -13.6 0zM1448.73 2678.72a6.8 6.8 0 1 0 13.6 0a6.8 6.8 0 1 0 -13.6 0zM1471.68 2674.79a6.8 6.8 0 1 0 13.6 0a6.8 6.8 0 1 0 -13.6 0zM1494.62 2669.26a6.8 6.8 0 1 0 13.6 0a6.8 6.8 0 1 0 -13.6 0zM1517.56 2662.87a6.8 6.8 0 1 0 13.6 0a6.8 6.8 0 1 0 -13.6 0zM1540.51 2652.72a6.8 6.8 0 1 0 13.6 0a6.8 6.8 0 1 0 -13.6 0zM1563.45 2639.67a6.8 6.8 0 1 0 13.6 0a6.8 6.8 0 1 0 -13.6 0zM1586.4 2623.16a6.8 6.8 0 1 0 13.6 0a6.8 6.8 0 1 0 -13.6 0zM1609.34 2605.11a6.8 6.8 0 1 0 13.6 0a6.8 6.8 0 1 0 -13.6 0zM1632.28 2586.57a6.8 6.8 0 1 0 13.6 0a6.8 6.8 0 1 0 -13.6 0zM1655.23 2566.84a6.8 6.8 0 1 0 13.6 0a6.8 6.8 0 1 0 -13.6 0zM1678.17 2545.35a6.8 6.8 0 1 0 13.6 0a6.8 6.8 0 1 0 -13.6 0zM1701.12 2523.93a6.8 6.8 0 1 0 13.6 0a6.8 6.8 0 1 0 -13.6 0zM1724.06 2503.57a6.8 6.8 0 1 0 13.6 0a6.8 6.8 0 1 0 -13.6 0zM1747 2482.61a6.8 6.8 0 1 0 13.6 0a6.8 6.8 0 1 0 -13.6 0zM1769.95 2459.97a6.8 6.8 0 1 0 13.6 0a6.8 6.8 0 1 0 -13.6 0zM1792.89 2438.07a6.8 6.8 0 1 0 13.6 0a6.8 6.8 0 1 0 -13.6 0zM1815.84 2417.11a6.8 6.8 0 1 0 13.6 0a6.8 6.8 0 1 0 -13.6 0zM1838.78 2396.75a6.8 6.8 0 1 0 13.6 0a6.8 6.8 0 1 0 -13.6 0zM1861.72 2377.6a6.8 6.8 0 1 0 13.6 0a6.8 6.8 0 1 0 -13.6 0zM1884.67 2360.23a6.8 6.8 0 1 0 13.6 0a6.8 6.8 0 1 0 -13.6 0zM1907.61 2344.8a6.8 6.8 0 1 0 13.6 0a6.8 6.8 0 1 0 -13.6 0zM1930.56 2330.58a6.8 6.8 0 1 0 13.6 0a6.8 6.8 0 1 0 -13.6 0zM1953.5 2316.7a6.8 6.8 0 1 0 13.6 0a6.8 6.8 0 1 0 -13.6 0zM1976.44 2302.32a6.8 6.8 0 1 0 13.6 0a6.8 6.8 0 1 0 -13.6 0zM1999.39 2287.18a6.8 6.8 0 1 0 13.6 0a6.8 6.8 0 1 0 -13.6 0zM2022.33 2271.89a6.8 6.8 0 1 0 13.6 0a6.8 6.8 0 1 0 -13.6 0zM2045.28 2257.14a6.8 6.8 0 1 0 13.6 0a6.8 6.8 0 1 0 -13.6 0zM2068.22 2243.57a6.8 6.8 0 1 0 13.6 0a6.8 6.8 0 1 0 -13.6 0zM2091.16 2231.16a6.8 6.8 0 1 0 13.6 0a6.8 6.8 0 1 0 -13.6 0zM2114.11 2219.47a6.8 6.8 0 1 0 13.6 0a6.8 6.8 0 1 0 -13.6 0zM2137.05 2208.16a6.8 6.8 0 1 0 13.6 0a6.8 6.8 0 1 0 -13.6 0zM2160 2196.91a6.8 6.8 0 1 0 13.6 0a6.8 6.8 0 1 0 -13.6 0zM2182.94 2186.31a6.8 6.8 0 1 0 13.6 0a6.8 6.8 0 1 0 -13.6 0zM2205.88 2176.06a6.8 6.8 0 1 0 13.6 0a6.8 6.8 0 1 0 -13.6 0zM2228.83 2165.34a6.8 6.8 0 1 0 13.6 0a6.8 6.8 0 1 0 -13.6 0zM2251.77 2153.31a6.8 6.8 0 1 0 13.6 0a6.8 6.8 0 1 0 -13.6 0z"/>
</g>
<g fill="#ED7D31" stroke="#ED7D31">
<polyline fill="none" stroke-width="6.2" stroke-linejoin="round" stroke-linecap="round" points="1432.59,2680.22 1455.53,2678.5 1478.48,2674.55 1501.42,2669.13 1524.36,2662.93 1547.31,2653.66 1570.25,2641.44 1593.2,2624.72 1616.14,2606.97 1639.08,2589.97 1662.03,2572.51 1684.97,2553.3 1707.92,2537.4 1730.86,2526.73 1753.8,2515.14 1776.75,2499.3 1799.69,2484.24 1822.64,2471.47 1845.58,2459.61 1868.52,2448.15 1891.47,2436.61 1914.41,2425.4 1937.36,2414.42 1960.3,2403.1 1983.24,2390.88 2006.19,2377.38 2029.13,2363.06 2052.08,2348.53 2075.02,2334.39 2097.96,2320.35 2120.91,2306.35 2143.85,2292.71 2166.8,2279.75 2189.74,2267.71 2212.68,2256.2 2235.63,2244.67 2258.57,2232.56"/>
<path stroke="none" d="M1425.79 2680.22a6.8 6.8 0 1 0 13.6 0a6.8 6.8 0 1 0 -13.6 0zM1448.73 2678.5a6.8 6.8 0 1 0 13.6 0a6.8 6.8 0 1 0 -13.6 0zM1471.68 2674.55a6.8 6.8 0 1 0 13.6 0a6.8 6.8 0 1 0 -13.6 0zM1494.62 2669.13a6.8 6.8 0 1 0 13.6 0a6.8 6.8 0 1 0 -13.6 0zM1517.56 2662.93a6.8 6.8 0 1 0 13.6 0a6.8 6.8 0 1 0 -13.6 0zM1540.51 2653.66a6.8 6.8 0 1 0 13.6 0a6.8 6.8 0 1 0 -13.6 0zM1563.45 2641.44a6.8 6.8 0 1 0 13.6 0a6.8 6.8 0 1 0 -13.6 0zM1586.4 2624.72a6.8 6.8 0 1 0 13.6 0a6.8 6.8 0 1 0 -13.6 0zM1609.34 2606.97a6.8 6.8 0 1 0 13.6 0a6.8 6.8 0 1 0 -13.6 0zM1632.28 2589.97a6.8 6.8 0 1 0 13.6 0a6.8 6.8 0 1 0 -13.6 0zM1655.23 2572.51a6.8 6.8 0 1 0 13.6 0a6.8 6.8 0 1 0 -13.6 0zM1678.17 2553.3a6.8 6.8 0 1 0 13.6 0a6.8 6.8 0 1 0 -13.6 0zM1701.12 2537.4a6.8 6.8 0 1 0 13.6 0a6.8 6.8 0 1 0 -13.6 0zM1724.06 2526.73a6.8 6.8 0 1 0 13.6 0a6.8 6.8 0 1 0 -13.6 0zM1747 2515.14a6.8 6.8 0 1 0 13.6 0a6.8 6.8 0 1 0 -13.6 0zM1769.95 2499.3a6.8 6.8 0 1 0 13.6 0a6.8 6.8 0 1 0 -13.6 0zM1792.89 2484.24a6.8 6.8 0 1 0 13.6 0a6.8 6.8 0 1 0 -13.6 0zM1815.84 2471.47a6.8 6.8 0 1 0 13.6 0a6.8 6.8 0 1 0 -13.6 0zM1838.78 2459.61a6.8 6.8 0 1 0 13.6 0a6.8 6.8 0 1 0 -13.6 0zM1861.72 2448.15a6.8 6.8 0 1 0 13.6 0a6.8 6.8 0 1 0 -13.6 0zM1884.67 2436.61a6.8 6.8 0 1 0 13.6 0a6.8 6.8 0 1 0 -13.6 0zM1907.61 2425.4a6.8 6.8 0 1 0 13.6 0a6.8 6.8 0 1 0 -13.6 0zM1930.56 2414.42a6.8 6.8 0 1 0 13.6 0a6.8 6.8 0 1 0 -13.6 0zM1953.5 2403.1a6.8 6.8 0 1 0 13.6 0a6.8 6.8 0 1 0 -13.6 0zM1976.44 2390.88a6.8 6.8 0 1 0 13.6 0a6.8 6.8 0 1 0 -13.6 0zM1999.39 2377.38a6.8 6.8 0 1 0 13.6 0a6.8 6.8 0 1 0 -13.6 0zM2022.33 2363.06a6.8 6.8 0 1 0 13.6 0a6.8 6.8 0 1 0 -13.6 0zM2045.28 2348.53a6.8 6.8 0 1 0 13.6 0a6.8 6.8 0 1 0 -13.6 0zM2068.22 2334.39a6.8 6.8 0 1 0 13.6 0a6.8 6.8 0 1 0 -13.6 0zM2091.16 2320.35a6.8 6.8 0 1 0 13.6 0a6.8 6.8 0 1 0 -13.6 0zM2114.11 2306.35a6.8 6.8 0 1 0 13.6 0a6.8 6.8 0 1 0 -13.6 0zM2137.05 2292.71a6.8 6.8 0 1 0 13.6 0a6.8 6.8 0 1 0 -13.6 0zM2160 2279.75a6.8 6.8 0 1 0 13.6 0a6.8 6.8 0 1 0 -13.6 0zM2182.94 2267.71a6.8 6.8 0 1 0 13.6 0a6.8 6.8 0 1 0 -13.6 0zM2205.88 2256.2a6.8 6.8 0 1 0 13.6 0a6.8 6.8 0 1 0 -13.6 0zM2228.83 2244.67a6.8 6.8 0 1 0 13.6 0a6.8 6.8 0 1 0 -13.6 0zM2251.77 2232.56a6.8 6.8 0 1 0 13.6 0a6.8 6.8 0 1 0 -13.6 0z"/>
</g>
<g fill="#A5A5A5" stroke="#A5A5A5">
<polyline fill="none" stroke-width="6.2" stroke-linejoin="round" stroke-linecap="round" points="1432.59,2680.22 1455.53,2678.71 1478.48,2675.58 1501.42,2671.39 1524.36,2666.57 1547.31,2659.18 1570.25,2650.94 1593.2,2642.97 1616.14,2634.19 1639.08,2624 1662.03,2613.51 1684.97,2603.05 1707.92,2592.96 1730.86,2583.43 1753.8,2574.35 1776.75,2565.87 1799.69,2557.2 1822.64,2548.15 1845.58,2538.86 1868.52,2529.22 1891.47,2519.14 1914.41,2508.16 1937.36,2496.64 1960.3,2485.26 1983.24,2474.69 2006.19,2465.23 2029.13,2456.25 2052.08,2447.01 2075.02,2436.77 2097.96,2425.4 2120.91,2413.21 2143.85,2400.42 2166.8,2387.24 2189.74,2373.76 2212.68,2359.76 2235.63,2345.01 2258.57,2329.28"/>
<path stroke="none" d="M1425.79 2680.22a6.8 6.8 0 1 0 13.6 0a6.8 6.8 0 1 0 -13.6 0zM1448.73 2678.71a6.8 6.8 0 1 0 13.6 0a6.8 6.8 0 1 0 -13.6 0zM1471.68 2675.58a6.8 6.8 0 1 0 13.6 0a6.8 6.8 0 1 0 -13.6 0zM1494.62 2671.39a6.8 6.8 0 1 0 13.6 0a6.8 6.8 0 1 0 -13.6 0zM1517.56 2666.57a6.8 6.8 0 1 0 13.6 0a6.8 6.8 0 1 0 -13.6 0zM1540.51 2659.18a6.8 6.8 0 1 0 13.6 0a6.8 6.8 0 1 0 -13.6 0zM1563.45 2650.94a6.8 6.8 0 1 0 13.6 0a6.8 6.8 0 1 0 -13.6 0zM1586.4 2642.97a6.8 6.8 0 1 0 13.6 0a6.8 6.8 0 1 0 -13.6 0zM1609.34 2634.19a6.8 6.8 0 1 0 13.6 0a6.8 6.8 0 1 0 -13.6 0zM1632.28 2624a6.8 6.8 0 1 0 13.6 0a6.8 6.8 0 1 0 -13.6 0zM1655.23 2613.51a6.8 6.8 0 1 0 13.6 0a6.8 6.8 0 1 0 -13.6 0zM1678.17 2603.05a6.8 6.8 0 1 0 13.6 0a6.8 6.8 0 1 0 -13.6 0zM1701.12 2592.96a6.8 6.8 0 1 0 13.6 0a6.8 6.8 0 1 0 -13.6 0zM1724.06 2583.43a6.8 6.8 0 1 0 13.6 0a6.8 6.8 0 1 0 -13.6 0zM1747 2574.35a6.8 6.8 0 1 0 13.6 0a6.8 6.8 0 1 0 -13.6 0zM1769.95 2565.87a6.8 6.8 0 1 0 13.6 0a6.8 6.8 0 1 0 -13.6 0zM1792.89 2557.2a6.8 6.8 0 1 0 13.6 0a6.8 6.8 0 1 0 -13.6 0zM1815.84 2548.15a6.8 6.8 0 1 0 13.6 0a6.8 6.8 0 1 0 -13.6 0zM1838.78 2538.86a6.8 6.8 0 1 0 13.6 0a6.8 6.8 0 1 0 -13.6 0zM1861.72 2529.22a6.8 6.8 0 1 0 13.6 0a6.8 6.8 0 1 0 -13.6 0zM1884.67 2519.14a6.8 6.8 0 1 0 13.6 0a6.8 6.8 0 1 0 -13.6 0zM1907.61 2508.16a6.8 6.8 0 1 0 13.6 0a6.8 6.8 0 1 0 -13.6 0zM1930.56 2496.64a6.8 6.8 0 1 0 13.6 0a6.8 6.8 0 1 0 -13.6 0zM1953.5 2485.26a6.8 6.8 0 1 0 13.6 0a6.8 6.8 0 1 0 -13.6 0zM1976.44 2474.69a6.8 6.8 0 1 0 13.6 0a6.8 6.8 0 1 0 -13.6 0zM1999.39 2465.23a6.8 6.8 0 1 0 13.6 0a6.8 6.8 0 1 0 -13.6 0zM2022.33 2456.25a6.8 6.8 0 1 0 13.6 0a6.8 6.8 0 1 0 -13.6 0zM2045.28 2447.01a6.8 6.8 0 1 0 13.6 0a6.8 6.8 0 1 0 -13.6 0zM2068.22 2436.77a6.8 6.8 0 1 0 13.6 0a6.8 6.8 0 1 0 -13.6 0zM2091.16 2425.4a6.8 6.8 0 1 0 13.6 0a6.8 6.8 0 1 0 -13.6 0zM2114.11 2413.21a6.8 6.8 0 1 0 13.6 0a6.8 6.8 0 1 0 -13.6 0zM2137.05 2400.42a6.8 6.8 0 1 0 13.6 0a6.8 6.8 0 1 0 -13.6 0zM2160 2387.24a6.8 6.8 0 1 0 13.6 0a6.8 6.8 0 1 0 -13.6 0zM2182.94 2373.76a6.8 6.8 0 1 0 13.6 0a6.8 6.8 0 1 0 -13.6 0zM2205.88 2359.76a6.8 6.8 0 1 0 13.6 0a6.8 6.8 0 1 0 -13.6 0zM2228.83 2345.01a6.8 6.8 0 1 0 13.6 0a6.8 6.8 0 1 0 -13.6 0zM2251.77 2329.28a6.8 6.8 0 1 0 13.6 0a6.8 6.8 0 1 0 -13.6 0z"/>
</g>
<g fill="#FFC000" stroke="#FFC000">
<polyline fill="none" stroke-width="6.2" stroke-linejoin="round" stroke-linecap="round" points="1432.59,2681.9 1455.53,2680.52 1478.48,2677.61 1501.42,2673.68 1524.36,2669.18 1547.31,2662.65 1570.25,2653.97 1593.2,2642.17 1616.14,2627.82 1639.08,2610.46 1662.03,2590.88 1684.97,2569.1 1707.92,2545.62 1730.86,2520.3 1753.8,2494.61 1776.75,2468.71 1799.69,2444.62 1822.64,2422.9 1845.58,2402.45 1868.52,2382.66 1891.47,2362.91 1914.41,2342.69 1937.36,2322.68 1960.3,2303.92 1983.24,2287.38 2006.19,2272.4 2029.13,2258.59 2052.08,2246.18 2075.02,2235.42 2097.96,2226.15 2120.91,2217.9 2143.85,2210.22 2166.8,2202.69 2189.74,2195.79 2212.68,2189.31 2235.63,2182.59 2258.57,2174.97"/>
<path stroke="none" d="M1425.79 2681.9a6.8 6.8 0 1 0 13.6 0a6.8 6.8 0 1 0 -13.6 0zM1448.73 2680.52a6.8 6.8 0 1 0 13.6 0a6.8 6.8 0 1 0 -13.6 0zM1471.68 2677.61a6.8 6.8 0 1 0 13.6 0a6.8 6.8 0 1 0 -13.6 0zM1494.62 2673.68a6.8 6.8 0 1 0 13.6 0a6.8 6.8 0 1 0 -13.6 0zM1517.56 2669.18a6.8 6.8 0 1 0 13.6 0a6.8 6.8 0 1 0 -13.6 0zM1540.51 2662.65a6.8 6.8 0 1 0 13.6 0a6.8 6.8 0 1 0 -13.6 0zM1563.45 2653.97a6.8 6.8 0 1 0 13.6 0a6.8 6.8 0 1 0 -13.6 0zM1586.4 2642.17a6.8 6.8 0 1 0 13.6 0a6.8 6.8 0 1 0 -13.6 0zM1609.34 2627.82a6.8 6.8 0 1 0 13.6 0a6.8 6.8 0 1 0 -13.6 0zM1632.28 2610.46a6.8 6.8 0 1 0 13.6 0a6.8 6.8 0 1 0 -13.6 0zM1655.23 2590.88a6.8 6.8 0 1 0 13.6 0a6.8 6.8 0 1 0 -13.6 0zM1678.17 2569.1a6.8 6.8 0 1 0 13.6 0a6.8 6.8 0 1 0 -13.6 0zM1701.12 2545.62a6.8 6.8 0 1 0 13.6 0a6.8 6.8 0 1 0 -13.6 0zM1724.06 2520.3a6.8 6.8 0 1 0 13.6 0a6.8 6.8 0 1 0 -13.6 0zM1747 2494.61a6.8 6.8 0 1 0 13.6 0a6.8 6.8 0 1 0 -13.6 0zM1769.95 2468.71a6.8 6.8 0 1 0 13.6 0a6.8 6.8 0 1 0 -13.6 0zM1792.89 2444.62a6.8 6.8 0 1 0 13.6 0a6.8 6.8 0 1 0 -13.6 0zM1815.84 2422.9a6.8 6.8 0 1 0 13.6 0a6.8 6.8 0 1 0 -13.6 0zM1838.78 2402.45a6.8 6.8 0 1 0 13.6 0a6.8 6.8 0 1 0 -13.6 0zM1861.72 2382.66a6.8 6.8 0 1 0 13.6 0a6.8 6.8 0 1 0 -13.6 0zM1884.67 2362.91a6.8 6.8 0 1 0 13.6 0a6.8 6.8 0 1 0 -13.6 0zM1907.61 2342.69a6.8 6.8 0 1 0 13.6 0a6.8 6.8 0 1 0 -13.6 0zM1930.56 2322.68a6.8 6.8 0 1 0 13.6 0a6.8 6.8 0 1 0 -13.6 0zM1953.5 2303.92a6.8 6.8 0 1 0 13.6 0a6.8 6.8 0 1 0 -13.6 0zM1976.44 2287.38a6.8 6.8 0 1 0 13.6 0a6.8 6.8 0 1 0 -13.6 0zM1999.39 2272.4a6.8 6.8 0 1 0 13.6 0a6.8 6.8 0 1 0 -13.6 0zM2022.33 2258.59a6.8 6.8 0 1 0 13.6 0a6.8 6.8 0 1 0 -13.6 0zM2045.28 2246.18a6.8 6.8 0 1 0 13.6 0a6.8 6.8 0 1 0 -13.6 0zM2068.22 2235.42a6.8 6.8 0 1 0 13.6 0a6.8 6.8 0 1 0 -13.6 0zM2091.16 2226.15a6.8 6.8 0 1 0 13.6 0a6.8 6.8 0 1 0 -13.6 0zM2114.11 2217.9a6.8 6.8 0 1 0 13.6 0a6.8 6.8 0 1 0 -13.6 0zM2137.05 2210.22a6.8 6.8 0 1 0 13.6 0a6.8 6.8 0 1 0 -13.6 0zM2160 2202.69a6.8 6.8 0 1 0 13.6 0a6.8 6.8 0 1 0 -13.6 0zM2182.94 2195.79a6.8 6.8 0 1 0 13.6 0a6.8 6.8 0 1 0 -13.6 0zM2205.88 2189.31a6.8 6.8 0 1 0 13.6 0a6.8 6.8 0 1 0 -13.6 0zM2228.83 2182.59a6.8 6.8 0 1 0 13.6 0a6.8 6.8 0 1 0 -13.6 0zM2251.77 2174.97a6.8 6.8 0 1 0 13.6 0a6.8 6.8 0 1 0 -13.6 0z"/>
</g>
<g fill="#4472C4" stroke="#4472C4">
<polyline fill="none" stroke-width="6.2" stroke-linejoin="round" stroke-linecap="round" points="1432.59,2680.22 1455.53,2678.8 1478.48,2675.06 1501.42,2669.83 1524.36,2663.8 1547.31,2654.38 1570.25,2641.9 1593.2,2624.9 1616.14,2606.95 1639.08,2589.95 1662.03,2572.58 1684.97,2554.53 1707.92,2536.43 1730.86,2518.69 1753.8,2500.27 1776.75,2480.35 1799.69,2460.85 1822.64,2442.3 1845.58,2424.23 1868.52,2406.53 1891.47,2389.14 1914.41,2372.37 1937.36,2356 1960.3,2339.46 1983.24,2322.23 2006.19,2304.03 2029.13,2285.3 2052.08,2266.6 2075.02,2248.49 2097.96,2231.22 2120.91,2214.29 2143.85,2197.14 2166.8,2179.19 2189.74,2160.5 2212.68,2141.26 2235.63,2121.5 2258.57,2101.25"/>
<path stroke="none" d="M1425.79 2680.22a6.8 6.8 0 1 0 13.6 0a6.8 6.8 0 1 0 -13.6 0zM1448.73 2678.8a6.8 6.8 0 1 0 13.6 0a6.8 6.8 0 1 0 -13.6 0zM1471.68 2675.06a6.8 6.8 0 1 0 13.6 0a6.8 6.8 0 1 0 -13.6 0zM1494.62 2669.83a6.8 6.8 0 1 0 13.6 0a6.8 6.8 0 1 0 -13.6 0zM1517.56 2663.8a6.8 6.8 0 1 0 13.6 0a6.8 6.8 0 1 0 -13.6 0zM1540.51 2654.38a6.8 6.8 0 1 0 13.6 0a6.8 6.8 0 1 0 -13.6 0zM1563.45 2641.9a6.8 6.8 0 1 0 13.6 0a6.8 6.8 0 1 0 -13.6 0zM1586.4 2624.9a6.8 6.8 0 1 0 13.6 0a6.8 6.8 0 1 0 -13.6 0zM1609.34 2606.95a6.8 6.8 0 1 0 13.6 0a6.8 6.8 0 1 0 -13.6 0zM1632.28 2589.95a6.8 6.8 0 1 0 13.6 0a6.8 6.8 0 1 0 -13.6 0zM1655.23 2572.58a6.8 6.8 0 1 0 13.6 0a6.8 6.8 0 1 0 -13.6 0zM1678.17 2554.53a6.8 6.8 0 1 0 13.6 0a6.8 6.8 0 1 0 -13.6 0zM1701.12 2536.43a6.8 6.8 0 1 0 13.6 0a6.8 6.8 0 1 0 -13.6 0zM1724.06 2518.69a6.8 6.8 0 1 0 13.6 0a6.8 6.8 0 1 0 -13.6 0zM1747 2500.27a6.8 6.8 0 1 0 13.6 0a6.8 6.8 0 1 0 -13.6 0zM1769.95 2480.35a6.8 6.8 0 1 0 13.6 0a6.8 6.8 0 1 0 -13.6 0zM1792.89 2460.85a6.8 6.8 0 1 0 13.6 0a6.8 6.8 0 1 0 -13.6 0zM1815.84 2442.3a6.8 6.8 0 1 0 13.6 0a6.8 6.8 0 1 0 -13.6 0zM1838.78 2424.23a6.8 6.8 0 1 0 13.6 0a6.8 6.8 0 1 0 -13.6 0zM1861.72 2406.53a6.8 6.8 0 1 0 13.6 0a6.8 6.8 0 1 0 -13.6 0zM1884.67 2389.14a6.8 6.8 0 1 0 13.6 0a6.8 6.8 0 1 0 -13.6 0zM1907.61 2372.37a6.8 6.8 0 1 0 13.6 0a6.8 6.8 0 1 0 -13.6 0zM1930.56 2356a6.8 6.8 0 1 0 13.6 0a6.8 6.8 0 1 0 -13.6 0zM1953.5 2339.46a6.8 6.8 0 1 0 13.6 0a6.8 6.8 0 1 0 -13.6 0zM1976.44 2322.23a6.8 6.8 0 1 0 13.6 0a6.8 6.8 0 1 0 -13.6 0zM1999.39 2304.03a6.8 6.8 0 1 0 13.6 0a6.8 6.8 0 1 0 -13.6 0zM2022.33 2285.3a6.8 6.8 0 1 0 13.6 0a6.8 6.8 0 1 0 -13.6 0zM2045.28 2266.6a6.8 6.8 0 1 0 13.6 0a6.8 6.8 0 1 0 -13.6 0zM2068.22 2248.49a6.8 6.8 0 1 0 13.6 0a6.8 6.8 0 1 0 -13.6 0zM2091.16 2231.22a6.8 6.8 0 1 0 13.6 0a6.8 6.8 0 1 0 -13.6 0zM2114.11 2214.29a6.8 6.8 0 1 0 13.6 0a6.8 6.8 0 1 0 -13.6 0zM2137.05 2197.14a6.8 6.8 0 1 0 13.6 0a6.8 6.8 0 1 0 -13.6 0zM2160 2179.19a6.8 6.8 0 1 0 13.6 0a6.8 6.8 0 1 0 -13.6 0zM2182.94 2160.5a6.8 6.8 0 1 0 13.6 0a6.8 6.8 0 1 0 -13.6 0zM2205.88 2141.26a6.8 6.8 0 1 0 13.6 0a6.8 6.8 0 1 0 -13.6 0zM2228.83 2121.5a6.8 6.8 0 1 0 13.6 0a6.8 6.8 0 1 0 -13.6 0zM2251.77 2101.25a6.8 6.8 0 1 0 13.6 0a6.8 6.8 0 1 0 -13.6 0z"/>
</g>
<g fill="#70AD47" stroke="#70AD47">
<polyline fill="none" stroke-width="6.2" stroke-linejoin="round" stroke-linecap="round" points="1432.59,2681.06 1455.53,2678.96 1478.48,2675.85 1501.42,2672.03 1524.36,2667.71 1547.31,2661.92 1570.25,2655.43 1593.2,2648.66 1616.14,2641.48 1639.08,2633.88 1662.03,2625.87 1684.97,2617.54 1707.92,2608.47 1730.86,2598.27 1753.8,2587.57 1776.75,2576.61 1799.69,2565.25 1822.64,2553.4 1845.58,2541.26 1868.52,2529.09 1891.47,2517.18 1914.41,2505.63 1937.36,2494.21 1960.3,2482.67 1983.24,2470.77 2006.19,2458.75 2029.13,2446.52 2052.08,2433.71 2075.02,2419.97 2097.96,2405.17 2120.91,2389.42 2143.85,2372.82 2166.8,2355.47 2189.74,2337.09 2212.68,2317.71 2235.63,2297.61 2258.57,2277.06"/>
<path stroke="none" d="M1425.79 2681.06a6.8 6.8 0 1 0 13.6 0a6.8 6.8 0 1 0 -13.6 0zM1448.73 2678.96a6.8 6.8 0 1 0 13.6 0a6.8 6.8 0 1 0 -13.6 0zM1471.68 2675.85a6.8 6.8 0 1 0 13.6 0a6.8 6.8 0 1 0 -13.6 0zM1494.62 2672.03a6.8 6.8 0 1 0 13.6 0a6.8 6.8 0 1 0 -13.6 0zM1517.56 2667.71a6.8 6.8 0 1 0 13.6 0a6.8 6.8 0 1 0 -13.6 0zM1540.51 2661.92a6.8 6.8 0 1 0 13.6 0a6.8 6.8 0 1 0 -13.6 0zM1563.45 2655.43a6.8 6.8 0 1 0 13.6 0a6.8 6.8 0 1 0 -13.6 0zM1586.4 2648.66a6.8 6.8 0 1 0 13.6 0a6.8 6.8 0 1 0 -13.6 0zM1609.34 2641.48a6.8 6.8 0 1 0 13.6 0a6.8 6.8 0 1 0 -13.6 0zM1632.28 2633.88a6.8 6.8 0 1 0 13.6 0a6.8 6.8 0 1 0 -13.6 0zM1655.23 2625.87a6.8 6.8 0 1 0 13.6 0a6.8 6.8 0 1 0 -13.6 0zM1678.17 2617.54a6.8 6.8 0 1 0 13.6 0a6.8 6.8 0 1 0 -13.6 0zM1701.12 2608.47a6.8 6.8 0 1 0 13.6 0a6.8 6.8 0 1 0 -13.6 0zM1724.06 2598.27a6.8 6.8 0 1 0 13.6 0a6.8 6.8 0 1 0 -13.6 0zM1747 2587.57a6.8 6.8 0 1 0 13.6 0a6.8 6.8 0 1 0 -13.6 0zM1769.95 2576.61a6.8 6.8 0 1 0 13.6 0a6.8 6.8 0 1 0 -13.6 0zM1792.89 2565.25a6.8 6.8 0 1 0 13.6 0a6.8 6.8 0 1 0 -13.6 0zM1815.84 2553.4a6.8 6.8 0 1 0 13.6 0a6.8 6.8 0 1 0 -13.6 0zM1838.78 2541.26a6.8 6.8 0 1 0 13.6 0a6.8 6.8 0 1 0 -13.6 0zM1861.72 2529.09a6.8 6.8 0 1 0 13.6 0a6.8 6.8 0 1 0 -13.6 0zM1884.67 2517.18a6.8 6.8 0 1 0 13.6 0a6.8 6.8 0 1 0 -13.6 0zM1907.61 2505.63a6.8 6.8 0 1 0 13.6 0a6.8 6.8 0 1 0 -13.6 0zM1930.56 2494.21a6.8 6.8 0 1 0 13.6 0a6.8 6.8 0 1 0 -13.6 0zM1953.5 2482.67a6.8 6.8 0 1 0 13.6 0a6.8 6.8 0 1 0 -13.6 0zM1976.44 2470.77a6.8 6.8 0 1 0 13.6 0a6.8 6.8 0 1 0 -13.6 0zM1999.39 2458.75a6.8 6.8 0 1 0 13.6 0a6.8 6.8 0 1 0 -13.6 0zM2022.33 2446.52a6.8 6.8 0 1 0 13.6 0a6.8 6.8 0 1 0 -13.6 0zM2045.28 2433.71a6.8 6.8 0 1 0 13.6 0a6.8 6.8 0 1 0 -13.6 0zM2068.22 2419.97a6.8 6.8 0 1 0 13.6 0a6.8 6.8 0 1 0 -13.6 0zM2091.16 2405.17a6.8 6.8 0 1 0 13.6 0a6.8 6.8 0 1 0 -13.6 0zM2114.11 2389.42a6.8 6.8 0 1 0 13.6 0a6.8 6.8 0 1 0 -13.6 0zM2137.05 2372.82a6.8 6.8 0 1 0 13.6 0a6.8 6.8 0 1 0 -13.6 0zM2160 2355.47a6.8 6.8 0 1 0 13.6 0a6.8 6.8 0 1 0 -13.6 0zM2182.94 2337.09a6.8 6.8 0 1 0 13.6 0a6.8 6.8 0 1 0 -13.6 0zM2205.88 2317.71a6.8 6.8 0 1 0 13.6 0a6.8 6.8 0 1 0 -13.6 0zM2228.83 2297.61a6.8 6.8 0 1 0 13.6 0a6.8 6.8 0 1 0 -13.6 0zM2251.77 2277.06a6.8 6.8 0 1 0 13.6 0a6.8 6.8 0 1 0 -13.6 0z"/>
</g>
<text x="1401.8" y="2696.48" font-size="31.5" text-anchor="end">0</text>
<text x="1401.8" y="2612.52" font-size="31.5" text-anchor="end">500</text>
<text x="1401.8" y="2528.56" font-size="31.5" text-anchor="end">1000</text>
<text x="1401.8" y="2444.61" font-size="31.5" text-anchor="end">1500</text>
<text x="1401.8" y="2360.65" font-size="31.5" text-anchor="end">2000</text>
<text x="1401.8" y="2276.69" font-size="31.5" text-anchor="end">2500</text>
<text x="1401.8" y="2192.73" font-size="31.5" text-anchor="end">3000</text>
<text x="1401.8" y="2108.78" font-size="31.5" text-anchor="end">3500</text>
<text x="1428" y="2732.6" font-size="31.5" text-anchor="middle">0</text>
<text x="1519.78" y="2732.6" font-size="31.5" text-anchor="middle">60</text>
<text x="1611.55" y="2732.6" font-size="31.5" text-anchor="middle">120</text>
<text x="1703.33" y="2732.6" font-size="31.5" text-anchor="middle">180</text>
<text x="1795.1" y="2732.6" font-size="31.5" text-anchor="middle">240</text>
<text x="1886.88" y="2732.6" font-size="31.5" text-anchor="middle">300</text>
<text x="1978.66" y="2732.6" font-size="31.5" text-anchor="middle">360</text>
<text x="2070.43" y="2732.6" font-size="31.5" text-anchor="middle">420</text>
<text x="2162.21" y="2732.6" font-size="31.5" text-anchor="middle">480</text>
<text x="2253.98" y="2732.6" font-size="31.5" text-anchor="middle">540</text>
<path d="M1428 2097V2687.5M1418 2686.1H2270.1M1418 2602.14H1428M1418 2518.19H1428M1418 2434.23H1428M1418 2350.27H1428M1418 2266.31H1428M1418 2182.36H1428M1418 2098.4H1428M1428 2686.1V2695.1M1519.78 2686.1V2695.1M1611.55 2686.1V2695.1M1703.33 2686.1V2695.1M1795.1 2686.1V2695.1M1886.88 2686.1V2695.1M1978.66 2686.1V2695.1M2070.43 2686.1V2695.1M2162.21 2686.1V2695.1M2253.98 2686.1V2695.1" stroke="#000" stroke-width="2.8" fill="none"/>
<path d="M1476.1 2152.6H1526.3" stroke="#5B9BD5" stroke-width="12.6" stroke-linecap="round" fill="none"/>
<circle cx="1501.2" cy="2152.6" r="11.6" fill="#5B9BD5"/>
<text x="1554.2" y="2164.8" font-size="31">Cell 1</text>
<path d="M1476.1 2202.52H1526.3" stroke="#ED7D31" stroke-width="12.6" stroke-linecap="round" fill="none"/>
<circle cx="1501.2" cy="2202.52" r="11.6" fill="#ED7D31"/>
<text x="1554.2" y="2214.72" font-size="31">Cell 2</text>
<path d="M1476.1 2252.44H1526.3" stroke="#A5A5A5" stroke-width="12.6" stroke-linecap="round" fill="none"/>
<circle cx="1501.2" cy="2252.44" r="11.6" fill="#A5A5A5"/>
<text x="1554.2" y="2264.64" font-size="31">Cell 3</text>
<path d="M1476.1 2302.36H1526.3" stroke="#FFC000" stroke-width="12.6" stroke-linecap="round" fill="none"/>
<circle cx="1501.2" cy="2302.36" r="11.6" fill="#FFC000"/>
<text x="1554.2" y="2314.56" font-size="31">Cell 4</text>
<path d="M1476.1 2352.28H1526.3" stroke="#4472C4" stroke-width="12.6" stroke-linecap="round" fill="none"/>
<circle cx="1501.2" cy="2352.28" r="11.6" fill="#4472C4"/>
<text x="1554.2" y="2364.48" font-size="31">Cell 5</text>
<path d="M1476.1 2402.2H1526.3" stroke="#70AD47" stroke-width="12.6" stroke-linecap="round" fill="none"/>
<circle cx="1501.2" cy="2402.2" r="11.6" fill="#70AD47"/>
<text x="1554.2" y="2414.4" font-size="31">Cell 6</text>
<text x="1874" y="2789.8" font-size="39.4" text-anchor="middle">Time <tspan dx="8.2">(min)</tspan></text>
<text x="1313" y="2367.6" font-size="39.4" text-anchor="middle" transform="rotate(-90 1313 2367.6)">Integral <tspan dx="8.2">of</tspan> <tspan dx="8.2">intensity</tspan></text>
</g>
</svg></body></html>
